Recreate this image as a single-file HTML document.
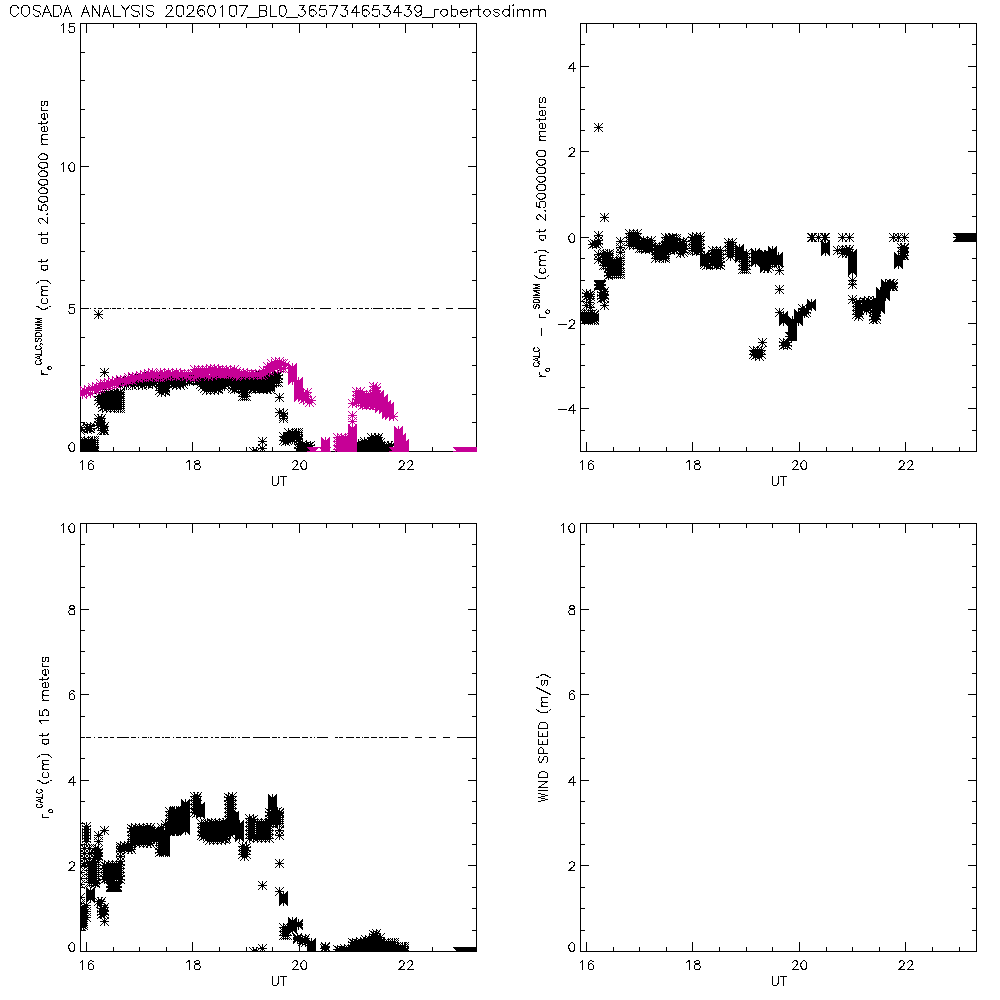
<!DOCTYPE html>
<html><head><meta charset="utf-8"><title>COSADA ANALYSIS</title>
<style>
html,body{margin:0;padding:0;background:#fff;}
svg{display:block}
text{font-family:"Liberation Sans",sans-serif;fill:none;stroke:none;}
path{fill:none;stroke-width:1;}
</style></head><body>
<svg width="1000" height="1000" viewBox="0 0 1000 1000" shape-rendering="crispEdges">
<defs><clipPath id="c1"><rect x="80" y="23" width="397" height="429"/></clipPath><clipPath id="c2"><rect x="580" y="23" width="397" height="429"/></clipPath><clipPath id="c3"><rect x="80" y="523" width="397" height="429"/></clipPath></defs>
<rect x="0" y="0" width="1000" height="1000" fill="#fff"/>
<rect x="80" y="23" width="397" height="1" fill="#000"/>
<rect x="80" y="451" width="397" height="1" fill="#000"/>
<rect x="80" y="23" width="1" height="429" fill="#000"/>
<rect x="476" y="23" width="1" height="429" fill="#000"/>
<rect x="86" y="24" width="1" height="9" fill="#000"/>
<rect x="86" y="442" width="1" height="9" fill="#000"/>
<rect x="192" y="24" width="1" height="9" fill="#000"/>
<rect x="192" y="442" width="1" height="9" fill="#000"/>
<rect x="299" y="24" width="1" height="9" fill="#000"/>
<rect x="299" y="442" width="1" height="9" fill="#000"/>
<rect x="405" y="24" width="1" height="9" fill="#000"/>
<rect x="405" y="442" width="1" height="9" fill="#000"/>
<rect x="113" y="24" width="1" height="4" fill="#000"/>
<rect x="113" y="447" width="1" height="4" fill="#000"/>
<rect x="139" y="24" width="1" height="4" fill="#000"/>
<rect x="139" y="447" width="1" height="4" fill="#000"/>
<rect x="166" y="24" width="1" height="4" fill="#000"/>
<rect x="166" y="447" width="1" height="4" fill="#000"/>
<rect x="219" y="24" width="1" height="4" fill="#000"/>
<rect x="219" y="447" width="1" height="4" fill="#000"/>
<rect x="246" y="24" width="1" height="4" fill="#000"/>
<rect x="246" y="447" width="1" height="4" fill="#000"/>
<rect x="272" y="24" width="1" height="4" fill="#000"/>
<rect x="272" y="447" width="1" height="4" fill="#000"/>
<rect x="326" y="24" width="1" height="4" fill="#000"/>
<rect x="326" y="447" width="1" height="4" fill="#000"/>
<rect x="352" y="24" width="1" height="4" fill="#000"/>
<rect x="352" y="447" width="1" height="4" fill="#000"/>
<rect x="379" y="24" width="1" height="4" fill="#000"/>
<rect x="379" y="447" width="1" height="4" fill="#000"/>
<rect x="432" y="24" width="1" height="4" fill="#000"/>
<rect x="432" y="447" width="1" height="4" fill="#000"/>
<rect x="459" y="24" width="1" height="4" fill="#000"/>
<rect x="459" y="447" width="1" height="4" fill="#000"/>
<rect x="81" y="308" width="8" height="1" fill="#000"/>
<rect x="468" y="308" width="8" height="1" fill="#000"/>
<rect x="81" y="166" width="8" height="1" fill="#000"/>
<rect x="468" y="166" width="8" height="1" fill="#000"/>
<rect x="81" y="422" width="4" height="1" fill="#000"/>
<rect x="472" y="422" width="4" height="1" fill="#000"/>
<rect x="81" y="394" width="4" height="1" fill="#000"/>
<rect x="472" y="394" width="4" height="1" fill="#000"/>
<rect x="81" y="365" width="4" height="1" fill="#000"/>
<rect x="472" y="365" width="4" height="1" fill="#000"/>
<rect x="81" y="337" width="4" height="1" fill="#000"/>
<rect x="472" y="337" width="4" height="1" fill="#000"/>
<rect x="81" y="280" width="4" height="1" fill="#000"/>
<rect x="472" y="280" width="4" height="1" fill="#000"/>
<rect x="81" y="251" width="4" height="1" fill="#000"/>
<rect x="472" y="251" width="4" height="1" fill="#000"/>
<rect x="81" y="223" width="4" height="1" fill="#000"/>
<rect x="472" y="223" width="4" height="1" fill="#000"/>
<rect x="81" y="194" width="4" height="1" fill="#000"/>
<rect x="472" y="194" width="4" height="1" fill="#000"/>
<rect x="81" y="137" width="4" height="1" fill="#000"/>
<rect x="472" y="137" width="4" height="1" fill="#000"/>
<rect x="81" y="109" width="4" height="1" fill="#000"/>
<rect x="472" y="109" width="4" height="1" fill="#000"/>
<rect x="81" y="80" width="4" height="1" fill="#000"/>
<rect x="472" y="80" width="4" height="1" fill="#000"/>
<rect x="81" y="52" width="4" height="1" fill="#000"/>
<rect x="472" y="52" width="4" height="1" fill="#000"/>
<rect x="580" y="23" width="397" height="1" fill="#000"/>
<rect x="580" y="451" width="397" height="1" fill="#000"/>
<rect x="580" y="23" width="1" height="429" fill="#000"/>
<rect x="976" y="23" width="1" height="429" fill="#000"/>
<rect x="586" y="24" width="1" height="9" fill="#000"/>
<rect x="586" y="442" width="1" height="9" fill="#000"/>
<rect x="692" y="24" width="1" height="9" fill="#000"/>
<rect x="692" y="442" width="1" height="9" fill="#000"/>
<rect x="799" y="24" width="1" height="9" fill="#000"/>
<rect x="799" y="442" width="1" height="9" fill="#000"/>
<rect x="905" y="24" width="1" height="9" fill="#000"/>
<rect x="905" y="442" width="1" height="9" fill="#000"/>
<rect x="613" y="24" width="1" height="4" fill="#000"/>
<rect x="613" y="447" width="1" height="4" fill="#000"/>
<rect x="639" y="24" width="1" height="4" fill="#000"/>
<rect x="639" y="447" width="1" height="4" fill="#000"/>
<rect x="666" y="24" width="1" height="4" fill="#000"/>
<rect x="666" y="447" width="1" height="4" fill="#000"/>
<rect x="719" y="24" width="1" height="4" fill="#000"/>
<rect x="719" y="447" width="1" height="4" fill="#000"/>
<rect x="746" y="24" width="1" height="4" fill="#000"/>
<rect x="746" y="447" width="1" height="4" fill="#000"/>
<rect x="772" y="24" width="1" height="4" fill="#000"/>
<rect x="772" y="447" width="1" height="4" fill="#000"/>
<rect x="826" y="24" width="1" height="4" fill="#000"/>
<rect x="826" y="447" width="1" height="4" fill="#000"/>
<rect x="852" y="24" width="1" height="4" fill="#000"/>
<rect x="852" y="447" width="1" height="4" fill="#000"/>
<rect x="879" y="24" width="1" height="4" fill="#000"/>
<rect x="879" y="447" width="1" height="4" fill="#000"/>
<rect x="932" y="24" width="1" height="4" fill="#000"/>
<rect x="932" y="447" width="1" height="4" fill="#000"/>
<rect x="959" y="24" width="1" height="4" fill="#000"/>
<rect x="959" y="447" width="1" height="4" fill="#000"/>
<rect x="581" y="408" width="8" height="1" fill="#000"/>
<rect x="968" y="408" width="8" height="1" fill="#000"/>
<rect x="581" y="323" width="8" height="1" fill="#000"/>
<rect x="968" y="323" width="8" height="1" fill="#000"/>
<rect x="581" y="237" width="8" height="1" fill="#000"/>
<rect x="968" y="237" width="8" height="1" fill="#000"/>
<rect x="581" y="151" width="8" height="1" fill="#000"/>
<rect x="968" y="151" width="8" height="1" fill="#000"/>
<rect x="581" y="66" width="8" height="1" fill="#000"/>
<rect x="968" y="66" width="8" height="1" fill="#000"/>
<rect x="581" y="430" width="4" height="1" fill="#000"/>
<rect x="972" y="430" width="4" height="1" fill="#000"/>
<rect x="581" y="387" width="4" height="1" fill="#000"/>
<rect x="972" y="387" width="4" height="1" fill="#000"/>
<rect x="581" y="365" width="4" height="1" fill="#000"/>
<rect x="972" y="365" width="4" height="1" fill="#000"/>
<rect x="581" y="344" width="4" height="1" fill="#000"/>
<rect x="972" y="344" width="4" height="1" fill="#000"/>
<rect x="581" y="301" width="4" height="1" fill="#000"/>
<rect x="972" y="301" width="4" height="1" fill="#000"/>
<rect x="581" y="280" width="4" height="1" fill="#000"/>
<rect x="972" y="280" width="4" height="1" fill="#000"/>
<rect x="581" y="258" width="4" height="1" fill="#000"/>
<rect x="972" y="258" width="4" height="1" fill="#000"/>
<rect x="581" y="216" width="4" height="1" fill="#000"/>
<rect x="972" y="216" width="4" height="1" fill="#000"/>
<rect x="581" y="194" width="4" height="1" fill="#000"/>
<rect x="972" y="194" width="4" height="1" fill="#000"/>
<rect x="581" y="173" width="4" height="1" fill="#000"/>
<rect x="972" y="173" width="4" height="1" fill="#000"/>
<rect x="581" y="130" width="4" height="1" fill="#000"/>
<rect x="972" y="130" width="4" height="1" fill="#000"/>
<rect x="581" y="109" width="4" height="1" fill="#000"/>
<rect x="972" y="109" width="4" height="1" fill="#000"/>
<rect x="581" y="87" width="4" height="1" fill="#000"/>
<rect x="972" y="87" width="4" height="1" fill="#000"/>
<rect x="581" y="44" width="4" height="1" fill="#000"/>
<rect x="972" y="44" width="4" height="1" fill="#000"/>
<rect x="80" y="523" width="397" height="1" fill="#000"/>
<rect x="80" y="951" width="397" height="1" fill="#000"/>
<rect x="80" y="523" width="1" height="429" fill="#000"/>
<rect x="476" y="523" width="1" height="429" fill="#000"/>
<rect x="86" y="524" width="1" height="9" fill="#000"/>
<rect x="86" y="942" width="1" height="9" fill="#000"/>
<rect x="192" y="524" width="1" height="9" fill="#000"/>
<rect x="192" y="942" width="1" height="9" fill="#000"/>
<rect x="299" y="524" width="1" height="9" fill="#000"/>
<rect x="299" y="942" width="1" height="9" fill="#000"/>
<rect x="405" y="524" width="1" height="9" fill="#000"/>
<rect x="405" y="942" width="1" height="9" fill="#000"/>
<rect x="113" y="524" width="1" height="4" fill="#000"/>
<rect x="113" y="947" width="1" height="4" fill="#000"/>
<rect x="139" y="524" width="1" height="4" fill="#000"/>
<rect x="139" y="947" width="1" height="4" fill="#000"/>
<rect x="166" y="524" width="1" height="4" fill="#000"/>
<rect x="166" y="947" width="1" height="4" fill="#000"/>
<rect x="219" y="524" width="1" height="4" fill="#000"/>
<rect x="219" y="947" width="1" height="4" fill="#000"/>
<rect x="246" y="524" width="1" height="4" fill="#000"/>
<rect x="246" y="947" width="1" height="4" fill="#000"/>
<rect x="272" y="524" width="1" height="4" fill="#000"/>
<rect x="272" y="947" width="1" height="4" fill="#000"/>
<rect x="326" y="524" width="1" height="4" fill="#000"/>
<rect x="326" y="947" width="1" height="4" fill="#000"/>
<rect x="352" y="524" width="1" height="4" fill="#000"/>
<rect x="352" y="947" width="1" height="4" fill="#000"/>
<rect x="379" y="524" width="1" height="4" fill="#000"/>
<rect x="379" y="947" width="1" height="4" fill="#000"/>
<rect x="432" y="524" width="1" height="4" fill="#000"/>
<rect x="432" y="947" width="1" height="4" fill="#000"/>
<rect x="459" y="524" width="1" height="4" fill="#000"/>
<rect x="459" y="947" width="1" height="4" fill="#000"/>
<rect x="81" y="865" width="8" height="1" fill="#000"/>
<rect x="468" y="865" width="8" height="1" fill="#000"/>
<rect x="81" y="780" width="8" height="1" fill="#000"/>
<rect x="468" y="780" width="8" height="1" fill="#000"/>
<rect x="81" y="694" width="8" height="1" fill="#000"/>
<rect x="468" y="694" width="8" height="1" fill="#000"/>
<rect x="81" y="609" width="8" height="1" fill="#000"/>
<rect x="468" y="609" width="8" height="1" fill="#000"/>
<rect x="81" y="930" width="4" height="1" fill="#000"/>
<rect x="472" y="930" width="4" height="1" fill="#000"/>
<rect x="81" y="908" width="4" height="1" fill="#000"/>
<rect x="472" y="908" width="4" height="1" fill="#000"/>
<rect x="81" y="887" width="4" height="1" fill="#000"/>
<rect x="472" y="887" width="4" height="1" fill="#000"/>
<rect x="81" y="844" width="4" height="1" fill="#000"/>
<rect x="472" y="844" width="4" height="1" fill="#000"/>
<rect x="81" y="823" width="4" height="1" fill="#000"/>
<rect x="472" y="823" width="4" height="1" fill="#000"/>
<rect x="81" y="801" width="4" height="1" fill="#000"/>
<rect x="472" y="801" width="4" height="1" fill="#000"/>
<rect x="81" y="758" width="4" height="1" fill="#000"/>
<rect x="472" y="758" width="4" height="1" fill="#000"/>
<rect x="81" y="737" width="4" height="1" fill="#000"/>
<rect x="472" y="737" width="4" height="1" fill="#000"/>
<rect x="81" y="716" width="4" height="1" fill="#000"/>
<rect x="472" y="716" width="4" height="1" fill="#000"/>
<rect x="81" y="673" width="4" height="1" fill="#000"/>
<rect x="472" y="673" width="4" height="1" fill="#000"/>
<rect x="81" y="651" width="4" height="1" fill="#000"/>
<rect x="472" y="651" width="4" height="1" fill="#000"/>
<rect x="81" y="630" width="4" height="1" fill="#000"/>
<rect x="472" y="630" width="4" height="1" fill="#000"/>
<rect x="81" y="587" width="4" height="1" fill="#000"/>
<rect x="472" y="587" width="4" height="1" fill="#000"/>
<rect x="81" y="566" width="4" height="1" fill="#000"/>
<rect x="472" y="566" width="4" height="1" fill="#000"/>
<rect x="81" y="544" width="4" height="1" fill="#000"/>
<rect x="472" y="544" width="4" height="1" fill="#000"/>
<rect x="580" y="523" width="397" height="1" fill="#000"/>
<rect x="580" y="951" width="397" height="1" fill="#000"/>
<rect x="580" y="523" width="1" height="429" fill="#000"/>
<rect x="976" y="523" width="1" height="429" fill="#000"/>
<rect x="586" y="524" width="1" height="9" fill="#000"/>
<rect x="586" y="942" width="1" height="9" fill="#000"/>
<rect x="692" y="524" width="1" height="9" fill="#000"/>
<rect x="692" y="942" width="1" height="9" fill="#000"/>
<rect x="799" y="524" width="1" height="9" fill="#000"/>
<rect x="799" y="942" width="1" height="9" fill="#000"/>
<rect x="905" y="524" width="1" height="9" fill="#000"/>
<rect x="905" y="942" width="1" height="9" fill="#000"/>
<rect x="613" y="524" width="1" height="4" fill="#000"/>
<rect x="613" y="947" width="1" height="4" fill="#000"/>
<rect x="639" y="524" width="1" height="4" fill="#000"/>
<rect x="639" y="947" width="1" height="4" fill="#000"/>
<rect x="666" y="524" width="1" height="4" fill="#000"/>
<rect x="666" y="947" width="1" height="4" fill="#000"/>
<rect x="719" y="524" width="1" height="4" fill="#000"/>
<rect x="719" y="947" width="1" height="4" fill="#000"/>
<rect x="746" y="524" width="1" height="4" fill="#000"/>
<rect x="746" y="947" width="1" height="4" fill="#000"/>
<rect x="772" y="524" width="1" height="4" fill="#000"/>
<rect x="772" y="947" width="1" height="4" fill="#000"/>
<rect x="826" y="524" width="1" height="4" fill="#000"/>
<rect x="826" y="947" width="1" height="4" fill="#000"/>
<rect x="852" y="524" width="1" height="4" fill="#000"/>
<rect x="852" y="947" width="1" height="4" fill="#000"/>
<rect x="879" y="524" width="1" height="4" fill="#000"/>
<rect x="879" y="947" width="1" height="4" fill="#000"/>
<rect x="932" y="524" width="1" height="4" fill="#000"/>
<rect x="932" y="947" width="1" height="4" fill="#000"/>
<rect x="959" y="524" width="1" height="4" fill="#000"/>
<rect x="959" y="947" width="1" height="4" fill="#000"/>
<rect x="581" y="865" width="8" height="1" fill="#000"/>
<rect x="968" y="865" width="8" height="1" fill="#000"/>
<rect x="581" y="780" width="8" height="1" fill="#000"/>
<rect x="968" y="780" width="8" height="1" fill="#000"/>
<rect x="581" y="694" width="8" height="1" fill="#000"/>
<rect x="968" y="694" width="8" height="1" fill="#000"/>
<rect x="581" y="609" width="8" height="1" fill="#000"/>
<rect x="968" y="609" width="8" height="1" fill="#000"/>
<rect x="581" y="930" width="4" height="1" fill="#000"/>
<rect x="972" y="930" width="4" height="1" fill="#000"/>
<rect x="581" y="908" width="4" height="1" fill="#000"/>
<rect x="972" y="908" width="4" height="1" fill="#000"/>
<rect x="581" y="887" width="4" height="1" fill="#000"/>
<rect x="972" y="887" width="4" height="1" fill="#000"/>
<rect x="581" y="844" width="4" height="1" fill="#000"/>
<rect x="972" y="844" width="4" height="1" fill="#000"/>
<rect x="581" y="823" width="4" height="1" fill="#000"/>
<rect x="972" y="823" width="4" height="1" fill="#000"/>
<rect x="581" y="801" width="4" height="1" fill="#000"/>
<rect x="972" y="801" width="4" height="1" fill="#000"/>
<rect x="581" y="758" width="4" height="1" fill="#000"/>
<rect x="972" y="758" width="4" height="1" fill="#000"/>
<rect x="581" y="737" width="4" height="1" fill="#000"/>
<rect x="972" y="737" width="4" height="1" fill="#000"/>
<rect x="581" y="716" width="4" height="1" fill="#000"/>
<rect x="972" y="716" width="4" height="1" fill="#000"/>
<rect x="581" y="673" width="4" height="1" fill="#000"/>
<rect x="972" y="673" width="4" height="1" fill="#000"/>
<rect x="581" y="651" width="4" height="1" fill="#000"/>
<rect x="972" y="651" width="4" height="1" fill="#000"/>
<rect x="581" y="630" width="4" height="1" fill="#000"/>
<rect x="972" y="630" width="4" height="1" fill="#000"/>
<rect x="581" y="587" width="4" height="1" fill="#000"/>
<rect x="972" y="587" width="4" height="1" fill="#000"/>
<rect x="581" y="566" width="4" height="1" fill="#000"/>
<rect x="972" y="566" width="4" height="1" fill="#000"/>
<rect x="581" y="544" width="4" height="1" fill="#000"/>
<rect x="972" y="544" width="4" height="1" fill="#000"/>
<path clip-path="url(#c1)" stroke="#000" d="M76 427.5h9M80.5 423v9M76 423l9 9M85 423l-9 9M76 430.5h9M80.5 426v9M76 426l9 9M85 426l-9 9M76 440.5h9M80.5 436v9M76 436l9 9M85 436l-9 9M76 444.5h9M80.5 440v9M76 440l9 9M85 440l-9 9M76 448.5h9M80.5 444v9M76 444l9 9M85 444l-9 9M76 451.5h9M80.5 447v9M76 447l9 9M85 447l-9 9M78 442.5h9M82.5 438v9M78 438l9 9M87 438l-9 9M78 446.5h9M82.5 442v9M78 442l9 9M87 442l-9 9M78 450.5h9M82.5 446v9M78 446l9 9M87 446l-9 9M80 440.5h9M84.5 436v9M80 436l9 9M89 436l-9 9M80 444.5h9M84.5 440v9M80 440l9 9M89 440l-9 9M80 448.5h9M84.5 444v9M80 444l9 9M89 444l-9 9M80 451.5h9M84.5 447v9M80 447l9 9M89 447l-9 9M82 442.5h9M86.5 438v9M82 438l9 9M91 438l-9 9M82 446.5h9M86.5 442v9M82 442l9 9M91 442l-9 9M82 450.5h9M86.5 446v9M82 446l9 9M91 446l-9 9M83 427.5h9M87.5 423v9M83 423l9 9M92 423l-9 9M83 429.5h9M87.5 425v9M83 425l9 9M92 425l-9 9M84 441.5h9M88.5 437v9M84 437l9 9M93 437l-9 9M84 444.5h9M88.5 440v9M84 440l9 9M93 440l-9 9M84 448.5h9M88.5 444v9M84 444l9 9M93 444l-9 9M84 451.5h9M88.5 447v9M84 447l9 9M93 447l-9 9M85 428.5h9M89.5 424v9M85 424l9 9M94 424l-9 9M86 426.5h9M90.5 422v9M86 422l9 9M95 422l-9 9M86 428.5h9M90.5 424v9M86 424l9 9M95 424l-9 9M86 442.5h9M90.5 438v9M86 438l9 9M95 438l-9 9M86 446.5h9M90.5 442v9M86 442l9 9M95 442l-9 9M86 450.5h9M90.5 446v9M86 446l9 9M95 446l-9 9M88 440.5h9M92.5 436v9M88 436l9 9M97 436l-9 9M88 444.5h9M92.5 440v9M88 440l9 9M97 440l-9 9M88 448.5h9M92.5 444v9M88 444l9 9M97 444l-9 9M88 451.5h9M92.5 447v9M88 447l9 9M97 447l-9 9M90 440.5h9M94.5 436v9M90 436l9 9M99 436l-9 9M90 442.5h9M94.5 438v9M90 438l9 9M99 438l-9 9M90 444.5h9M94.5 440v9M90 440l9 9M99 440l-9 9M90 446.5h9M94.5 442v9M90 442l9 9M99 442l-9 9M90 448.5h9M94.5 444v9M90 444l9 9M99 444l-9 9M90 450.5h9M94.5 446v9M90 446l9 9M99 446l-9 9M90 451.5h9M94.5 447v9M90 447l9 9M99 447l-9 9M94 314.5h9M98.5 310v9M94 310l9 9M103 310l-9 9M94 396.5h9M98.5 392v9M94 392l9 9M103 392l-9 9M94 400.5h9M98.5 396v9M94 396l9 9M103 396l-9 9M94 418.5h9M98.5 414v9M94 414l9 9M103 414l-9 9M94 422.5h9M98.5 418v9M94 418l9 9M103 418l-9 9M94 425.5h9M98.5 421v9M94 421l9 9M103 421l-9 9M96 398.5h9M100.5 394v9M96 394l9 9M105 394l-9 9M96 402.5h9M100.5 398v9M96 398l9 9M105 398l-9 9M96 420.5h9M100.5 416v9M96 416l9 9M105 416l-9 9M96 424.5h9M100.5 420v9M96 420l9 9M105 420l-9 9M97 396.5h9M101.5 392v9M97 392l9 9M106 392l-9 9M97 400.5h9M101.5 396v9M97 396l9 9M106 396l-9 9M97 418.5h9M101.5 414v9M97 414l9 9M106 414l-9 9M97 422.5h9M101.5 418v9M97 418l9 9M106 418l-9 9M97 426.5h9M101.5 422v9M97 422l9 9M106 422l-9 9M97 430.5h9M101.5 426v9M97 426l9 9M106 426l-9 9M98 392.5h9M102.5 388v9M98 388l9 9M107 388l-9 9M98 396.5h9M102.5 392v9M98 392l9 9M107 392l-9 9M98 400.5h9M102.5 396v9M98 396l9 9M107 396l-9 9M98 404.5h9M102.5 400v9M98 400l9 9M107 400l-9 9M98 407.5h9M102.5 403v9M98 403l9 9M107 403l-9 9M99 428.5h9M103.5 424v9M99 424l9 9M108 424l-9 9M99 430.5h9M103.5 426v9M99 426l9 9M108 426l-9 9M100 372.5h9M104.5 368v9M100 368l9 9M109 368l-9 9M100 394.5h9M104.5 390v9M100 390l9 9M109 390l-9 9M100 398.5h9M104.5 394v9M100 394l9 9M109 394l-9 9M100 402.5h9M104.5 398v9M100 398l9 9M109 398l-9 9M100 406.5h9M104.5 402v9M100 402l9 9M109 402l-9 9M100 426.5h9M104.5 422v9M100 422l9 9M109 422l-9 9M100 430.5h9M104.5 426v9M100 426l9 9M109 426l-9 9M102 392.5h9M106.5 388v9M102 388l9 9M111 388l-9 9M102 396.5h9M106.5 392v9M102 392l9 9M111 392l-9 9M102 400.5h9M106.5 396v9M102 396l9 9M111 396l-9 9M102 404.5h9M106.5 400v9M102 400l9 9M111 400l-9 9M102 408.5h9M106.5 404v9M102 404l9 9M111 404l-9 9M104 394.5h9M108.5 390v9M104 390l9 9M113 390l-9 9M104 398.5h9M108.5 394v9M104 394l9 9M113 394l-9 9M104 402.5h9M108.5 398v9M104 398l9 9M113 398l-9 9M104 406.5h9M108.5 402v9M104 402l9 9M113 402l-9 9M106 392.5h9M110.5 388v9M106 388l9 9M115 388l-9 9M106 396.5h9M110.5 392v9M106 392l9 9M115 392l-9 9M106 400.5h9M110.5 396v9M106 396l9 9M115 396l-9 9M106 404.5h9M110.5 400v9M106 400l9 9M115 400l-9 9M106 408.5h9M110.5 404v9M106 404l9 9M115 404l-9 9M108 394.5h9M112.5 390v9M108 390l9 9M117 390l-9 9M108 398.5h9M112.5 394v9M108 394l9 9M117 394l-9 9M108 402.5h9M112.5 398v9M108 398l9 9M117 398l-9 9M108 406.5h9M112.5 402v9M108 402l9 9M117 402l-9 9M110 393.5h9M114.5 389v9M110 389l9 9M119 389l-9 9M110 396.5h9M114.5 392v9M110 392l9 9M119 392l-9 9M110 400.5h9M114.5 396v9M110 396l9 9M119 396l-9 9M110 404.5h9M114.5 400v9M110 400l9 9M119 400l-9 9M110 408.5h9M114.5 404v9M110 404l9 9M119 404l-9 9M112 394.5h9M116.5 390v9M112 390l9 9M121 390l-9 9M112 398.5h9M116.5 394v9M112 394l9 9M121 394l-9 9M112 402.5h9M116.5 398v9M112 398l9 9M121 398l-9 9M112 406.5h9M116.5 402v9M112 402l9 9M121 402l-9 9M114 393.5h9M118.5 389v9M114 389l9 9M123 389l-9 9M114 396.5h9M118.5 392v9M114 392l9 9M123 392l-9 9M114 400.5h9M118.5 396v9M114 396l9 9M123 396l-9 9M114 404.5h9M118.5 400v9M114 400l9 9M123 400l-9 9M114 408.5h9M118.5 404v9M114 404l9 9M123 404l-9 9M116 380.5h9M120.5 376v9M116 376l9 9M125 376l-9 9M116 385.5h9M120.5 381v9M116 381l9 9M125 381l-9 9M116 392.5h9M120.5 388v9M116 388l9 9M125 388l-9 9M116 394.5h9M120.5 390v9M116 390l9 9M125 390l-9 9M116 396.5h9M120.5 392v9M116 392l9 9M125 392l-9 9M116 398.5h9M120.5 394v9M116 394l9 9M125 394l-9 9M116 400.5h9M120.5 396v9M116 396l9 9M125 396l-9 9M116 402.5h9M120.5 398v9M116 398l9 9M125 398l-9 9M116 404.5h9M120.5 400v9M116 400l9 9M125 400l-9 9M116 406.5h9M120.5 402v9M116 402l9 9M125 402l-9 9M116 408.5h9M120.5 404v9M116 404l9 9M125 404l-9 9M118 382.5h9M122.5 378v9M118 378l9 9M127 378l-9 9M120 379.5h9M124.5 375v9M120 375l9 9M129 375l-9 9M120 383.5h9M124.5 379v9M120 379l9 9M129 379l-9 9M122 381.5h9M126.5 377v9M122 377l9 9M131 377l-9 9M122 385.5h9M126.5 381v9M122 381l9 9M131 381l-9 9M124 379.5h9M128.5 375v9M124 375l9 9M133 375l-9 9M124 383.5h9M128.5 379v9M124 379l9 9M133 379l-9 9M126 381.5h9M130.5 377v9M126 377l9 9M135 377l-9 9M126 383.5h9M130.5 379v9M126 379l9 9M135 379l-9 9M128 377.5h9M132.5 373v9M128 373l9 9M137 373l-9 9M128 381.5h9M132.5 377v9M128 377l9 9M137 377l-9 9M128 385.5h9M132.5 381v9M128 381l9 9M137 381l-9 9M130 379.5h9M134.5 375v9M130 375l9 9M139 375l-9 9M130 383.5h9M134.5 379v9M130 379l9 9M139 379l-9 9M132 378.5h9M136.5 374v9M132 374l9 9M141 374l-9 9M132 382.5h9M136.5 378v9M132 378l9 9M141 378l-9 9M134 380.5h9M138.5 376v9M134 376l9 9M143 376l-9 9M134 384.5h9M138.5 380v9M134 380l9 9M143 380l-9 9M136 377.5h9M140.5 373v9M136 373l9 9M145 373l-9 9M136 381.5h9M140.5 377v9M136 377l9 9M145 377l-9 9M138 379.5h9M142.5 375v9M138 375l9 9M147 375l-9 9M138 385.5h9M142.5 381v9M138 381l9 9M147 381l-9 9M140 378.5h9M144.5 374v9M140 374l9 9M149 374l-9 9M140 382.5h9M144.5 378v9M140 378l9 9M149 378l-9 9M142 380.5h9M146.5 376v9M142 376l9 9M151 376l-9 9M142 383.5h9M146.5 379v9M142 379l9 9M151 379l-9 9M144 375.5h9M148.5 371v9M144 371l9 9M153 371l-9 9M144 379.5h9M148.5 375v9M144 375l9 9M153 375l-9 9M144 384.5h9M148.5 380v9M144 380l9 9M153 380l-9 9M146 377.5h9M150.5 373v9M146 373l9 9M155 373l-9 9M146 381.5h9M150.5 377v9M146 377l9 9M155 377l-9 9M148 376.5h9M152.5 372v9M148 372l9 9M157 372l-9 9M148 380.5h9M152.5 376v9M148 376l9 9M157 376l-9 9M148 384.5h9M152.5 380v9M148 380l9 9M157 380l-9 9M150 378.5h9M154.5 374v9M150 374l9 9M159 374l-9 9M150 382.5h9M154.5 378v9M150 378l9 9M159 378l-9 9M155 379.5h9M159.5 375v9M155 375l9 9M164 375l-9 9M155 382.5h9M159.5 378v9M155 378l9 9M164 378l-9 9M155 386.5h9M159.5 382v9M155 382l9 9M164 382l-9 9M155 390.5h9M159.5 386v9M155 386l9 9M164 386l-9 9M157 380.5h9M161.5 376v9M157 376l9 9M166 376l-9 9M157 384.5h9M161.5 380v9M157 380l9 9M166 380l-9 9M157 388.5h9M161.5 384v9M157 384l9 9M166 384l-9 9M157 392.5h9M161.5 388v9M157 388l9 9M166 388l-9 9M159 379.5h9M163.5 375v9M159 375l9 9M168 375l-9 9M159 382.5h9M163.5 378v9M159 378l9 9M168 378l-9 9M159 386.5h9M163.5 382v9M159 382l9 9M168 382l-9 9M159 390.5h9M163.5 386v9M159 386l9 9M168 386l-9 9M161 377.5h9M165.5 373v9M161 373l9 9M170 373l-9 9M161 378.5h9M165.5 374v9M161 374l9 9M170 374l-9 9M161 380.5h9M165.5 376v9M161 376l9 9M170 376l-9 9M161 381.5h9M165.5 377v9M161 377l9 9M170 377l-9 9M161 382.5h9M165.5 378v9M161 378l9 9M170 378l-9 9M161 384.5h9M165.5 380v9M161 380l9 9M170 380l-9 9M161 386.5h9M165.5 382v9M161 382l9 9M170 382l-9 9M161 388.5h9M165.5 384v9M161 384l9 9M170 384l-9 9M161 390.5h9M165.5 386v9M161 386l9 9M170 386l-9 9M161 391.5h9M165.5 387v9M161 387l9 9M170 387l-9 9M163 379.5h9M167.5 375v9M163 375l9 9M172 375l-9 9M163 383.5h9M167.5 379v9M163 379l9 9M172 379l-9 9M165 378.5h9M169.5 374v9M165 374l9 9M174 374l-9 9M165 381.5h9M169.5 377v9M165 377l9 9M174 377l-9 9M165 383.5h9M169.5 379v9M165 379l9 9M174 379l-9 9M167 379.5h9M171.5 375v9M167 375l9 9M176 375l-9 9M167 383.5h9M171.5 379v9M167 379l9 9M176 379l-9 9M169 377.5h9M173.5 373v9M169 373l9 9M178 373l-9 9M169 381.5h9M173.5 377v9M169 377l9 9M178 377l-9 9M169 384.5h9M173.5 380v9M169 380l9 9M178 380l-9 9M171 379.5h9M175.5 375v9M171 375l9 9M180 375l-9 9M171 383.5h9M175.5 379v9M171 379l9 9M180 379l-9 9M172 378.5h9M176.5 374v9M172 374l9 9M181 374l-9 9M172 381.5h9M176.5 377v9M172 377l9 9M181 377l-9 9M172 384.5h9M176.5 380v9M172 380l9 9M181 380l-9 9M172 385.5h9M176.5 381v9M172 381l9 9M181 381l-9 9M174 379.5h9M178.5 375v9M174 375l9 9M183 375l-9 9M174 383.5h9M178.5 379v9M174 379l9 9M183 379l-9 9M176 377.5h9M180.5 373v9M176 373l9 9M185 373l-9 9M176 381.5h9M180.5 377v9M176 377l9 9M185 377l-9 9M176 385.5h9M180.5 381v9M176 381l9 9M185 381l-9 9M178 379.5h9M182.5 375v9M178 375l9 9M187 375l-9 9M178 383.5h9M182.5 379v9M178 379l9 9M187 379l-9 9M179 377.5h9M183.5 373v9M179 373l9 9M188 373l-9 9M179 380.5h9M183.5 376v9M179 376l9 9M188 376l-9 9M179 381.5h9M183.5 377v9M179 377l9 9M188 377l-9 9M179 384.5h9M183.5 380v9M179 380l9 9M188 380l-9 9M181 378.5h9M185.5 374v9M181 374l9 9M190 374l-9 9M181 380.5h9M185.5 376v9M181 376l9 9M190 376l-9 9M183 376.5h9M187.5 372v9M183 372l9 9M192 372l-9 9M183 380.5h9M187.5 376v9M183 376l9 9M192 376l-9 9M185 378.5h9M189.5 374v9M185 374l9 9M194 374l-9 9M185 381.5h9M189.5 377v9M185 377l9 9M194 377l-9 9M187 376.5h9M191.5 372v9M187 372l9 9M196 372l-9 9M187 380.5h9M191.5 376v9M187 376l9 9M196 376l-9 9M189 378.5h9M193.5 374v9M189 374l9 9M198 374l-9 9M189 380.5h9M193.5 376v9M189 376l9 9M198 376l-9 9M191 377.5h9M195.5 373v9M191 373l9 9M200 373l-9 9M191 380.5h9M195.5 376v9M191 376l9 9M200 376l-9 9M193 378.5h9M197.5 374v9M193 374l9 9M202 374l-9 9M193 381.5h9M197.5 377v9M193 377l9 9M202 377l-9 9M195 377.5h9M199.5 373v9M195 373l9 9M204 373l-9 9M195 380.5h9M199.5 376v9M195 376l9 9M204 376l-9 9M196 376.5h9M200.5 372v9M196 372l9 9M205 372l-9 9M196 380.5h9M200.5 376v9M196 376l9 9M205 376l-9 9M196 384.5h9M200.5 380v9M196 380l9 9M205 380l-9 9M198 378.5h9M202.5 374v9M198 374l9 9M207 374l-9 9M198 382.5h9M202.5 378v9M198 378l9 9M207 378l-9 9M198 386.5h9M202.5 382v9M198 382l9 9M207 382l-9 9M200 376.5h9M204.5 372v9M200 372l9 9M209 372l-9 9M200 380.5h9M204.5 376v9M200 376l9 9M209 376l-9 9M200 384.5h9M204.5 380v9M200 380l9 9M209 380l-9 9M200 388.5h9M204.5 384v9M200 384l9 9M209 384l-9 9M202 378.5h9M206.5 374v9M202 374l9 9M211 374l-9 9M202 382.5h9M206.5 378v9M202 378l9 9M211 378l-9 9M202 386.5h9M206.5 382v9M202 382l9 9M211 382l-9 9M202 390.5h9M206.5 386v9M202 386l9 9M211 386l-9 9M204 376.5h9M208.5 372v9M204 372l9 9M213 372l-9 9M204 380.5h9M208.5 376v9M204 376l9 9M213 376l-9 9M204 384.5h9M208.5 380v9M204 380l9 9M213 380l-9 9M204 388.5h9M208.5 384v9M204 384l9 9M213 384l-9 9M206 378.5h9M210.5 374v9M206 374l9 9M215 374l-9 9M206 382.5h9M210.5 378v9M206 378l9 9M215 378l-9 9M206 386.5h9M210.5 382v9M206 382l9 9M215 382l-9 9M206 390.5h9M210.5 386v9M206 386l9 9M215 386l-9 9M208 376.5h9M212.5 372v9M208 372l9 9M217 372l-9 9M208 380.5h9M212.5 376v9M208 376l9 9M217 376l-9 9M208 384.5h9M212.5 380v9M208 380l9 9M217 380l-9 9M208 388.5h9M212.5 384v9M208 384l9 9M217 384l-9 9M210 378.5h9M214.5 374v9M210 374l9 9M219 374l-9 9M210 382.5h9M214.5 378v9M210 378l9 9M219 378l-9 9M210 386.5h9M214.5 382v9M210 382l9 9M219 382l-9 9M210 390.5h9M214.5 386v9M210 386l9 9M219 386l-9 9M212 376.5h9M216.5 372v9M212 372l9 9M221 372l-9 9M212 380.5h9M216.5 376v9M212 376l9 9M221 376l-9 9M212 384.5h9M216.5 380v9M212 380l9 9M221 380l-9 9M212 388.5h9M216.5 384v9M212 384l9 9M221 384l-9 9M214 377.5h9M218.5 373v9M214 373l9 9M223 373l-9 9M214 378.5h9M218.5 374v9M214 374l9 9M223 374l-9 9M214 380.5h9M218.5 376v9M214 376l9 9M223 376l-9 9M214 382.5h9M218.5 378v9M214 378l9 9M223 378l-9 9M214 384.5h9M218.5 380v9M214 380l9 9M223 380l-9 9M214 386.5h9M218.5 382v9M214 382l9 9M223 382l-9 9M214 388.5h9M218.5 384v9M214 384l9 9M223 384l-9 9M214 389.5h9M218.5 385v9M214 385l9 9M223 385l-9 9M216 378.5h9M220.5 374v9M216 374l9 9M225 374l-9 9M216 382.5h9M220.5 378v9M216 378l9 9M225 378l-9 9M216 385.5h9M220.5 381v9M216 381l9 9M225 381l-9 9M218 377.5h9M222.5 373v9M218 373l9 9M227 373l-9 9M218 380.5h9M222.5 376v9M218 376l9 9M227 376l-9 9M218 384.5h9M222.5 380v9M218 380l9 9M227 380l-9 9M220 378.5h9M224.5 374v9M220 374l9 9M229 374l-9 9M220 382.5h9M224.5 378v9M220 378l9 9M229 378l-9 9M220 386.5h9M224.5 382v9M220 382l9 9M229 382l-9 9M221 376.5h9M225.5 372v9M221 372l9 9M230 372l-9 9M221 380.5h9M225.5 376v9M221 376l9 9M230 376l-9 9M221 384.5h9M225.5 380v9M221 380l9 9M230 380l-9 9M223 378.5h9M227.5 374v9M223 374l9 9M232 374l-9 9M223 382.5h9M227.5 378v9M223 378l9 9M232 378l-9 9M225 377.5h9M229.5 373v9M225 373l9 9M234 373l-9 9M225 380.5h9M229.5 376v9M225 376l9 9M234 376l-9 9M227 378.5h9M231.5 374v9M227 374l9 9M236 374l-9 9M227 382.5h9M231.5 378v9M227 378l9 9M236 378l-9 9M228 376.5h9M232.5 372v9M228 372l9 9M237 372l-9 9M228 380.5h9M232.5 376v9M228 376l9 9M237 376l-9 9M228 384.5h9M232.5 380v9M228 380l9 9M237 380l-9 9M228 388.5h9M232.5 384v9M228 384l9 9M237 384l-9 9M230 378.5h9M234.5 374v9M230 374l9 9M239 374l-9 9M230 382.5h9M234.5 378v9M230 378l9 9M239 378l-9 9M230 386.5h9M234.5 382v9M230 382l9 9M239 382l-9 9M230 389.5h9M234.5 385v9M230 385l9 9M239 385l-9 9M232 376.5h9M236.5 372v9M232 372l9 9M241 372l-9 9M232 380.5h9M236.5 376v9M232 376l9 9M241 376l-9 9M232 384.5h9M236.5 380v9M232 380l9 9M241 380l-9 9M232 388.5h9M236.5 384v9M232 384l9 9M241 384l-9 9M234 378.5h9M238.5 374v9M234 374l9 9M243 374l-9 9M234 382.5h9M238.5 378v9M234 378l9 9M243 378l-9 9M234 386.5h9M238.5 382v9M234 382l9 9M243 382l-9 9M234 388.5h9M238.5 384v9M234 384l9 9M243 384l-9 9M236 376.5h9M240.5 372v9M236 372l9 9M245 372l-9 9M236 380.5h9M240.5 376v9M236 376l9 9M245 376l-9 9M236 384.5h9M240.5 380v9M236 380l9 9M245 380l-9 9M236 388.5h9M240.5 384v9M236 384l9 9M245 384l-9 9M238 376.5h9M242.5 372v9M238 372l9 9M247 372l-9 9M238 380.5h9M242.5 376v9M238 376l9 9M247 376l-9 9M238 384.5h9M242.5 380v9M238 380l9 9M247 380l-9 9M238 388.5h9M242.5 384v9M238 384l9 9M247 384l-9 9M238 392.5h9M242.5 388v9M238 388l9 9M247 388l-9 9M238 396.5h9M242.5 392v9M238 392l9 9M247 392l-9 9M240 378.5h9M244.5 374v9M240 374l9 9M249 374l-9 9M240 382.5h9M244.5 378v9M240 378l9 9M249 378l-9 9M240 386.5h9M244.5 382v9M240 382l9 9M249 382l-9 9M240 390.5h9M244.5 386v9M240 386l9 9M249 386l-9 9M240 394.5h9M244.5 390v9M240 390l9 9M249 390l-9 9M240 396.5h9M244.5 392v9M240 392l9 9M249 392l-9 9M242 376.5h9M246.5 372v9M242 372l9 9M251 372l-9 9M242 377.5h9M246.5 373v9M242 373l9 9M251 373l-9 9M242 380.5h9M246.5 376v9M242 376l9 9M251 376l-9 9M242 384.5h9M246.5 380v9M242 380l9 9M251 380l-9 9M242 388.5h9M246.5 384v9M242 384l9 9M251 384l-9 9M242 392.5h9M246.5 388v9M242 388l9 9M251 388l-9 9M242 396.5h9M246.5 392v9M242 392l9 9M251 392l-9 9M244 378.5h9M248.5 374v9M244 374l9 9M253 374l-9 9M244 382.5h9M248.5 378v9M244 378l9 9M253 378l-9 9M244 386.5h9M248.5 382v9M244 382l9 9M253 382l-9 9M246 376.5h9M250.5 372v9M246 372l9 9M255 372l-9 9M246 380.5h9M250.5 376v9M246 376l9 9M255 376l-9 9M246 384.5h9M250.5 380v9M246 380l9 9M255 380l-9 9M246 387.5h9M250.5 383v9M246 383l9 9M255 383l-9 9M248 378.5h9M252.5 374v9M248 374l9 9M257 374l-9 9M248 382.5h9M252.5 378v9M248 378l9 9M257 378l-9 9M248 386.5h9M252.5 382v9M248 382l9 9M257 382l-9 9M249 451.5h9M253.5 447v9M249 447l9 9M258 447l-9 9M250 376.5h9M254.5 372v9M250 372l9 9M259 372l-9 9M250 380.5h9M254.5 376v9M250 376l9 9M259 376l-9 9M250 384.5h9M254.5 380v9M250 380l9 9M259 380l-9 9M250 388.5h9M254.5 384v9M250 384l9 9M259 384l-9 9M251 374.5h9M255.5 370v9M251 370l9 9M260 370l-9 9M251 378.5h9M255.5 374v9M251 374l9 9M260 374l-9 9M251 382.5h9M255.5 378v9M251 378l9 9M260 378l-9 9M251 386.5h9M255.5 382v9M251 382l9 9M260 382l-9 9M251 389.5h9M255.5 385v9M251 385l9 9M260 385l-9 9M252 451.5h9M256.5 447v9M252 447l9 9M261 447l-9 9M253 376.5h9M257.5 372v9M253 372l9 9M262 372l-9 9M253 380.5h9M257.5 376v9M253 376l9 9M262 376l-9 9M253 384.5h9M257.5 380v9M253 380l9 9M262 380l-9 9M253 388.5h9M257.5 384v9M253 384l9 9M262 384l-9 9M255 374.5h9M259.5 370v9M255 370l9 9M264 370l-9 9M255 378.5h9M259.5 374v9M255 374l9 9M264 374l-9 9M255 382.5h9M259.5 378v9M255 378l9 9M264 378l-9 9M255 386.5h9M259.5 382v9M255 382l9 9M264 382l-9 9M255 389.5h9M259.5 385v9M255 385l9 9M264 385l-9 9M257 376.5h9M261.5 372v9M257 372l9 9M266 372l-9 9M257 380.5h9M261.5 376v9M257 376l9 9M266 376l-9 9M257 384.5h9M261.5 380v9M257 380l9 9M266 380l-9 9M257 388.5h9M261.5 384v9M257 384l9 9M266 384l-9 9M258 441.5h9M262.5 437v9M258 437l9 9M267 437l-9 9M258 448.5h9M262.5 444v9M258 444l9 9M267 444l-9 9M259 374.5h9M263.5 370v9M259 370l9 9M268 370l-9 9M259 378.5h9M263.5 374v9M259 374l9 9M268 374l-9 9M259 382.5h9M263.5 378v9M259 378l9 9M268 378l-9 9M259 386.5h9M263.5 382v9M259 382l9 9M268 382l-9 9M259 389.5h9M263.5 385v9M259 385l9 9M268 385l-9 9M260 374.5h9M264.5 370v9M260 370l9 9M269 370l-9 9M260 378.5h9M264.5 374v9M260 374l9 9M269 374l-9 9M260 382.5h9M264.5 378v9M260 378l9 9M269 378l-9 9M260 386.5h9M264.5 382v9M260 382l9 9M269 382l-9 9M261 376.5h9M265.5 372v9M261 372l9 9M270 372l-9 9M261 380.5h9M265.5 376v9M261 376l9 9M270 376l-9 9M261 384.5h9M265.5 380v9M261 380l9 9M270 380l-9 9M261 388.5h9M265.5 384v9M261 384l9 9M270 384l-9 9M262 376.5h9M266.5 372v9M262 372l9 9M271 372l-9 9M262 380.5h9M266.5 376v9M262 376l9 9M271 376l-9 9M262 384.5h9M266.5 380v9M262 380l9 9M271 380l-9 9M262 388.5h9M266.5 384v9M262 384l9 9M271 384l-9 9M263 374.5h9M267.5 370v9M263 370l9 9M272 370l-9 9M263 378.5h9M267.5 374v9M263 374l9 9M272 374l-9 9M263 382.5h9M267.5 378v9M263 378l9 9M272 378l-9 9M263 386.5h9M267.5 382v9M263 382l9 9M272 382l-9 9M263 389.5h9M267.5 385v9M263 385l9 9M272 385l-9 9M264 374.5h9M268.5 370v9M264 370l9 9M273 370l-9 9M264 378.5h9M268.5 374v9M264 374l9 9M273 374l-9 9M264 382.5h9M268.5 378v9M264 378l9 9M273 378l-9 9M264 386.5h9M268.5 382v9M264 382l9 9M273 382l-9 9M265 376.5h9M269.5 372v9M265 372l9 9M274 372l-9 9M265 380.5h9M269.5 376v9M265 376l9 9M274 376l-9 9M265 384.5h9M269.5 380v9M265 380l9 9M274 380l-9 9M265 388.5h9M269.5 384v9M265 384l9 9M274 384l-9 9M266 374.5h9M270.5 370v9M266 370l9 9M275 370l-9 9M266 375.5h9M270.5 371v9M266 371l9 9M275 371l-9 9M266 376.5h9M270.5 372v9M266 372l9 9M275 372l-9 9M266 378.5h9M270.5 374v9M266 374l9 9M275 374l-9 9M266 380.5h9M270.5 376v9M266 376l9 9M275 376l-9 9M266 382.5h9M270.5 378v9M266 378l9 9M275 378l-9 9M266 384.5h9M270.5 380v9M266 380l9 9M275 380l-9 9M266 386.5h9M270.5 382v9M266 382l9 9M275 382l-9 9M266 387.5h9M270.5 383v9M266 383l9 9M275 383l-9 9M266 389.5h9M270.5 385v9M266 385l9 9M275 385l-9 9M268 376.5h9M272.5 372v9M268 372l9 9M277 372l-9 9M268 380.5h9M272.5 376v9M268 376l9 9M277 376l-9 9M268 383.5h9M272.5 379v9M268 379l9 9M277 379l-9 9M270 374.5h9M274.5 370v9M270 370l9 9M279 370l-9 9M270 378.5h9M274.5 374v9M270 374l9 9M279 374l-9 9M270 382.5h9M274.5 378v9M270 378l9 9M279 378l-9 9M272 376.5h9M276.5 372v9M272 372l9 9M281 372l-9 9M272 380.5h9M276.5 376v9M272 376l9 9M281 376l-9 9M272 382.5h9M276.5 378v9M272 378l9 9M281 378l-9 9M274 375.5h9M278.5 371v9M274 371l9 9M283 371l-9 9M274 378.5h9M278.5 374v9M274 374l9 9M283 374l-9 9M274 382.5h9M278.5 378v9M274 378l9 9M283 378l-9 9M275 397.5h9M279.5 393v9M275 393l9 9M284 393l-9 9M275 412.5h9M279.5 408v9M275 408l9 9M284 408l-9 9M279 413.5h9M283.5 409v9M279 409l9 9M288 409l-9 9M279 416.5h9M283.5 412v9M279 412l9 9M288 412l-9 9M279 418.5h9M283.5 414v9M279 414l9 9M288 414l-9 9M279 436.5h9M283.5 432v9M279 432l9 9M288 432l-9 9M279 440.5h9M283.5 436v9M279 436l9 9M288 436l-9 9M281 438.5h9M285.5 434v9M281 434l9 9M290 434l-9 9M281 441.5h9M285.5 437v9M281 437l9 9M290 437l-9 9M283 436.5h9M287.5 432v9M283 432l9 9M292 432l-9 9M283 440.5h9M287.5 436v9M283 436l9 9M292 436l-9 9M284 432.5h9M288.5 428v9M284 428l9 9M293 428l-9 9M284 436.5h9M288.5 432v9M284 432l9 9M293 432l-9 9M284 438.5h9M288.5 434v9M284 434l9 9M293 434l-9 9M286 434.5h9M290.5 430v9M286 430l9 9M295 430l-9 9M286 438.5h9M290.5 434v9M286 434l9 9M295 434l-9 9M288 433.5h9M292.5 429v9M288 429l9 9M297 429l-9 9M288 436.5h9M292.5 432v9M288 432l9 9M297 432l-9 9M288 439.5h9M292.5 435v9M288 435l9 9M297 435l-9 9M290 434.5h9M294.5 430v9M290 430l9 9M299 430l-9 9M290 438.5h9M294.5 434v9M290 434l9 9M299 434l-9 9M292 432.5h9M296.5 428v9M292 428l9 9M301 428l-9 9M292 436.5h9M296.5 432v9M292 432l9 9M301 432l-9 9M292 438.5h9M296.5 434v9M292 434l9 9M301 434l-9 9M294 432.5h9M298.5 428v9M294 428l9 9M303 428l-9 9M294 434.5h9M298.5 430v9M294 430l9 9M303 430l-9 9M294 436.5h9M298.5 432v9M294 432l9 9M303 432l-9 9M294 438.5h9M298.5 434v9M294 434l9 9M303 434l-9 9M294 439.5h9M298.5 435v9M294 435l9 9M303 435l-9 9M294 444.5h9M298.5 440v9M294 440l9 9M303 440l-9 9M294 448.5h9M298.5 444v9M294 444l9 9M303 444l-9 9M294 451.5h9M298.5 447v9M294 447l9 9M303 447l-9 9M296 446.5h9M300.5 442v9M296 442l9 9M305 442l-9 9M296 450.5h9M300.5 446v9M296 446l9 9M305 446l-9 9M298 444.5h9M302.5 440v9M298 440l9 9M307 440l-9 9M298 448.5h9M302.5 444v9M298 444l9 9M307 444l-9 9M298 451.5h9M302.5 447v9M298 447l9 9M307 447l-9 9M300 446.5h9M304.5 442v9M300 442l9 9M309 442l-9 9M300 450.5h9M304.5 446v9M300 446l9 9M309 446l-9 9M302 445.5h9M306.5 441v9M302 441l9 9M311 441l-9 9M302 448.5h9M306.5 444v9M302 444l9 9M311 444l-9 9M302 451.5h9M306.5 447v9M302 447l9 9M311 447l-9 9M304 446.5h9M308.5 442v9M304 442l9 9M313 442l-9 9M304 450.5h9M308.5 446v9M304 446l9 9M313 446l-9 9M306 445.5h9M310.5 441v9M306 441l9 9M315 441l-9 9M306 448.5h9M310.5 444v9M306 444l9 9M315 444l-9 9M306 451.5h9M310.5 447v9M306 447l9 9M315 447l-9 9M333 449.5h9M337.5 445v9M333 445l9 9M342 445l-9 9M335 451.5h9M339.5 447v9M335 447l9 9M344 447l-9 9M337 449.5h9M341.5 445v9M337 445l9 9M346 445l-9 9M339 451.5h9M343.5 447v9M339 447l9 9M348 447l-9 9M341 450.5h9M345.5 446v9M341 446l9 9M350 446l-9 9M343 450.5h9M347.5 446v9M343 446l9 9M352 446l-9 9M345 449.5h9M349.5 445v9M345 445l9 9M354 445l-9 9M347 450.5h9M351.5 446v9M347 446l9 9M356 446l-9 9M349 449.5h9M353.5 445v9M349 445l9 9M358 445l-9 9M351 451.5h9M355.5 447v9M351 447l9 9M360 447l-9 9M352 450.5h9M356.5 446v9M352 446l9 9M361 446l-9 9M354 443.5h9M358.5 439v9M354 439l9 9M363 439l-9 9M354 447.5h9M358.5 443v9M354 443l9 9M363 443l-9 9M354 451.5h9M358.5 447v9M354 447l9 9M363 447l-9 9M356 445.5h9M360.5 441v9M356 441l9 9M365 441l-9 9M356 449.5h9M360.5 445v9M356 445l9 9M365 445l-9 9M358 444.5h9M362.5 440v9M358 440l9 9M367 440l-9 9M358 447.5h9M362.5 443v9M358 443l9 9M367 443l-9 9M358 451.5h9M362.5 447v9M358 447l9 9M367 447l-9 9M360 441.5h9M364.5 437v9M360 437l9 9M369 437l-9 9M360 443.5h9M364.5 439v9M360 439l9 9M369 439l-9 9M360 445.5h9M364.5 441v9M360 441l9 9M369 441l-9 9M360 447.5h9M364.5 443v9M360 443l9 9M369 443l-9 9M360 449.5h9M364.5 445v9M360 445l9 9M369 445l-9 9M360 451.5h9M364.5 447v9M360 447l9 9M369 447l-9 9M362 443.5h9M366.5 439v9M362 439l9 9M371 439l-9 9M362 447.5h9M366.5 443v9M362 443l9 9M371 443l-9 9M362 451.5h9M366.5 447v9M362 447l9 9M371 447l-9 9M364 442.5h9M368.5 438v9M364 438l9 9M373 438l-9 9M364 445.5h9M368.5 441v9M364 441l9 9M373 441l-9 9M364 449.5h9M368.5 445v9M364 445l9 9M373 445l-9 9M366 443.5h9M370.5 439v9M366 439l9 9M375 439l-9 9M366 447.5h9M370.5 443v9M366 443l9 9M375 443l-9 9M366 451.5h9M370.5 447v9M366 447l9 9M375 447l-9 9M367 437.5h9M371.5 433v9M367 433l9 9M376 433l-9 9M367 441.5h9M371.5 437v9M367 437l9 9M376 437l-9 9M367 445.5h9M371.5 441v9M367 441l9 9M376 441l-9 9M367 449.5h9M371.5 445v9M367 445l9 9M376 445l-9 9M368 441.5h9M372.5 437v9M368 437l9 9M377 437l-9 9M368 445.5h9M372.5 441v9M368 441l9 9M377 441l-9 9M368 449.5h9M372.5 445v9M368 445l9 9M377 445l-9 9M369 439.5h9M373.5 435v9M369 435l9 9M378 435l-9 9M369 443.5h9M373.5 439v9M369 439l9 9M378 439l-9 9M369 447.5h9M373.5 443v9M369 443l9 9M378 443l-9 9M369 451.5h9M373.5 447v9M369 447l9 9M378 447l-9 9M371 438.5h9M375.5 434v9M371 434l9 9M380 434l-9 9M371 441.5h9M375.5 437v9M371 437l9 9M380 437l-9 9M371 445.5h9M375.5 441v9M371 441l9 9M380 441l-9 9M371 449.5h9M375.5 445v9M371 445l9 9M380 445l-9 9M372 442.5h9M376.5 438v9M372 438l9 9M381 438l-9 9M372 446.5h9M376.5 442v9M372 442l9 9M381 442l-9 9M372 450.5h9M376.5 446v9M372 446l9 9M381 446l-9 9M373 439.5h9M377.5 435v9M373 435l9 9M382 435l-9 9M373 443.5h9M377.5 439v9M373 439l9 9M382 439l-9 9M373 447.5h9M377.5 443v9M373 443l9 9M382 443l-9 9M373 450.5h9M377.5 446v9M373 446l9 9M382 446l-9 9M374 437.5h9M378.5 433v9M374 433l9 9M383 433l-9 9M374 441.5h9M378.5 437v9M374 437l9 9M383 437l-9 9M374 444.5h9M378.5 440v9M374 440l9 9M383 440l-9 9M374 445.5h9M378.5 441v9M374 441l9 9M383 441l-9 9M374 448.5h9M378.5 444v9M374 444l9 9M383 444l-9 9M374 449.5h9M378.5 445v9M374 445l9 9M383 445l-9 9M374 451.5h9M378.5 447v9M374 447l9 9M383 447l-9 9M376 442.5h9M380.5 438v9M376 438l9 9M385 438l-9 9M376 446.5h9M380.5 442v9M376 442l9 9M385 442l-9 9M376 449.5h9M380.5 445v9M376 445l9 9M385 445l-9 9M376 450.5h9M380.5 446v9M376 446l9 9M385 446l-9 9M378 447.5h9M382.5 443v9M378 443l9 9M387 443l-9 9M378 451.5h9M382.5 447v9M378 447l9 9M387 447l-9 9M380 445.5h9M384.5 441v9M380 441l9 9M389 441l-9 9M380 449.5h9M384.5 445v9M380 445l9 9M389 445l-9 9M382 447.5h9M386.5 443v9M382 443l9 9M391 443l-9 9M382 451.5h9M386.5 447v9M382 447l9 9M391 447l-9 9M384 445.5h9M388.5 441v9M384 441l9 9M393 441l-9 9M384 449.5h9M388.5 445v9M384 445l9 9M393 445l-9 9M386 447.5h9M390.5 443v9M386 443l9 9M395 443l-9 9M386 451.5h9M390.5 447v9M386 447l9 9M395 447l-9 9M387 445.5h9M391.5 441v9M387 441l9 9M396 441l-9 9M387 449.5h9M391.5 445v9M387 445l9 9M396 445l-9 9"/>
<path clip-path="url(#c1)" stroke="#c60096" d="M76 391.5h9M80.5 387v9M76 387l9 9M85 387l-9 9M78 394.5h9M82.5 390v9M78 390l9 9M87 390l-9 9M80 390.5h9M84.5 386v9M80 386l9 9M89 386l-9 9M82 392.5h9M86.5 388v9M82 388l9 9M91 388l-9 9M84 389.5h9M88.5 385v9M84 385l9 9M93 385l-9 9M86 393.5h9M90.5 389v9M86 389l9 9M95 389l-9 9M88 387.5h9M92.5 383v9M88 383l9 9M97 383l-9 9M88 389.5h9M92.5 385v9M88 385l9 9M97 385l-9 9M90 389.5h9M94.5 385v9M90 385l9 9M99 385l-9 9M92 386.5h9M96.5 382v9M92 382l9 9M101 382l-9 9M92 390.5h9M96.5 386v9M92 386l9 9M101 386l-9 9M94 388.5h9M98.5 384v9M94 384l9 9M103 384l-9 9M96 383.5h9M100.5 379v9M96 379l9 9M105 379l-9 9M96 388.5h9M100.5 384v9M96 384l9 9M105 384l-9 9M98 385.5h9M102.5 381v9M98 381l9 9M107 381l-9 9M100 383.5h9M104.5 379v9M100 379l9 9M109 379l-9 9M100 386.5h9M104.5 382v9M100 382l9 9M109 382l-9 9M102 385.5h9M106.5 381v9M102 381l9 9M111 381l-9 9M104 382.5h9M108.5 378v9M104 378l9 9M113 378l-9 9M104 385.5h9M108.5 381v9M104 381l9 9M113 381l-9 9M106 384.5h9M110.5 380v9M106 380l9 9M115 380l-9 9M108 381.5h9M112.5 377v9M108 377l9 9M117 377l-9 9M108 384.5h9M112.5 380v9M108 380l9 9M117 380l-9 9M110 383.5h9M114.5 379v9M110 379l9 9M119 379l-9 9M112 380.5h9M116.5 376v9M112 376l9 9M121 376l-9 9M112 384.5h9M116.5 380v9M112 380l9 9M121 380l-9 9M114 382.5h9M118.5 378v9M114 378l9 9M123 378l-9 9M116 379.5h9M120.5 375v9M116 375l9 9M125 375l-9 9M116 381.5h9M120.5 377v9M116 377l9 9M125 377l-9 9M118 381.5h9M122.5 377v9M118 377l9 9M127 377l-9 9M120 379.5h9M124.5 375v9M120 375l9 9M129 375l-9 9M122 382.5h9M126.5 378v9M122 378l9 9M131 378l-9 9M124 377.5h9M128.5 373v9M124 373l9 9M133 373l-9 9M124 380.5h9M128.5 376v9M124 376l9 9M133 376l-9 9M126 379.5h9M130.5 375v9M126 375l9 9M135 375l-9 9M128 376.5h9M132.5 372v9M128 372l9 9M137 372l-9 9M128 380.5h9M132.5 376v9M128 376l9 9M137 376l-9 9M130 378.5h9M134.5 374v9M130 374l9 9M139 374l-9 9M132 376.5h9M136.5 372v9M132 372l9 9M141 372l-9 9M134 378.5h9M138.5 374v9M134 374l9 9M143 374l-9 9M136 375.5h9M140.5 371v9M136 371l9 9M145 371l-9 9M138 377.5h9M142.5 373v9M138 373l9 9M147 373l-9 9M140 374.5h9M144.5 370v9M140 370l9 9M149 370l-9 9M140 377.5h9M144.5 373v9M140 373l9 9M149 373l-9 9M142 376.5h9M146.5 372v9M142 372l9 9M151 372l-9 9M144 373.5h9M148.5 369v9M144 369l9 9M153 369l-9 9M144 377.5h9M148.5 373v9M144 373l9 9M153 373l-9 9M146 375.5h9M150.5 371v9M146 371l9 9M155 371l-9 9M148 372.5h9M152.5 368v9M148 368l9 9M157 368l-9 9M148 376.5h9M152.5 372v9M148 372l9 9M157 372l-9 9M150 374.5h9M154.5 370v9M150 370l9 9M159 370l-9 9M152 374.5h9M156.5 370v9M152 370l9 9M161 370l-9 9M154 377.5h9M158.5 373v9M154 373l9 9M163 373l-9 9M156 372.5h9M160.5 368v9M156 368l9 9M165 368l-9 9M156 377.5h9M160.5 373v9M156 373l9 9M165 373l-9 9M158 374.5h9M162.5 370v9M158 370l9 9M167 370l-9 9M160 373.5h9M164.5 369v9M160 369l9 9M169 369l-9 9M162 376.5h9M166.5 372v9M162 372l9 9M171 372l-9 9M164 372.5h9M168.5 368v9M164 368l9 9M173 368l-9 9M164 375.5h9M168.5 371v9M164 371l9 9M173 371l-9 9M166 374.5h9M170.5 370v9M166 370l9 9M175 370l-9 9M168 373.5h9M172.5 369v9M168 369l9 9M177 369l-9 9M170 375.5h9M174.5 371v9M170 371l9 9M179 371l-9 9M172 372.5h9M176.5 368v9M172 368l9 9M181 368l-9 9M172 376.5h9M176.5 372v9M172 372l9 9M181 372l-9 9M174 374.5h9M178.5 370v9M174 370l9 9M183 370l-9 9M176 373.5h9M180.5 369v9M176 369l9 9M185 369l-9 9M178 375.5h9M182.5 371v9M178 371l9 9M187 371l-9 9M180 373.5h9M184.5 369v9M180 369l9 9M189 369l-9 9M182 376.5h9M186.5 372v9M182 372l9 9M191 372l-9 9M184 373.5h9M188.5 369v9M184 369l9 9M193 369l-9 9M186 377.5h9M190.5 373v9M186 373l9 9M195 373l-9 9M188 373.5h9M192.5 369v9M188 369l9 9M197 369l-9 9M190 369.5h9M194.5 365v9M190 365l9 9M199 365l-9 9M190 373.5h9M194.5 369v9M190 369l9 9M199 369l-9 9M190 377.5h9M194.5 373v9M190 373l9 9M199 373l-9 9M192 371.5h9M196.5 367v9M192 367l9 9M201 367l-9 9M192 376.5h9M196.5 372v9M192 372l9 9M201 372l-9 9M194 369.5h9M198.5 365v9M194 365l9 9M203 365l-9 9M194 373.5h9M198.5 369v9M194 369l9 9M203 369l-9 9M196 371.5h9M200.5 367v9M196 367l9 9M205 367l-9 9M196 374.5h9M200.5 370v9M196 370l9 9M205 370l-9 9M198 369.5h9M202.5 365v9M198 365l9 9M207 365l-9 9M198 373.5h9M202.5 369v9M198 369l9 9M207 369l-9 9M200 371.5h9M204.5 367v9M200 367l9 9M209 367l-9 9M200 374.5h9M204.5 370v9M200 370l9 9M209 370l-9 9M202 369.5h9M206.5 365v9M202 365l9 9M211 365l-9 9M202 373.5h9M206.5 369v9M202 369l9 9M211 369l-9 9M204 371.5h9M208.5 367v9M204 367l9 9M213 367l-9 9M204 376.5h9M208.5 372v9M204 372l9 9M213 372l-9 9M206 368.5h9M210.5 364v9M206 364l9 9M215 364l-9 9M206 372.5h9M210.5 368v9M206 368l9 9M215 368l-9 9M208 370.5h9M212.5 366v9M208 366l9 9M217 366l-9 9M208 375.5h9M212.5 371v9M208 371l9 9M217 371l-9 9M210 368.5h9M214.5 364v9M210 364l9 9M219 364l-9 9M210 372.5h9M214.5 368v9M210 368l9 9M219 368l-9 9M212 370.5h9M216.5 366v9M212 366l9 9M221 366l-9 9M212 374.5h9M216.5 370v9M212 370l9 9M221 370l-9 9M214 369.5h9M218.5 365v9M214 365l9 9M223 365l-9 9M214 373.5h9M218.5 369v9M214 369l9 9M223 369l-9 9M216 371.5h9M220.5 367v9M216 367l9 9M225 367l-9 9M216 374.5h9M220.5 370v9M216 370l9 9M225 370l-9 9M218 369.5h9M222.5 365v9M218 365l9 9M227 365l-9 9M218 373.5h9M222.5 369v9M218 369l9 9M227 369l-9 9M220 371.5h9M224.5 367v9M220 367l9 9M229 367l-9 9M220 374.5h9M224.5 370v9M220 370l9 9M229 370l-9 9M222 369.5h9M226.5 365v9M222 365l9 9M231 365l-9 9M222 373.5h9M226.5 369v9M222 369l9 9M231 369l-9 9M224 371.5h9M228.5 367v9M224 367l9 9M233 367l-9 9M224 374.5h9M228.5 370v9M224 370l9 9M233 370l-9 9M226 370.5h9M230.5 366v9M226 366l9 9M235 366l-9 9M226 374.5h9M230.5 370v9M226 370l9 9M235 370l-9 9M228 372.5h9M232.5 368v9M228 368l9 9M237 368l-9 9M230 369.5h9M234.5 365v9M230 365l9 9M239 365l-9 9M230 373.5h9M234.5 369v9M230 369l9 9M239 369l-9 9M231 373.5h9M235.5 369v9M231 369l9 9M240 369l-9 9M232 371.5h9M236.5 367v9M232 367l9 9M241 367l-9 9M232 376.5h9M236.5 372v9M232 372l9 9M241 372l-9 9M233 375.5h9M237.5 371v9M233 371l9 9M242 371l-9 9M235 372.5h9M239.5 368v9M235 368l9 9M244 368l-9 9M237 375.5h9M241.5 371v9M237 371l9 9M246 371l-9 9M239 372.5h9M243.5 368v9M239 368l9 9M248 368l-9 9M241 375.5h9M245.5 371v9M241 371l9 9M250 371l-9 9M243 373.5h9M247.5 369v9M243 369l9 9M252 369l-9 9M245 374.5h9M249.5 370v9M245 370l9 9M254 370l-9 9M247 373.5h9M251.5 369v9M247 369l9 9M256 369l-9 9M249 375.5h9M253.5 371v9M249 371l9 9M258 371l-9 9M251 373.5h9M255.5 369v9M251 369l9 9M260 369l-9 9M253 375.5h9M257.5 371v9M253 371l9 9M262 371l-9 9M255 373.5h9M259.5 369v9M255 369l9 9M264 369l-9 9M257 375.5h9M261.5 371v9M257 371l9 9M266 371l-9 9M259 370.5h9M263.5 366v9M259 366l9 9M268 366l-9 9M259 374.5h9M263.5 370v9M259 370l9 9M268 370l-9 9M261 372.5h9M265.5 368v9M261 368l9 9M270 368l-9 9M263 366.5h9M267.5 362v9M263 362l9 9M272 362l-9 9M263 370.5h9M267.5 366v9M263 366l9 9M272 366l-9 9M265 368.5h9M269.5 364v9M265 364l9 9M274 364l-9 9M265 371.5h9M269.5 367v9M265 367l9 9M274 367l-9 9M267 363.5h9M271.5 359v9M267 359l9 9M276 359l-9 9M267 367.5h9M271.5 363v9M267 363l9 9M276 363l-9 9M269 365.5h9M273.5 361v9M269 361l9 9M278 361l-9 9M269 369.5h9M273.5 365v9M269 365l9 9M278 365l-9 9M271 361.5h9M275.5 357v9M271 357l9 9M280 357l-9 9M271 365.5h9M275.5 361v9M271 361l9 9M280 361l-9 9M273 363.5h9M277.5 359v9M273 359l9 9M282 359l-9 9M273 367.5h9M277.5 363v9M273 363l9 9M282 363l-9 9M275 361.5h9M279.5 357v9M275 357l9 9M284 357l-9 9M275 365.5h9M279.5 361v9M275 361l9 9M284 361l-9 9M277 363.5h9M281.5 359v9M277 359l9 9M286 359l-9 9M277 368.5h9M281.5 364v9M277 364l9 9M286 364l-9 9M279 363.5h9M283.5 359v9M279 359l9 9M288 359l-9 9M279 368.5h9M283.5 364v9M279 364l9 9M288 364l-9 9M281 365.5h9M285.5 361v9M281 361l9 9M290 361l-9 9M288 367.5h9M292.5 363v9M288 363l9 9M297 363l-9 9M288 368.5h9M292.5 364v9M288 364l9 9M297 364l-9 9M288 369.5h9M292.5 365v9M288 365l9 9M297 365l-9 9M288 370.5h9M292.5 366v9M288 366l9 9M297 366l-9 9M288 371.5h9M292.5 367v9M288 367l9 9M297 367l-9 9M288 372.5h9M292.5 368v9M288 368l9 9M297 368l-9 9M288 373.5h9M292.5 369v9M288 369l9 9M297 369l-9 9M288 374.5h9M292.5 370v9M288 370l9 9M297 370l-9 9M288 375.5h9M292.5 371v9M288 371l9 9M297 371l-9 9M288 376.5h9M292.5 372v9M288 372l9 9M297 372l-9 9M288 377.5h9M292.5 373v9M288 373l9 9M297 373l-9 9M288 378.5h9M292.5 374v9M288 374l9 9M297 374l-9 9M288 379.5h9M292.5 375v9M288 375l9 9M297 375l-9 9M288 380.5h9M292.5 376v9M288 376l9 9M297 376l-9 9M294 381.5h9M298.5 377v9M294 377l9 9M303 377l-9 9M294 382.5h9M298.5 378v9M294 378l9 9M303 378l-9 9M294 383.5h9M298.5 379v9M294 379l9 9M303 379l-9 9M294 384.5h9M298.5 380v9M294 380l9 9M303 380l-9 9M294 385.5h9M298.5 381v9M294 381l9 9M303 381l-9 9M294 386.5h9M298.5 382v9M294 382l9 9M303 382l-9 9M294 387.5h9M298.5 383v9M294 383l9 9M303 383l-9 9M294 388.5h9M298.5 384v9M294 384l9 9M303 384l-9 9M294 389.5h9M298.5 385v9M294 385l9 9M303 385l-9 9M294 390.5h9M298.5 386v9M294 386l9 9M303 386l-9 9M294 391.5h9M298.5 387v9M294 387l9 9M303 387l-9 9M294 392.5h9M298.5 388v9M294 388l9 9M303 388l-9 9M294 393.5h9M298.5 389v9M294 389l9 9M303 389l-9 9M294 394.5h9M298.5 390v9M294 390l9 9M303 390l-9 9M294 395.5h9M298.5 391v9M294 391l9 9M303 391l-9 9M294 396.5h9M298.5 392v9M294 392l9 9M303 392l-9 9M294 397.5h9M298.5 393v9M294 393l9 9M303 393l-9 9M299 393.5h9M303.5 389v9M299 389l9 9M308 389l-9 9M299 396.5h9M303.5 392v9M299 392l9 9M308 392l-9 9M299 399.5h9M303.5 395v9M299 395l9 9M308 395l-9 9M301 394.5h9M305.5 390v9M301 390l9 9M310 390l-9 9M301 398.5h9M305.5 394v9M301 394l9 9M310 394l-9 9M303 392.5h9M307.5 388v9M303 388l9 9M312 388l-9 9M303 396.5h9M307.5 392v9M303 392l9 9M312 392l-9 9M303 400.5h9M307.5 396v9M303 396l9 9M312 396l-9 9M305 402.5h9M309.5 398v9M305 398l9 9M314 398l-9 9M307 400.5h9M311.5 396v9M307 396l9 9M316 396l-9 9M307 451.5h9M311.5 447v9M307 447l9 9M316 447l-9 9M308 451.5h9M312.5 447v9M308 447l9 9M317 447l-9 9M309 451.5h9M313.5 447v9M309 447l9 9M318 447l-9 9M310 451.5h9M314.5 447v9M310 447l9 9M319 447l-9 9M319 451.5h9M323.5 447v9M319 447l9 9M328 447l-9 9M320 451.5h9M324.5 447v9M320 447l9 9M329 447l-9 9M321 441.5h9M325.5 437v9M321 437l9 9M330 437l-9 9M321 442.5h9M325.5 438v9M321 438l9 9M330 438l-9 9M321 443.5h9M325.5 439v9M321 439l9 9M330 439l-9 9M321 444.5h9M325.5 440v9M321 440l9 9M330 440l-9 9M321 445.5h9M325.5 441v9M321 441l9 9M330 441l-9 9M321 446.5h9M325.5 442v9M321 442l9 9M330 442l-9 9M321 447.5h9M325.5 443v9M321 443l9 9M330 443l-9 9M321 448.5h9M325.5 444v9M321 444l9 9M330 444l-9 9M321 449.5h9M325.5 445v9M321 445l9 9M330 445l-9 9M321 450.5h9M325.5 446v9M321 446l9 9M330 446l-9 9M321 451.5h9M325.5 447v9M321 447l9 9M330 447l-9 9M322 451.5h9M326.5 447v9M322 447l9 9M331 447l-9 9M333 437.5h9M337.5 433v9M333 433l9 9M342 433l-9 9M333 441.5h9M337.5 437v9M333 437l9 9M342 437l-9 9M333 445.5h9M337.5 441v9M333 441l9 9M342 441l-9 9M333 449.5h9M337.5 445v9M333 445l9 9M342 445l-9 9M335 439.5h9M339.5 435v9M335 435l9 9M344 435l-9 9M335 443.5h9M339.5 439v9M335 439l9 9M344 439l-9 9M335 447.5h9M339.5 443v9M335 443l9 9M344 443l-9 9M335 450.5h9M339.5 446v9M335 446l9 9M344 446l-9 9M337 437.5h9M341.5 433v9M337 433l9 9M346 433l-9 9M337 441.5h9M341.5 437v9M337 437l9 9M346 437l-9 9M337 445.5h9M341.5 441v9M337 441l9 9M346 441l-9 9M337 449.5h9M341.5 445v9M337 445l9 9M346 445l-9 9M339 439.5h9M343.5 435v9M339 435l9 9M348 435l-9 9M339 443.5h9M343.5 439v9M339 439l9 9M348 439l-9 9M339 447.5h9M343.5 443v9M339 443l9 9M348 443l-9 9M339 451.5h9M343.5 447v9M339 447l9 9M348 447l-9 9M341 438.5h9M345.5 434v9M341 434l9 9M350 434l-9 9M341 441.5h9M345.5 437v9M341 437l9 9M350 437l-9 9M341 445.5h9M345.5 441v9M341 441l9 9M350 441l-9 9M341 449.5h9M345.5 445v9M341 445l9 9M350 445l-9 9M343 439.5h9M347.5 435v9M343 435l9 9M352 435l-9 9M343 443.5h9M347.5 439v9M343 439l9 9M352 439l-9 9M343 447.5h9M347.5 443v9M343 443l9 9M352 443l-9 9M343 451.5h9M347.5 447v9M343 447l9 9M352 447l-9 9M345 437.5h9M349.5 433v9M345 433l9 9M354 433l-9 9M345 441.5h9M349.5 437v9M345 437l9 9M354 437l-9 9M345 445.5h9M349.5 441v9M345 441l9 9M354 441l-9 9M345 449.5h9M349.5 445v9M345 445l9 9M354 445l-9 9M347 437.5h9M351.5 433v9M347 433l9 9M356 433l-9 9M347 439.5h9M351.5 435v9M347 435l9 9M356 435l-9 9M347 441.5h9M351.5 437v9M347 437l9 9M356 437l-9 9M347 443.5h9M351.5 439v9M347 439l9 9M356 439l-9 9M347 445.5h9M351.5 441v9M347 441l9 9M356 441l-9 9M347 447.5h9M351.5 443v9M347 443l9 9M356 443l-9 9M347 449.5h9M351.5 445v9M347 445l9 9M356 445l-9 9M347 451.5h9M351.5 447v9M347 447l9 9M356 447l-9 9M348 403.5h9M352.5 399v9M348 399l9 9M357 399l-9 9M348 415.5h9M352.5 411v9M348 411l9 9M357 411l-9 9M348 421.5h9M352.5 417v9M348 417l9 9M357 417l-9 9M348 428.5h9M352.5 424v9M348 424l9 9M357 424l-9 9M348 429.5h9M352.5 425v9M348 425l9 9M357 425l-9 9M348 430.5h9M352.5 426v9M348 426l9 9M357 426l-9 9M348 431.5h9M352.5 427v9M348 427l9 9M357 427l-9 9M348 432.5h9M352.5 428v9M348 428l9 9M357 428l-9 9M348 433.5h9M352.5 429v9M348 429l9 9M357 429l-9 9M348 434.5h9M352.5 430v9M348 430l9 9M357 430l-9 9M348 435.5h9M352.5 431v9M348 431l9 9M357 431l-9 9M348 436.5h9M352.5 432v9M348 432l9 9M357 432l-9 9M348 437.5h9M352.5 433v9M348 433l9 9M357 433l-9 9M348 438.5h9M352.5 434v9M348 434l9 9M357 434l-9 9M348 439.5h9M352.5 435v9M348 435l9 9M357 435l-9 9M348 440.5h9M352.5 436v9M348 436l9 9M357 436l-9 9M348 441.5h9M352.5 437v9M348 437l9 9M357 437l-9 9M348 442.5h9M352.5 438v9M348 438l9 9M357 438l-9 9M348 443.5h9M352.5 439v9M348 439l9 9M357 439l-9 9M348 444.5h9M352.5 440v9M348 440l9 9M357 440l-9 9M348 445.5h9M352.5 441v9M348 441l9 9M357 441l-9 9M348 446.5h9M352.5 442v9M348 442l9 9M357 442l-9 9M348 447.5h9M352.5 443v9M348 443l9 9M357 443l-9 9M348 448.5h9M352.5 444v9M348 444l9 9M357 444l-9 9M348 449.5h9M352.5 445v9M348 445l9 9M357 445l-9 9M348 450.5h9M352.5 446v9M348 446l9 9M357 446l-9 9M348 451.5h9M352.5 447v9M348 447l9 9M357 447l-9 9M352 391.5h9M356.5 387v9M352 387l9 9M361 387l-9 9M352 395.5h9M356.5 391v9M352 391l9 9M361 391l-9 9M352 399.5h9M356.5 395v9M352 395l9 9M361 395l-9 9M352 402.5h9M356.5 398v9M352 398l9 9M361 398l-9 9M354 393.5h9M358.5 389v9M354 389l9 9M363 389l-9 9M354 397.5h9M358.5 393v9M354 393l9 9M363 393l-9 9M354 401.5h9M358.5 397v9M354 397l9 9M363 397l-9 9M356 391.5h9M360.5 387v9M356 387l9 9M365 387l-9 9M356 395.5h9M360.5 391v9M356 391l9 9M365 391l-9 9M356 399.5h9M360.5 395v9M356 395l9 9M365 395l-9 9M356 402.5h9M360.5 398v9M356 398l9 9M365 398l-9 9M358 394.5h9M362.5 390v9M358 390l9 9M367 390l-9 9M358 398.5h9M362.5 394v9M358 394l9 9M367 394l-9 9M358 402.5h9M362.5 398v9M358 398l9 9M367 398l-9 9M358 405.5h9M362.5 401v9M358 401l9 9M367 401l-9 9M360 396.5h9M364.5 392v9M360 392l9 9M369 392l-9 9M360 400.5h9M364.5 396v9M360 396l9 9M369 396l-9 9M360 404.5h9M364.5 400v9M360 400l9 9M369 400l-9 9M362 394.5h9M366.5 390v9M362 390l9 9M371 390l-9 9M362 398.5h9M366.5 394v9M362 394l9 9M371 394l-9 9M362 402.5h9M366.5 398v9M362 398l9 9M371 398l-9 9M362 405.5h9M366.5 401v9M362 401l9 9M371 401l-9 9M364 396.5h9M368.5 392v9M364 392l9 9M373 392l-9 9M364 400.5h9M368.5 396v9M364 396l9 9M373 396l-9 9M364 404.5h9M368.5 400v9M364 400l9 9M373 400l-9 9M366 394.5h9M370.5 390v9M366 390l9 9M375 390l-9 9M366 398.5h9M370.5 394v9M366 394l9 9M375 394l-9 9M366 402.5h9M370.5 398v9M366 398l9 9M375 398l-9 9M366 405.5h9M370.5 401v9M366 401l9 9M375 401l-9 9M369 386.5h9M373.5 382v9M369 382l9 9M378 382l-9 9M369 390.5h9M373.5 386v9M369 386l9 9M378 386l-9 9M369 394.5h9M373.5 390v9M369 390l9 9M378 390l-9 9M369 398.5h9M373.5 394v9M369 394l9 9M378 394l-9 9M369 402.5h9M373.5 398v9M369 398l9 9M378 398l-9 9M369 405.5h9M373.5 401v9M369 401l9 9M378 401l-9 9M371 388.5h9M375.5 384v9M371 384l9 9M380 384l-9 9M371 392.5h9M375.5 388v9M371 388l9 9M380 388l-9 9M371 396.5h9M375.5 392v9M371 392l9 9M380 392l-9 9M371 400.5h9M375.5 396v9M371 396l9 9M380 396l-9 9M371 404.5h9M375.5 400v9M371 400l9 9M380 400l-9 9M372 387.5h9M376.5 383v9M372 383l9 9M381 383l-9 9M372 390.5h9M376.5 386v9M372 386l9 9M381 386l-9 9M372 394.5h9M376.5 390v9M372 390l9 9M381 390l-9 9M372 398.5h9M376.5 394v9M372 394l9 9M381 394l-9 9M372 402.5h9M376.5 398v9M372 398l9 9M381 398l-9 9M372 405.5h9M376.5 401v9M372 401l9 9M381 401l-9 9M375 394.5h9M379.5 390v9M375 390l9 9M384 390l-9 9M375 395.5h9M379.5 391v9M375 391l9 9M384 391l-9 9M375 396.5h9M379.5 392v9M375 392l9 9M384 392l-9 9M375 397.5h9M379.5 393v9M375 393l9 9M384 393l-9 9M375 398.5h9M379.5 394v9M375 394l9 9M384 394l-9 9M375 399.5h9M379.5 395v9M375 395l9 9M384 395l-9 9M375 400.5h9M379.5 396v9M375 396l9 9M384 396l-9 9M375 401.5h9M379.5 397v9M375 397l9 9M384 397l-9 9M375 402.5h9M379.5 398v9M375 398l9 9M384 398l-9 9M375 403.5h9M379.5 399v9M375 399l9 9M384 399l-9 9M375 404.5h9M379.5 400v9M375 400l9 9M384 400l-9 9M375 405.5h9M379.5 401v9M375 401l9 9M384 401l-9 9M375 406.5h9M379.5 402v9M375 402l9 9M384 402l-9 9M375 407.5h9M379.5 403v9M375 403l9 9M384 403l-9 9M375 408.5h9M379.5 404v9M375 404l9 9M384 404l-9 9M379 398.5h9M383.5 394v9M379 394l9 9M388 394l-9 9M379 399.5h9M383.5 395v9M379 395l9 9M388 395l-9 9M379 400.5h9M383.5 396v9M379 396l9 9M388 396l-9 9M379 401.5h9M383.5 397v9M379 397l9 9M388 397l-9 9M379 402.5h9M383.5 398v9M379 398l9 9M388 398l-9 9M379 403.5h9M383.5 399v9M379 399l9 9M388 399l-9 9M379 404.5h9M383.5 400v9M379 400l9 9M388 400l-9 9M379 405.5h9M383.5 401v9M379 401l9 9M388 401l-9 9M379 406.5h9M383.5 402v9M379 402l9 9M388 402l-9 9M379 407.5h9M383.5 403v9M379 403l9 9M388 403l-9 9M379 408.5h9M383.5 404v9M379 404l9 9M388 404l-9 9M379 409.5h9M383.5 405v9M379 405l9 9M388 405l-9 9M382 404.5h9M386.5 400v9M382 400l9 9M391 400l-9 9M382 405.5h9M386.5 401v9M382 401l9 9M391 401l-9 9M382 406.5h9M386.5 402v9M382 402l9 9M391 402l-9 9M382 407.5h9M386.5 403v9M382 403l9 9M391 403l-9 9M382 408.5h9M386.5 404v9M382 404l9 9M391 404l-9 9M382 409.5h9M386.5 405v9M382 405l9 9M391 405l-9 9M382 410.5h9M386.5 406v9M382 406l9 9M391 406l-9 9M382 411.5h9M386.5 407v9M382 407l9 9M391 407l-9 9M382 412.5h9M386.5 408v9M382 408l9 9M391 408l-9 9M382 413.5h9M386.5 409v9M382 409l9 9M391 409l-9 9M382 414.5h9M386.5 410v9M382 410l9 9M391 410l-9 9M385 406.5h9M389.5 402v9M385 402l9 9M394 402l-9 9M385 407.5h9M389.5 403v9M385 403l9 9M394 403l-9 9M385 408.5h9M389.5 404v9M385 404l9 9M394 404l-9 9M385 409.5h9M389.5 405v9M385 405l9 9M394 405l-9 9M385 410.5h9M389.5 406v9M385 406l9 9M394 406l-9 9M385 411.5h9M389.5 407v9M385 407l9 9M394 407l-9 9M385 412.5h9M389.5 408v9M385 408l9 9M394 408l-9 9M385 413.5h9M389.5 409v9M385 409l9 9M394 409l-9 9M385 414.5h9M389.5 410v9M385 410l9 9M394 410l-9 9M385 415.5h9M389.5 411v9M385 411l9 9M394 411l-9 9M389 416.5h9M393.5 412v9M389 412l9 9M398 412l-9 9M389 451.5h9M393.5 447v9M389 447l9 9M398 447l-9 9M390 451.5h9M394.5 447v9M390 447l9 9M399 447l-9 9M391 451.5h9M395.5 447v9M391 447l9 9M400 447l-9 9M392 451.5h9M396.5 447v9M392 447l9 9M401 447l-9 9M393 451.5h9M397.5 447v9M393 447l9 9M402 447l-9 9M394 430.5h9M398.5 426v9M394 426l9 9M403 426l-9 9M394 431.5h9M398.5 427v9M394 427l9 9M403 427l-9 9M394 432.5h9M398.5 428v9M394 428l9 9M403 428l-9 9M394 433.5h9M398.5 429v9M394 429l9 9M403 429l-9 9M394 434.5h9M398.5 430v9M394 430l9 9M403 430l-9 9M394 435.5h9M398.5 431v9M394 431l9 9M403 431l-9 9M394 436.5h9M398.5 432v9M394 432l9 9M403 432l-9 9M394 437.5h9M398.5 433v9M394 433l9 9M403 433l-9 9M394 438.5h9M398.5 434v9M394 434l9 9M403 434l-9 9M394 439.5h9M398.5 435v9M394 435l9 9M403 435l-9 9M394 440.5h9M398.5 436v9M394 436l9 9M403 436l-9 9M394 441.5h9M398.5 437v9M394 437l9 9M403 437l-9 9M394 442.5h9M398.5 438v9M394 438l9 9M403 438l-9 9M394 443.5h9M398.5 439v9M394 439l9 9M403 439l-9 9M394 444.5h9M398.5 440v9M394 440l9 9M403 440l-9 9M394 445.5h9M398.5 441v9M394 441l9 9M403 441l-9 9M394 446.5h9M398.5 442v9M394 442l9 9M403 442l-9 9M394 447.5h9M398.5 443v9M394 443l9 9M403 443l-9 9M394 448.5h9M398.5 444v9M394 444l9 9M403 444l-9 9M394 449.5h9M398.5 445v9M394 445l9 9M403 445l-9 9M394 450.5h9M398.5 446v9M394 446l9 9M403 446l-9 9M394 451.5h9M398.5 447v9M394 447l9 9M403 447l-9 9M395 451.5h9M399.5 447v9M395 447l9 9M404 447l-9 9M396 451.5h9M400.5 447v9M396 447l9 9M405 447l-9 9M397 437.5h9M401.5 433v9M397 433l9 9M406 433l-9 9M397 438.5h9M401.5 434v9M397 434l9 9M406 434l-9 9M397 439.5h9M401.5 435v9M397 435l9 9M406 435l-9 9M397 440.5h9M401.5 436v9M397 436l9 9M406 436l-9 9M397 441.5h9M401.5 437v9M397 437l9 9M406 437l-9 9M397 442.5h9M401.5 438v9M397 438l9 9M406 438l-9 9M397 443.5h9M401.5 439v9M397 439l9 9M406 439l-9 9M397 444.5h9M401.5 440v9M397 440l9 9M406 440l-9 9M397 445.5h9M401.5 441v9M397 441l9 9M406 441l-9 9M397 446.5h9M401.5 442v9M397 442l9 9M406 442l-9 9M397 447.5h9M401.5 443v9M397 443l9 9M406 443l-9 9M397 448.5h9M401.5 444v9M397 444l9 9M406 444l-9 9M397 449.5h9M401.5 445v9M397 445l9 9M406 445l-9 9M397 450.5h9M401.5 446v9M397 446l9 9M406 446l-9 9M397 451.5h9M401.5 447v9M397 447l9 9M406 447l-9 9M398 451.5h9M402.5 447v9M398 447l9 9M407 447l-9 9M399 451.5h9M403.5 447v9M399 447l9 9M408 447l-9 9M400 443.5h9M404.5 439v9M400 439l9 9M409 439l-9 9M400 444.5h9M404.5 440v9M400 440l9 9M409 440l-9 9M400 445.5h9M404.5 441v9M400 441l9 9M409 441l-9 9M400 446.5h9M404.5 442v9M400 442l9 9M409 442l-9 9M400 447.5h9M404.5 443v9M400 443l9 9M409 443l-9 9M400 448.5h9M404.5 444v9M400 444l9 9M409 444l-9 9M400 449.5h9M404.5 445v9M400 445l9 9M409 445l-9 9M400 450.5h9M404.5 446v9M400 446l9 9M409 446l-9 9M400 451.5h9M404.5 447v9M400 447l9 9M409 447l-9 9M453 451.5h9M457.5 447v9M453 447l9 9M462 447l-9 9M454 451.5h9M458.5 447v9M454 447l9 9M463 447l-9 9M455 451.5h9M459.5 447v9M455 447l9 9M464 447l-9 9M456 451.5h9M460.5 447v9M456 447l9 9M465 447l-9 9M457 451.5h9M461.5 447v9M457 447l9 9M466 447l-9 9M458 451.5h9M462.5 447v9M458 447l9 9M467 447l-9 9M459 451.5h9M463.5 447v9M459 447l9 9M468 447l-9 9M460 451.5h9M464.5 447v9M460 447l9 9M469 447l-9 9M461 451.5h9M465.5 447v9M461 447l9 9M470 447l-9 9M462 451.5h9M466.5 447v9M462 447l9 9M471 447l-9 9M463 451.5h9M467.5 447v9M463 447l9 9M472 447l-9 9M464 451.5h9M468.5 447v9M464 447l9 9M473 447l-9 9M465 451.5h9M469.5 447v9M465 447l9 9M474 447l-9 9M466 451.5h9M470.5 447v9M466 447l9 9M475 447l-9 9M467 451.5h9M471.5 447v9M467 447l9 9M476 447l-9 9M468 451.5h9M472.5 447v9M468 447l9 9M477 447l-9 9M469 451.5h9M473.5 447v9M469 447l9 9M478 447l-9 9M470 451.5h9M474.5 447v9M470 447l9 9M479 447l-9 9M471 451.5h9M475.5 447v9M471 447l9 9M480 447l-9 9M472 451.5h9M476.5 447v9M472 447l9 9M481 447l-9 9"/>
<path clip-path="url(#c2)" stroke="#000" d="M576 313.5h9M580.5 309v9M576 309l9 9M585 309l-9 9M576 317.5h9M580.5 313v9M576 313l9 9M585 313l-9 9M576 319.5h9M580.5 315v9M576 315l9 9M585 315l-9 9M578 315.5h9M582.5 311v9M578 311l9 9M587 311l-9 9M578 319.5h9M582.5 315v9M578 315l9 9M587 315l-9 9M580 313.5h9M584.5 309v9M580 309l9 9M589 309l-9 9M580 317.5h9M584.5 313v9M580 313l9 9M589 313l-9 9M580 320.5h9M584.5 316v9M580 316l9 9M589 316l-9 9M582 293.5h9M586.5 289v9M582 289l9 9M591 289l-9 9M582 296.5h9M586.5 292v9M582 292l9 9M591 292l-9 9M582 305.5h9M586.5 301v9M582 301l9 9M591 301l-9 9M582 315.5h9M586.5 311v9M582 311l9 9M591 311l-9 9M582 319.5h9M586.5 315v9M582 315l9 9M591 315l-9 9M584 295.5h9M588.5 291v9M584 291l9 9M593 291l-9 9M584 313.5h9M588.5 309v9M584 309l9 9M593 309l-9 9M584 317.5h9M588.5 313v9M584 313l9 9M593 313l-9 9M584 320.5h9M588.5 316v9M584 316l9 9M593 316l-9 9M585 302.5h9M589.5 298v9M585 298l9 9M594 298l-9 9M586 294.5h9M590.5 290v9M586 290l9 9M595 290l-9 9M586 296.5h9M590.5 292v9M586 292l9 9M595 292l-9 9M586 307.5h9M590.5 303v9M586 303l9 9M595 303l-9 9M586 315.5h9M590.5 311v9M586 311l9 9M595 311l-9 9M586 319.5h9M590.5 315v9M586 315l9 9M595 315l-9 9M588 244.5h9M592.5 240v9M588 240l9 9M597 240l-9 9M588 313.5h9M592.5 309v9M588 309l9 9M597 309l-9 9M588 317.5h9M592.5 313v9M588 313l9 9M597 313l-9 9M588 320.5h9M592.5 316v9M588 316l9 9M597 316l-9 9M590 243.5h9M594.5 239v9M590 239l9 9M599 239l-9 9M590 314.5h9M594.5 310v9M590 310l9 9M599 310l-9 9M590 315.5h9M594.5 311v9M590 311l9 9M599 311l-9 9M590 317.5h9M594.5 313v9M590 313l9 9M599 313l-9 9M590 319.5h9M594.5 315v9M590 315l9 9M599 315l-9 9M590 320.5h9M594.5 316v9M590 316l9 9M599 316l-9 9M592 244.5h9M596.5 240v9M592 240l9 9M601 240l-9 9M594 127.5h9M598.5 123v9M594 123l9 9M603 123l-9 9M594 235.5h9M598.5 231v9M594 231l9 9M603 231l-9 9M594 240.5h9M598.5 236v9M594 236l9 9M603 236l-9 9M594 243.5h9M598.5 239v9M594 239l9 9M603 239l-9 9M594 254.5h9M598.5 250v9M594 250l9 9M603 250l-9 9M594 259.5h9M598.5 255v9M594 255l9 9M603 255l-9 9M594 284.5h9M598.5 280v9M594 280l9 9M603 280l-9 9M594 285.5h9M598.5 281v9M594 281l9 9M603 281l-9 9M595 284.5h9M599.5 280v9M595 280l9 9M604 280l-9 9M595 285.5h9M599.5 281v9M595 281l9 9M604 281l-9 9M596 284.5h9M600.5 280v9M596 280l9 9M605 280l-9 9M596 285.5h9M600.5 281v9M596 281l9 9M605 281l-9 9M597 284.5h9M601.5 280v9M597 280l9 9M606 280l-9 9M597 285.5h9M601.5 281v9M597 281l9 9M606 281l-9 9M597 292.5h9M601.5 288v9M597 288l9 9M606 288l-9 9M597 295.5h9M601.5 291v9M597 291l9 9M606 291l-9 9M597 298.5h9M601.5 294v9M597 294l9 9M606 294l-9 9M599 253.5h9M603.5 249v9M599 249l9 9M608 249l-9 9M599 257.5h9M603.5 253v9M599 253l9 9M608 253l-9 9M599 261.5h9M603.5 257v9M599 257l9 9M608 257l-9 9M599 265.5h9M603.5 261v9M599 261l9 9M608 261l-9 9M599 293.5h9M603.5 289v9M599 289l9 9M608 289l-9 9M599 297.5h9M603.5 293v9M599 293l9 9M608 293l-9 9M600 217.5h9M604.5 213v9M600 213l9 9M609 213l-9 9M600 291.5h9M604.5 287v9M600 287l9 9M609 287l-9 9M600 295.5h9M604.5 291v9M600 291l9 9M609 291l-9 9M600 298.5h9M604.5 294v9M600 294l9 9M609 294l-9 9M600 305.5h9M604.5 301v9M600 301l9 9M609 301l-9 9M601 255.5h9M605.5 251v9M601 251l9 9M610 251l-9 9M601 259.5h9M605.5 255v9M601 255l9 9M610 255l-9 9M601 263.5h9M605.5 259v9M601 259l9 9M610 259l-9 9M601 265.5h9M605.5 261v9M601 261l9 9M610 261l-9 9M603 254.5h9M607.5 250v9M603 250l9 9M612 250l-9 9M603 257.5h9M607.5 253v9M603 253l9 9M612 253l-9 9M603 261.5h9M607.5 257v9M603 257l9 9M612 257l-9 9M603 265.5h9M607.5 261v9M603 261l9 9M612 261l-9 9M604 261.5h9M608.5 257v9M604 257l9 9M613 257l-9 9M604 264.5h9M608.5 260v9M604 260l9 9M613 260l-9 9M604 268.5h9M608.5 264v9M604 264l9 9M613 264l-9 9M604 272.5h9M608.5 268v9M604 268l9 9M613 268l-9 9M604 275.5h9M608.5 271v9M604 271l9 9M613 271l-9 9M605 253.5h9M609.5 249v9M605 249l9 9M614 249l-9 9M605 255.5h9M609.5 251v9M605 251l9 9M614 251l-9 9M605 257.5h9M609.5 253v9M605 253l9 9M614 253l-9 9M605 259.5h9M609.5 255v9M605 255l9 9M614 255l-9 9M605 261.5h9M609.5 257v9M605 257l9 9M614 257l-9 9M605 263.5h9M609.5 259v9M605 259l9 9M614 259l-9 9M605 265.5h9M609.5 261v9M605 261l9 9M614 261l-9 9M605 266.5h9M609.5 262v9M605 262l9 9M614 262l-9 9M606 262.5h9M610.5 258v9M606 258l9 9M615 258l-9 9M606 266.5h9M610.5 262v9M606 262l9 9M615 262l-9 9M606 270.5h9M610.5 266v9M606 266l9 9M615 266l-9 9M606 274.5h9M610.5 270v9M606 270l9 9M615 270l-9 9M608 260.5h9M612.5 256v9M608 256l9 9M617 256l-9 9M608 264.5h9M612.5 260v9M608 260l9 9M617 260l-9 9M608 268.5h9M612.5 264v9M608 264l9 9M617 264l-9 9M608 272.5h9M612.5 268v9M608 268l9 9M617 268l-9 9M608 274.5h9M612.5 270v9M608 270l9 9M617 270l-9 9M610 262.5h9M614.5 258v9M610 258l9 9M619 258l-9 9M610 266.5h9M614.5 262v9M610 262l9 9M619 262l-9 9M610 270.5h9M614.5 266v9M610 266l9 9M619 266l-9 9M610 274.5h9M614.5 270v9M610 270l9 9M619 270l-9 9M612 260.5h9M616.5 256v9M612 256l9 9M621 256l-9 9M612 264.5h9M616.5 260v9M612 260l9 9M621 260l-9 9M612 268.5h9M616.5 264v9M612 264l9 9M621 264l-9 9M612 272.5h9M616.5 268v9M612 268l9 9M621 268l-9 9M612 274.5h9M616.5 270v9M612 270l9 9M621 270l-9 9M614 262.5h9M618.5 258v9M614 258l9 9M623 258l-9 9M614 266.5h9M618.5 262v9M614 262l9 9M623 262l-9 9M614 270.5h9M618.5 266v9M614 266l9 9M623 266l-9 9M614 274.5h9M618.5 270v9M614 270l9 9M623 270l-9 9M616 241.5h9M620.5 237v9M616 237l9 9M625 237l-9 9M616 247.5h9M620.5 243v9M616 243l9 9M625 243l-9 9M616 252.5h9M620.5 248v9M616 248l9 9M625 248l-9 9M616 258.5h9M620.5 254v9M616 254l9 9M625 254l-9 9M616 260.5h9M620.5 256v9M616 256l9 9M625 256l-9 9M616 264.5h9M620.5 260v9M616 260l9 9M625 260l-9 9M616 268.5h9M620.5 264v9M616 264l9 9M625 264l-9 9M616 272.5h9M620.5 268v9M616 268l9 9M625 268l-9 9M616 274.5h9M620.5 270v9M616 270l9 9M625 270l-9 9M625 233.5h9M629.5 229v9M625 229l9 9M634 229l-9 9M625 237.5h9M629.5 233v9M625 233l9 9M634 233l-9 9M625 241.5h9M629.5 237v9M625 237l9 9M634 237l-9 9M625 245.5h9M629.5 241v9M625 241l9 9M634 241l-9 9M627 235.5h9M631.5 231v9M627 231l9 9M636 231l-9 9M627 239.5h9M631.5 235v9M627 235l9 9M636 235l-9 9M627 243.5h9M631.5 239v9M627 239l9 9M636 239l-9 9M629 233.5h9M633.5 229v9M629 229l9 9M638 229l-9 9M629 237.5h9M633.5 233v9M629 233l9 9M638 233l-9 9M629 241.5h9M633.5 237v9M629 237l9 9M638 237l-9 9M629 245.5h9M633.5 241v9M629 241l9 9M638 241l-9 9M631 235.5h9M635.5 231v9M631 231l9 9M640 231l-9 9M631 239.5h9M635.5 235v9M631 235l9 9M640 235l-9 9M631 243.5h9M635.5 239v9M631 239l9 9M640 239l-9 9M633 233.5h9M637.5 229v9M633 229l9 9M642 229l-9 9M633 237.5h9M637.5 233v9M633 233l9 9M642 233l-9 9M633 241.5h9M637.5 237v9M633 237l9 9M642 237l-9 9M633 245.5h9M637.5 241v9M633 241l9 9M642 241l-9 9M635 241.5h9M639.5 237v9M635 237l9 9M644 237l-9 9M635 244.5h9M639.5 240v9M635 240l9 9M644 240l-9 9M635 248.5h9M639.5 244v9M635 244l9 9M644 244l-9 9M637 242.5h9M641.5 238v9M637 238l9 9M646 238l-9 9M637 246.5h9M641.5 242v9M637 242l9 9M646 242l-9 9M637 248.5h9M641.5 244v9M637 244l9 9M646 244l-9 9M639 240.5h9M643.5 236v9M639 236l9 9M648 236l-9 9M639 244.5h9M643.5 240v9M639 240l9 9M648 240l-9 9M639 248.5h9M643.5 244v9M639 244l9 9M648 244l-9 9M641 242.5h9M645.5 238v9M641 238l9 9M650 238l-9 9M641 246.5h9M645.5 242v9M641 242l9 9M650 242l-9 9M641 249.5h9M645.5 245v9M641 245l9 9M650 245l-9 9M643 241.5h9M647.5 237v9M643 237l9 9M652 237l-9 9M643 244.5h9M647.5 240v9M643 240l9 9M652 240l-9 9M643 248.5h9M647.5 244v9M643 244l9 9M652 244l-9 9M645 242.5h9M649.5 238v9M645 238l9 9M654 238l-9 9M645 246.5h9M649.5 242v9M645 242l9 9M654 242l-9 9M645 249.5h9M649.5 245v9M645 245l9 9M654 245l-9 9M647 240.5h9M651.5 236v9M647 236l9 9M656 236l-9 9M647 244.5h9M651.5 240v9M647 240l9 9M656 240l-9 9M647 248.5h9M651.5 244v9M647 244l9 9M656 244l-9 9M651 246.5h9M655.5 242v9M651 242l9 9M660 242l-9 9M651 250.5h9M655.5 246v9M651 246l9 9M660 246l-9 9M651 254.5h9M655.5 250v9M651 250l9 9M660 250l-9 9M651 258.5h9M655.5 254v9M651 254l9 9M660 254l-9 9M653 248.5h9M657.5 244v9M653 244l9 9M662 244l-9 9M653 252.5h9M657.5 248v9M653 248l9 9M662 248l-9 9M653 256.5h9M657.5 252v9M653 252l9 9M662 252l-9 9M655 246.5h9M659.5 242v9M655 242l9 9M664 242l-9 9M655 250.5h9M659.5 246v9M655 246l9 9M664 246l-9 9M655 254.5h9M659.5 250v9M655 250l9 9M664 250l-9 9M655 258.5h9M659.5 254v9M655 254l9 9M664 254l-9 9M657 248.5h9M661.5 244v9M657 244l9 9M666 244l-9 9M657 252.5h9M661.5 248v9M657 248l9 9M666 248l-9 9M657 256.5h9M661.5 252v9M657 252l9 9M666 252l-9 9M659 246.5h9M663.5 242v9M659 242l9 9M668 242l-9 9M659 250.5h9M663.5 246v9M659 246l9 9M668 246l-9 9M659 254.5h9M663.5 250v9M659 250l9 9M668 250l-9 9M659 257.5h9M663.5 253v9M659 253l9 9M668 253l-9 9M661 237.5h9M665.5 233v9M661 233l9 9M670 233l-9 9M661 241.5h9M665.5 237v9M661 237l9 9M670 237l-9 9M661 245.5h9M665.5 241v9M661 241l9 9M670 241l-9 9M661 246.5h9M665.5 242v9M661 242l9 9M670 242l-9 9M661 248.5h9M665.5 244v9M661 244l9 9M670 244l-9 9M661 250.5h9M665.5 246v9M661 246l9 9M670 246l-9 9M661 252.5h9M665.5 248v9M661 248l9 9M670 248l-9 9M661 254.5h9M665.5 250v9M661 250l9 9M670 250l-9 9M661 256.5h9M665.5 252v9M661 252l9 9M670 252l-9 9M661 258.5h9M665.5 254v9M661 254l9 9M670 254l-9 9M663 239.5h9M667.5 235v9M663 235l9 9M672 235l-9 9M663 243.5h9M667.5 239v9M663 239l9 9M672 239l-9 9M663 247.5h9M667.5 243v9M663 243l9 9M672 243l-9 9M665 238.5h9M669.5 234v9M665 234l9 9M674 234l-9 9M665 241.5h9M669.5 237v9M665 237l9 9M674 237l-9 9M665 245.5h9M669.5 241v9M665 241l9 9M674 241l-9 9M665 248.5h9M669.5 244v9M665 244l9 9M674 244l-9 9M666 238.5h9M670.5 234v9M666 234l9 9M675 234l-9 9M666 242.5h9M670.5 238v9M666 238l9 9M675 238l-9 9M666 246.5h9M670.5 242v9M666 242l9 9M675 242l-9 9M666 250.5h9M670.5 246v9M666 246l9 9M675 246l-9 9M667 239.5h9M671.5 235v9M667 235l9 9M676 235l-9 9M667 243.5h9M671.5 239v9M667 239l9 9M676 239l-9 9M667 247.5h9M671.5 243v9M667 243l9 9M676 243l-9 9M668 237.5h9M672.5 233v9M668 233l9 9M677 233l-9 9M668 240.5h9M672.5 236v9M668 236l9 9M677 236l-9 9M668 241.5h9M672.5 237v9M668 237l9 9M677 237l-9 9M668 244.5h9M672.5 240v9M668 240l9 9M677 240l-9 9M668 245.5h9M672.5 241v9M668 241l9 9M677 241l-9 9M668 248.5h9M672.5 244v9M668 244l9 9M677 244l-9 9M670 238.5h9M674.5 234v9M670 234l9 9M679 234l-9 9M670 242.5h9M674.5 238v9M670 238l9 9M679 238l-9 9M670 246.5h9M674.5 242v9M670 242l9 9M679 242l-9 9M670 250.5h9M674.5 246v9M670 246l9 9M679 246l-9 9M672 238.5h9M676.5 234v9M672 234l9 9M681 234l-9 9M672 240.5h9M676.5 236v9M672 236l9 9M681 236l-9 9M672 242.5h9M676.5 238v9M672 238l9 9M681 238l-9 9M672 244.5h9M676.5 240v9M672 240l9 9M681 240l-9 9M672 246.5h9M676.5 242v9M672 242l9 9M681 242l-9 9M672 248.5h9M676.5 244v9M672 244l9 9M681 244l-9 9M672 249.5h9M676.5 245v9M672 245l9 9M681 245l-9 9M676 242.5h9M680.5 238v9M676 238l9 9M685 238l-9 9M676 245.5h9M680.5 241v9M676 241l9 9M685 241l-9 9M676 249.5h9M680.5 245v9M676 245l9 9M685 245l-9 9M676 253.5h9M680.5 249v9M676 249l9 9M685 249l-9 9M678 243.5h9M682.5 239v9M678 239l9 9M687 239l-9 9M678 247.5h9M682.5 243v9M678 243l9 9M687 243l-9 9M678 251.5h9M682.5 247v9M678 247l9 9M687 247l-9 9M679 241.5h9M683.5 237v9M679 237l9 9M688 237l-9 9M679 245.5h9M683.5 241v9M679 241l9 9M688 241l-9 9M679 249.5h9M683.5 245v9M679 245l9 9M688 245l-9 9M679 252.5h9M683.5 248v9M679 248l9 9M688 248l-9 9M688 237.5h9M692.5 233v9M688 233l9 9M697 233l-9 9M688 240.5h9M692.5 236v9M688 236l9 9M697 236l-9 9M688 244.5h9M692.5 240v9M688 240l9 9M697 240l-9 9M688 248.5h9M692.5 244v9M688 244l9 9M697 244l-9 9M688 250.5h9M692.5 246v9M688 246l9 9M697 246l-9 9M690 238.5h9M694.5 234v9M690 234l9 9M699 234l-9 9M690 242.5h9M694.5 238v9M690 238l9 9M699 238l-9 9M690 246.5h9M694.5 242v9M690 242l9 9M699 242l-9 9M690 250.5h9M694.5 246v9M690 246l9 9M699 246l-9 9M692 236.5h9M696.5 232v9M692 232l9 9M701 232l-9 9M692 240.5h9M696.5 236v9M692 236l9 9M701 236l-9 9M692 244.5h9M696.5 240v9M692 240l9 9M701 240l-9 9M692 248.5h9M696.5 244v9M692 244l9 9M701 244l-9 9M692 251.5h9M696.5 247v9M692 247l9 9M701 247l-9 9M694 238.5h9M698.5 234v9M694 234l9 9M703 234l-9 9M694 242.5h9M698.5 238v9M694 238l9 9M703 238l-9 9M694 246.5h9M698.5 242v9M694 242l9 9M703 242l-9 9M694 250.5h9M698.5 246v9M694 246l9 9M703 246l-9 9M696 236.5h9M700.5 232v9M696 232l9 9M705 232l-9 9M696 240.5h9M700.5 236v9M696 236l9 9M705 236l-9 9M696 244.5h9M700.5 240v9M696 240l9 9M705 240l-9 9M696 248.5h9M700.5 244v9M696 244l9 9M705 244l-9 9M696 251.5h9M700.5 247v9M696 247l9 9M705 247l-9 9M700 255.5h9M704.5 251v9M700 251l9 9M709 251l-9 9M700 256.5h9M704.5 252v9M700 252l9 9M709 252l-9 9M700 257.5h9M704.5 253v9M700 253l9 9M709 253l-9 9M700 258.5h9M704.5 254v9M700 254l9 9M709 254l-9 9M700 259.5h9M704.5 255v9M700 255l9 9M709 255l-9 9M700 260.5h9M704.5 256v9M700 256l9 9M709 256l-9 9M700 261.5h9M704.5 257v9M700 257l9 9M709 257l-9 9M700 262.5h9M704.5 258v9M700 258l9 9M709 258l-9 9M700 264.5h9M704.5 260v9M700 260l9 9M709 260l-9 9M702 258.5h9M706.5 254v9M702 254l9 9M711 254l-9 9M702 262.5h9M706.5 258v9M702 258l9 9M711 258l-9 9M702 265.5h9M706.5 261v9M702 261l9 9M711 261l-9 9M703 256.5h9M707.5 252v9M703 252l9 9M712 252l-9 9M703 260.5h9M707.5 256v9M703 256l9 9M712 256l-9 9M703 264.5h9M707.5 260v9M703 260l9 9M712 260l-9 9M708 250.5h9M712.5 246v9M708 246l9 9M717 246l-9 9M708 254.5h9M712.5 250v9M708 250l9 9M717 250l-9 9M708 258.5h9M712.5 254v9M708 254l9 9M717 254l-9 9M708 262.5h9M712.5 258v9M708 258l9 9M717 258l-9 9M708 264.5h9M712.5 260v9M708 260l9 9M717 260l-9 9M710 252.5h9M714.5 248v9M710 248l9 9M719 248l-9 9M710 256.5h9M714.5 252v9M710 252l9 9M719 252l-9 9M710 260.5h9M714.5 256v9M710 256l9 9M719 256l-9 9M710 264.5h9M714.5 260v9M710 260l9 9M719 260l-9 9M712 250.5h9M716.5 246v9M712 246l9 9M721 246l-9 9M712 254.5h9M716.5 250v9M712 250l9 9M721 250l-9 9M712 258.5h9M716.5 254v9M712 254l9 9M721 254l-9 9M712 262.5h9M716.5 258v9M712 258l9 9M721 258l-9 9M712 265.5h9M716.5 261v9M712 261l9 9M721 261l-9 9M714 252.5h9M718.5 248v9M714 248l9 9M723 248l-9 9M714 256.5h9M718.5 252v9M714 252l9 9M723 252l-9 9M714 260.5h9M718.5 256v9M714 256l9 9M723 256l-9 9M714 264.5h9M718.5 260v9M714 260l9 9M723 260l-9 9M716 250.5h9M720.5 246v9M716 246l9 9M725 246l-9 9M716 254.5h9M720.5 250v9M716 250l9 9M725 250l-9 9M716 258.5h9M720.5 254v9M716 254l9 9M725 254l-9 9M716 262.5h9M720.5 258v9M716 258l9 9M725 258l-9 9M716 265.5h9M720.5 261v9M716 261l9 9M725 261l-9 9M724 242.5h9M728.5 238v9M724 238l9 9M733 238l-9 9M724 246.5h9M728.5 242v9M724 242l9 9M733 242l-9 9M724 250.5h9M728.5 246v9M724 246l9 9M733 246l-9 9M724 254.5h9M728.5 250v9M724 250l9 9M733 250l-9 9M726 244.5h9M730.5 240v9M726 240l9 9M735 240l-9 9M726 248.5h9M730.5 244v9M726 244l9 9M735 244l-9 9M726 252.5h9M730.5 248v9M726 248l9 9M735 248l-9 9M726 256.5h9M730.5 252v9M726 252l9 9M735 252l-9 9M728 242.5h9M732.5 238v9M728 238l9 9M737 238l-9 9M728 246.5h9M732.5 242v9M728 242l9 9M737 242l-9 9M728 250.5h9M732.5 246v9M728 246l9 9M737 246l-9 9M728 254.5h9M732.5 250v9M728 250l9 9M737 250l-9 9M735 248.5h9M739.5 244v9M735 244l9 9M744 244l-9 9M735 249.5h9M739.5 245v9M735 245l9 9M744 245l-9 9M735 250.5h9M739.5 246v9M735 246l9 9M744 246l-9 9M735 251.5h9M739.5 247v9M735 247l9 9M744 247l-9 9M735 252.5h9M739.5 248v9M735 248l9 9M744 248l-9 9M735 253.5h9M739.5 249v9M735 249l9 9M744 249l-9 9M735 254.5h9M739.5 250v9M735 250l9 9M744 250l-9 9M735 255.5h9M739.5 251v9M735 251l9 9M744 251l-9 9M735 256.5h9M739.5 252v9M735 252l9 9M744 252l-9 9M735 257.5h9M739.5 253v9M735 253l9 9M744 253l-9 9M735 258.5h9M739.5 254v9M735 254l9 9M744 254l-9 9M738 254.5h9M742.5 250v9M738 250l9 9M747 250l-9 9M738 257.5h9M742.5 253v9M738 253l9 9M747 253l-9 9M738 261.5h9M742.5 257v9M738 257l9 9M747 257l-9 9M738 265.5h9M742.5 261v9M738 261l9 9M747 261l-9 9M738 269.5h9M742.5 265v9M738 265l9 9M747 265l-9 9M740 255.5h9M744.5 251v9M740 251l9 9M749 251l-9 9M740 259.5h9M744.5 255v9M740 255l9 9M749 255l-9 9M740 263.5h9M744.5 259v9M740 259l9 9M749 259l-9 9M740 267.5h9M744.5 263v9M740 263l9 9M749 263l-9 9M740 269.5h9M744.5 265v9M740 265l9 9M749 265l-9 9M742 253.5h9M746.5 249v9M742 249l9 9M751 249l-9 9M742 257.5h9M746.5 253v9M742 253l9 9M751 253l-9 9M742 261.5h9M746.5 257v9M742 257l9 9M751 257l-9 9M742 265.5h9M746.5 261v9M742 261l9 9M751 261l-9 9M742 269.5h9M746.5 265v9M742 265l9 9M751 265l-9 9M749 350.5h9M753.5 346v9M749 346l9 9M758 346l-9 9M749 354.5h9M753.5 350v9M749 350l9 9M758 350l-9 9M751 252.5h9M755.5 248v9M751 248l9 9M760 248l-9 9M751 253.5h9M755.5 249v9M751 249l9 9M760 249l-9 9M751 254.5h9M755.5 250v9M751 250l9 9M760 250l-9 9M751 255.5h9M755.5 251v9M751 251l9 9M760 251l-9 9M751 256.5h9M755.5 252v9M751 252l9 9M760 252l-9 9M751 257.5h9M755.5 253v9M751 253l9 9M760 253l-9 9M751 258.5h9M755.5 254v9M751 254l9 9M760 254l-9 9M751 259.5h9M755.5 255v9M751 255l9 9M760 255l-9 9M751 260.5h9M755.5 256v9M751 256l9 9M760 256l-9 9M751 261.5h9M755.5 257v9M751 257l9 9M760 257l-9 9M751 262.5h9M755.5 258v9M751 258l9 9M760 258l-9 9M751 352.5h9M755.5 348v9M751 348l9 9M760 348l-9 9M751 355.5h9M755.5 351v9M751 351l9 9M760 351l-9 9M753 350.5h9M757.5 346v9M753 346l9 9M762 346l-9 9M753 354.5h9M757.5 350v9M753 350l9 9M762 350l-9 9M755 352.5h9M759.5 348v9M755 348l9 9M764 348l-9 9M755 356.5h9M759.5 352v9M755 352l9 9M764 352l-9 9M757 350.5h9M761.5 346v9M757 346l9 9M766 346l-9 9M757 354.5h9M761.5 350v9M757 350l9 9M766 350l-9 9M758 342.5h9M762.5 338v9M758 338l9 9M767 338l-9 9M760 254.5h9M764.5 250v9M760 250l9 9M769 250l-9 9M760 255.5h9M764.5 251v9M760 251l9 9M769 251l-9 9M760 256.5h9M764.5 252v9M760 252l9 9M769 252l-9 9M760 257.5h9M764.5 253v9M760 253l9 9M769 253l-9 9M760 258.5h9M764.5 254v9M760 254l9 9M769 254l-9 9M760 259.5h9M764.5 255v9M760 255l9 9M769 255l-9 9M760 260.5h9M764.5 256v9M760 256l9 9M769 256l-9 9M760 261.5h9M764.5 257v9M760 257l9 9M769 257l-9 9M760 262.5h9M764.5 258v9M760 258l9 9M769 258l-9 9M760 263.5h9M764.5 259v9M760 259l9 9M769 259l-9 9M760 264.5h9M764.5 260v9M760 260l9 9M769 260l-9 9M760 265.5h9M764.5 261v9M760 261l9 9M769 261l-9 9M760 266.5h9M764.5 262v9M760 262l9 9M769 262l-9 9M760 267.5h9M764.5 263v9M760 263l9 9M769 263l-9 9M760 268.5h9M764.5 264v9M760 264l9 9M769 264l-9 9M761 254.5h9M765.5 250v9M761 250l9 9M770 250l-9 9M761 258.5h9M765.5 254v9M761 254l9 9M770 254l-9 9M761 262.5h9M765.5 258v9M761 258l9 9M770 258l-9 9M761 266.5h9M765.5 262v9M761 262l9 9M770 262l-9 9M763 256.5h9M767.5 252v9M763 252l9 9M772 252l-9 9M763 260.5h9M767.5 256v9M763 256l9 9M772 256l-9 9M763 264.5h9M767.5 260v9M763 260l9 9M772 260l-9 9M763 268.5h9M767.5 264v9M763 264l9 9M772 264l-9 9M765 254.5h9M769.5 250v9M765 250l9 9M774 250l-9 9M765 258.5h9M769.5 254v9M765 254l9 9M774 254l-9 9M765 262.5h9M769.5 258v9M765 258l9 9M774 258l-9 9M765 266.5h9M769.5 262v9M765 262l9 9M774 262l-9 9M768 250.5h9M772.5 246v9M768 246l9 9M777 246l-9 9M768 251.5h9M772.5 247v9M768 247l9 9M777 247l-9 9M768 252.5h9M772.5 248v9M768 248l9 9M777 248l-9 9M768 253.5h9M772.5 249v9M768 249l9 9M777 249l-9 9M768 254.5h9M772.5 250v9M768 250l9 9M777 250l-9 9M768 255.5h9M772.5 251v9M768 251l9 9M777 251l-9 9M768 256.5h9M772.5 252v9M768 252l9 9M777 252l-9 9M768 257.5h9M772.5 253v9M768 253l9 9M777 253l-9 9M768 258.5h9M772.5 254v9M768 254l9 9M777 254l-9 9M768 259.5h9M772.5 255v9M768 255l9 9M777 255l-9 9M768 260.5h9M772.5 256v9M768 256l9 9M777 256l-9 9M768 261.5h9M772.5 257v9M768 257l9 9M777 257l-9 9M768 262.5h9M772.5 258v9M768 258l9 9M777 258l-9 9M768 263.5h9M772.5 259v9M768 259l9 9M777 259l-9 9M774 256.5h9M778.5 252v9M774 252l9 9M783 252l-9 9M774 257.5h9M778.5 253v9M774 253l9 9M783 253l-9 9M774 258.5h9M778.5 254v9M774 254l9 9M783 254l-9 9M774 259.5h9M778.5 255v9M774 255l9 9M783 255l-9 9M774 260.5h9M778.5 256v9M774 256l9 9M783 256l-9 9M774 261.5h9M778.5 257v9M774 257l9 9M783 257l-9 9M774 262.5h9M778.5 258v9M774 258l9 9M783 258l-9 9M774 263.5h9M778.5 259v9M774 259l9 9M783 259l-9 9M775 270.5h9M779.5 266v9M775 266l9 9M784 266l-9 9M775 289.5h9M779.5 285v9M775 285l9 9M784 285l-9 9M775 312.5h9M779.5 308v9M775 308l9 9M784 308l-9 9M779 315.5h9M783.5 311v9M779 311l9 9M788 311l-9 9M779 316.5h9M783.5 312v9M779 312l9 9M788 312l-9 9M779 317.5h9M783.5 313v9M779 313l9 9M788 313l-9 9M779 318.5h9M783.5 314v9M779 314l9 9M788 314l-9 9M779 319.5h9M783.5 315v9M779 315l9 9M788 315l-9 9M779 320.5h9M783.5 316v9M779 316l9 9M788 316l-9 9M779 321.5h9M783.5 317v9M779 317l9 9M788 317l-9 9M779 342.5h9M783.5 338v9M779 338l9 9M788 338l-9 9M779 345.5h9M783.5 341v9M779 341l9 9M788 341l-9 9M781 344.5h9M785.5 340v9M781 340l9 9M790 340l-9 9M783 342.5h9M787.5 338v9M783 338l9 9M792 338l-9 9M783 345.5h9M787.5 341v9M783 341l9 9M792 341l-9 9M785 336.5h9M789.5 332v9M785 332l9 9M794 332l-9 9M786 336.5h9M790.5 332v9M786 332l9 9M795 332l-9 9M787 336.5h9M791.5 332v9M787 332l9 9M796 332l-9 9M788 320.5h9M792.5 316v9M788 316l9 9M797 316l-9 9M788 321.5h9M792.5 317v9M788 317l9 9M797 317l-9 9M788 322.5h9M792.5 318v9M788 318l9 9M797 318l-9 9M788 323.5h9M792.5 319v9M788 319l9 9M797 319l-9 9M788 324.5h9M792.5 320v9M788 320l9 9M797 320l-9 9M788 325.5h9M792.5 321v9M788 321l9 9M797 321l-9 9M788 326.5h9M792.5 322v9M788 322l9 9M797 322l-9 9M788 327.5h9M792.5 323v9M788 323l9 9M797 323l-9 9M788 328.5h9M792.5 324v9M788 324l9 9M797 324l-9 9M788 329.5h9M792.5 325v9M788 325l9 9M797 325l-9 9M788 330.5h9M792.5 326v9M788 326l9 9M797 326l-9 9M788 331.5h9M792.5 327v9M788 327l9 9M797 327l-9 9M788 332.5h9M792.5 328v9M788 328l9 9M797 328l-9 9M788 333.5h9M792.5 329v9M788 329l9 9M797 329l-9 9M788 334.5h9M792.5 330v9M788 330l9 9M797 330l-9 9M788 335.5h9M792.5 331v9M788 331l9 9M797 331l-9 9M788 336.5h9M792.5 332v9M788 332l9 9M797 332l-9 9M794 313.5h9M798.5 309v9M794 309l9 9M803 309l-9 9M794 314.5h9M798.5 310v9M794 310l9 9M803 310l-9 9M794 315.5h9M798.5 311v9M794 311l9 9M803 311l-9 9M794 316.5h9M798.5 312v9M794 312l9 9M803 312l-9 9M794 317.5h9M798.5 313v9M794 313l9 9M803 313l-9 9M794 318.5h9M798.5 314v9M794 314l9 9M803 314l-9 9M794 319.5h9M798.5 315v9M794 315l9 9M803 315l-9 9M794 320.5h9M798.5 316v9M794 316l9 9M803 316l-9 9M794 321.5h9M798.5 317v9M794 317l9 9M803 317l-9 9M798 308.5h9M802.5 304v9M798 304l9 9M807 304l-9 9M798 312.5h9M802.5 308v9M798 308l9 9M807 308l-9 9M800 310.5h9M804.5 306v9M800 306l9 9M809 306l-9 9M800 313.5h9M804.5 309v9M800 309l9 9M809 309l-9 9M802 309.5h9M806.5 305v9M802 305l9 9M811 305l-9 9M802 312.5h9M806.5 308v9M802 308l9 9M811 308l-9 9M807 237.5h9M811.5 233v9M807 233l9 9M816 233l-9 9M807 303.5h9M811.5 299v9M807 299l9 9M816 299l-9 9M807 304.5h9M811.5 300v9M807 300l9 9M816 300l-9 9M807 305.5h9M811.5 301v9M807 301l9 9M816 301l-9 9M807 306.5h9M811.5 302v9M807 302l9 9M816 302l-9 9M808 237.5h9M812.5 233v9M808 233l9 9M817 233l-9 9M814 237.5h9M818.5 233v9M814 233l9 9M823 233l-9 9M820 237.5h9M824.5 233v9M820 233l9 9M829 233l-9 9M821 237.5h9M825.5 233v9M821 233l9 9M830 233l-9 9M821 244.5h9M825.5 240v9M821 240l9 9M830 240l-9 9M821 245.5h9M825.5 241v9M821 241l9 9M830 241l-9 9M821 246.5h9M825.5 242v9M821 242l9 9M830 242l-9 9M821 247.5h9M825.5 243v9M821 243l9 9M830 243l-9 9M821 248.5h9M825.5 244v9M821 244l9 9M830 244l-9 9M821 249.5h9M825.5 245v9M821 245l9 9M830 245l-9 9M821 250.5h9M825.5 246v9M821 246l9 9M830 246l-9 9M821 251.5h9M825.5 247v9M821 247l9 9M830 247l-9 9M833 250.5h9M837.5 246v9M833 246l9 9M842 246l-9 9M838 237.5h9M842.5 233v9M838 233l9 9M847 233l-9 9M838 249.5h9M842.5 245v9M838 245l9 9M847 245l-9 9M838 253.5h9M842.5 249v9M838 249l9 9M847 249l-9 9M840 251.5h9M844.5 247v9M840 247l9 9M849 247l-9 9M842 249.5h9M846.5 245v9M842 245l9 9M851 245l-9 9M842 253.5h9M846.5 249v9M842 249l9 9M851 249l-9 9M844 251.5h9M848.5 247v9M844 247l9 9M853 247l-9 9M845 237.5h9M849.5 233v9M845 233l9 9M854 233l-9 9M845 249.5h9M849.5 245v9M845 245l9 9M854 245l-9 9M845 253.5h9M849.5 249v9M845 249l9 9M854 249l-9 9M848 253.5h9M852.5 249v9M848 249l9 9M857 249l-9 9M848 254.5h9M852.5 250v9M848 250l9 9M857 250l-9 9M848 255.5h9M852.5 251v9M848 251l9 9M857 251l-9 9M848 256.5h9M852.5 252v9M848 252l9 9M857 252l-9 9M848 257.5h9M852.5 253v9M848 253l9 9M857 253l-9 9M848 258.5h9M852.5 254v9M848 254l9 9M857 254l-9 9M848 259.5h9M852.5 255v9M848 255l9 9M857 255l-9 9M848 260.5h9M852.5 256v9M848 256l9 9M857 256l-9 9M848 261.5h9M852.5 257v9M848 257l9 9M857 257l-9 9M848 262.5h9M852.5 258v9M848 258l9 9M857 258l-9 9M848 263.5h9M852.5 259v9M848 259l9 9M857 259l-9 9M848 264.5h9M852.5 260v9M848 260l9 9M857 260l-9 9M848 265.5h9M852.5 261v9M848 261l9 9M857 261l-9 9M848 266.5h9M852.5 262v9M848 262l9 9M857 262l-9 9M848 267.5h9M852.5 263v9M848 263l9 9M857 263l-9 9M848 268.5h9M852.5 264v9M848 264l9 9M857 264l-9 9M848 269.5h9M852.5 265v9M848 265l9 9M857 265l-9 9M848 270.5h9M852.5 266v9M848 266l9 9M857 266l-9 9M848 271.5h9M852.5 267v9M848 267l9 9M857 267l-9 9M848 280.5h9M852.5 276v9M848 276l9 9M857 276l-9 9M848 284.5h9M852.5 280v9M848 280l9 9M857 280l-9 9M848 299.5h9M852.5 295v9M848 295l9 9M857 295l-9 9M852 302.5h9M856.5 298v9M852 298l9 9M861 298l-9 9M852 306.5h9M856.5 302v9M852 302l9 9M861 302l-9 9M852 310.5h9M856.5 306v9M852 306l9 9M861 306l-9 9M852 314.5h9M856.5 310v9M852 310l9 9M861 310l-9 9M854 304.5h9M858.5 300v9M854 300l9 9M863 300l-9 9M854 308.5h9M858.5 304v9M854 304l9 9M863 304l-9 9M854 312.5h9M858.5 308v9M854 308l9 9M863 308l-9 9M854 316.5h9M858.5 312v9M854 312l9 9M863 312l-9 9M855 302.5h9M859.5 298v9M855 298l9 9M864 298l-9 9M855 306.5h9M859.5 302v9M855 302l9 9M864 302l-9 9M855 310.5h9M859.5 306v9M855 306l9 9M864 306l-9 9M855 314.5h9M859.5 310v9M855 310l9 9M864 310l-9 9M860 301.5h9M864.5 297v9M860 297l9 9M869 297l-9 9M860 304.5h9M864.5 300v9M860 300l9 9M869 300l-9 9M860 308.5h9M864.5 304v9M860 304l9 9M869 304l-9 9M862 302.5h9M866.5 298v9M862 298l9 9M871 298l-9 9M862 306.5h9M866.5 302v9M862 302l9 9M871 302l-9 9M862 310.5h9M866.5 306v9M862 306l9 9M871 306l-9 9M864 300.5h9M868.5 296v9M864 296l9 9M873 296l-9 9M864 304.5h9M868.5 300v9M864 300l9 9M873 300l-9 9M864 308.5h9M868.5 304v9M864 304l9 9M873 304l-9 9M869 300.5h9M873.5 296v9M869 296l9 9M878 296l-9 9M869 304.5h9M873.5 300v9M869 300l9 9M878 300l-9 9M869 308.5h9M873.5 304v9M869 304l9 9M878 304l-9 9M869 312.5h9M873.5 308v9M869 308l9 9M878 308l-9 9M869 316.5h9M873.5 312v9M869 312l9 9M878 312l-9 9M869 319.5h9M873.5 315v9M869 315l9 9M878 315l-9 9M871 302.5h9M875.5 298v9M871 298l9 9M880 298l-9 9M871 306.5h9M875.5 302v9M871 302l9 9M880 302l-9 9M871 310.5h9M875.5 306v9M871 306l9 9M880 306l-9 9M871 314.5h9M875.5 310v9M871 310l9 9M880 310l-9 9M871 318.5h9M875.5 314v9M871 314l9 9M880 314l-9 9M872 300.5h9M876.5 296v9M872 296l9 9M881 296l-9 9M872 304.5h9M876.5 300v9M872 300l9 9M881 300l-9 9M872 308.5h9M876.5 304v9M872 304l9 9M881 304l-9 9M872 312.5h9M876.5 308v9M872 308l9 9M881 308l-9 9M872 316.5h9M876.5 312v9M872 312l9 9M881 312l-9 9M872 319.5h9M876.5 315v9M872 315l9 9M881 315l-9 9M876 291.5h9M880.5 287v9M876 287l9 9M885 287l-9 9M876 292.5h9M880.5 288v9M876 288l9 9M885 288l-9 9M876 293.5h9M880.5 289v9M876 289l9 9M885 289l-9 9M876 294.5h9M880.5 290v9M876 290l9 9M885 290l-9 9M876 295.5h9M880.5 291v9M876 291l9 9M885 291l-9 9M876 296.5h9M880.5 292v9M876 292l9 9M885 292l-9 9M876 297.5h9M880.5 293v9M876 293l9 9M885 293l-9 9M876 298.5h9M880.5 294v9M876 294l9 9M885 294l-9 9M876 299.5h9M880.5 295v9M876 295l9 9M885 295l-9 9M876 300.5h9M880.5 296v9M876 296l9 9M885 296l-9 9M876 301.5h9M880.5 297v9M876 297l9 9M885 297l-9 9M876 302.5h9M880.5 298v9M876 298l9 9M885 298l-9 9M876 303.5h9M880.5 299v9M876 299l9 9M885 299l-9 9M876 304.5h9M880.5 300v9M876 300l9 9M885 300l-9 9M876 305.5h9M880.5 301v9M876 301l9 9M885 301l-9 9M876 306.5h9M880.5 302v9M876 302l9 9M885 302l-9 9M876 307.5h9M880.5 303v9M876 303l9 9M885 303l-9 9M876 308.5h9M880.5 304v9M876 304l9 9M885 304l-9 9M876 309.5h9M880.5 305v9M876 305l9 9M885 305l-9 9M881 283.5h9M885.5 279v9M881 279l9 9M890 279l-9 9M881 284.5h9M885.5 280v9M881 280l9 9M890 280l-9 9M881 285.5h9M885.5 281v9M881 281l9 9M890 281l-9 9M881 286.5h9M885.5 282v9M881 282l9 9M890 282l-9 9M881 287.5h9M885.5 283v9M881 283l9 9M890 283l-9 9M881 288.5h9M885.5 284v9M881 284l9 9M890 284l-9 9M881 289.5h9M885.5 285v9M881 285l9 9M890 285l-9 9M881 290.5h9M885.5 286v9M881 286l9 9M890 286l-9 9M881 291.5h9M885.5 287v9M881 287l9 9M890 287l-9 9M881 292.5h9M885.5 288v9M881 288l9 9M890 288l-9 9M881 293.5h9M885.5 289v9M881 289l9 9M890 289l-9 9M881 294.5h9M885.5 290v9M881 290l9 9M890 290l-9 9M881 295.5h9M885.5 291v9M881 291l9 9M890 291l-9 9M881 296.5h9M885.5 292v9M881 292l9 9M890 292l-9 9M886 283.5h9M890.5 279v9M886 279l9 9M895 279l-9 9M886 286.5h9M890.5 282v9M886 282l9 9M895 282l-9 9M888 284.5h9M892.5 280v9M888 280l9 9M897 280l-9 9M888 286.5h9M892.5 282v9M888 282l9 9M897 282l-9 9M889 237.5h9M893.5 233v9M889 233l9 9M898 233l-9 9M889 283.5h9M893.5 279v9M889 279l9 9M898 279l-9 9M889 286.5h9M893.5 282v9M889 282l9 9M898 282l-9 9M894 237.5h9M898.5 233v9M894 233l9 9M903 233l-9 9M894 256.5h9M898.5 252v9M894 252l9 9M903 252l-9 9M894 257.5h9M898.5 253v9M894 253l9 9M903 253l-9 9M894 258.5h9M898.5 254v9M894 254l9 9M903 254l-9 9M894 259.5h9M898.5 255v9M894 255l9 9M903 255l-9 9M894 260.5h9M898.5 256v9M894 256l9 9M903 256l-9 9M894 261.5h9M898.5 257v9M894 257l9 9M903 257l-9 9M894 262.5h9M898.5 258v9M894 258l9 9M903 258l-9 9M894 263.5h9M898.5 259v9M894 259l9 9M903 259l-9 9M894 264.5h9M898.5 260v9M894 260l9 9M903 260l-9 9M897 247.5h9M901.5 243v9M897 243l9 9M906 243l-9 9M897 251.5h9M901.5 247v9M897 247l9 9M906 247l-9 9M897 255.5h9M901.5 251v9M897 251l9 9M906 251l-9 9M899 249.5h9M903.5 245v9M899 245l9 9M908 245l-9 9M899 253.5h9M903.5 249v9M899 249l9 9M908 249l-9 9M899 255.5h9M903.5 251v9M899 251l9 9M908 251l-9 9M900 237.5h9M904.5 233v9M900 233l9 9M909 233l-9 9M900 247.5h9M904.5 243v9M900 243l9 9M909 243l-9 9M900 248.5h9M904.5 244v9M900 244l9 9M909 244l-9 9M900 251.5h9M904.5 247v9M900 247l9 9M909 247l-9 9M900 255.5h9M904.5 251v9M900 251l9 9M909 251l-9 9M953 237.5h9M957.5 233v9M953 233l9 9M962 233l-9 9M954 237.5h9M958.5 233v9M954 233l9 9M963 233l-9 9M955 237.5h9M959.5 233v9M955 233l9 9M964 233l-9 9M956 237.5h9M960.5 233v9M956 233l9 9M965 233l-9 9M957 237.5h9M961.5 233v9M957 233l9 9M966 233l-9 9M958 237.5h9M962.5 233v9M958 233l9 9M967 233l-9 9M959 237.5h9M963.5 233v9M959 233l9 9M968 233l-9 9M960 237.5h9M964.5 233v9M960 233l9 9M969 233l-9 9M961 237.5h9M965.5 233v9M961 233l9 9M970 233l-9 9M962 237.5h9M966.5 233v9M962 233l9 9M971 233l-9 9M963 237.5h9M967.5 233v9M963 233l9 9M972 233l-9 9M964 237.5h9M968.5 233v9M964 233l9 9M973 233l-9 9M965 237.5h9M969.5 233v9M965 233l9 9M974 233l-9 9M966 237.5h9M970.5 233v9M966 233l9 9M975 233l-9 9M967 237.5h9M971.5 233v9M967 233l9 9M976 233l-9 9M968 237.5h9M972.5 233v9M968 233l9 9M977 233l-9 9M969 237.5h9M973.5 233v9M969 233l9 9M978 233l-9 9M970 237.5h9M974.5 233v9M970 233l9 9M979 233l-9 9M971 237.5h9M975.5 233v9M971 233l9 9M980 233l-9 9M972 237.5h9M976.5 233v9M972 233l9 9M981 233l-9 9"/>
<path clip-path="url(#c3)" stroke="#000" d="M76 866.5h9M80.5 862v9M76 862l9 9M85 862l-9 9M76 872.5h9M80.5 868v9M76 868l9 9M85 868l-9 9M76 878.5h9M80.5 874v9M76 874l9 9M85 874l-9 9M76 884.5h9M80.5 880v9M76 880l9 9M85 880l-9 9M76 897.5h9M80.5 893v9M76 893l9 9M85 893l-9 9M76 903.5h9M80.5 899v9M76 899l9 9M85 899l-9 9M76 908.5h9M80.5 904v9M76 904l9 9M85 904l-9 9M76 910.5h9M80.5 906v9M76 906l9 9M85 906l-9 9M76 911.5h9M80.5 907v9M76 907l9 9M85 907l-9 9M76 913.5h9M80.5 909v9M76 909l9 9M85 909l-9 9M76 915.5h9M80.5 911v9M76 911l9 9M85 911l-9 9M76 917.5h9M80.5 913v9M76 913l9 9M85 913l-9 9M76 919.5h9M80.5 915v9M76 915l9 9M85 915l-9 9M76 921.5h9M80.5 917v9M76 917l9 9M85 917l-9 9M76 923.5h9M80.5 919v9M76 919l9 9M85 919l-9 9M76 925.5h9M80.5 921v9M76 921l9 9M85 921l-9 9M77 910.5h9M81.5 906v9M77 906l9 9M86 906l-9 9M77 912.5h9M81.5 908v9M77 908l9 9M86 908l-9 9M77 914.5h9M81.5 910v9M77 910l9 9M86 910l-9 9M77 916.5h9M81.5 912v9M77 912l9 9M86 912l-9 9M77 918.5h9M81.5 914v9M77 914l9 9M86 914l-9 9M77 920.5h9M81.5 916v9M77 916l9 9M86 916l-9 9M77 922.5h9M81.5 918v9M77 918l9 9M86 918l-9 9M77 924.5h9M81.5 920v9M77 920l9 9M86 920l-9 9M77 926.5h9M81.5 922v9M77 922l9 9M86 922l-9 9M79 909.5h9M83.5 905v9M79 905l9 9M88 905l-9 9M79 911.5h9M83.5 907v9M79 907l9 9M88 907l-9 9M79 913.5h9M83.5 909v9M79 909l9 9M88 909l-9 9M79 915.5h9M83.5 911v9M79 911l9 9M88 911l-9 9M79 917.5h9M83.5 913v9M79 913l9 9M88 913l-9 9M79 919.5h9M83.5 915v9M79 915l9 9M88 915l-9 9M79 921.5h9M83.5 917v9M79 917l9 9M88 917l-9 9M79 923.5h9M83.5 919v9M79 919l9 9M88 919l-9 9M79 925.5h9M83.5 921v9M79 921l9 9M88 921l-9 9M80 848.5h9M84.5 844v9M80 844l9 9M89 844l-9 9M80 853.5h9M84.5 849v9M80 849l9 9M89 849l-9 9M80 858.5h9M84.5 854v9M80 854l9 9M89 854l-9 9M80 863.5h9M84.5 859v9M80 859l9 9M89 859l-9 9M82 826.5h9M86.5 822v9M82 822l9 9M91 822l-9 9M82 829.5h9M86.5 825v9M82 825l9 9M91 825l-9 9M82 832.5h9M86.5 828v9M82 828l9 9M91 828l-9 9M82 835.5h9M86.5 831v9M82 831l9 9M91 831l-9 9M82 838.5h9M86.5 834v9M82 834l9 9M91 834l-9 9M82 841.5h9M86.5 837v9M82 837l9 9M91 837l-9 9M82 905.5h9M86.5 901v9M82 901l9 9M91 901l-9 9M82 911.5h9M86.5 907v9M82 907l9 9M91 907l-9 9M82 917.5h9M86.5 913v9M82 913l9 9M91 913l-9 9M85 848.5h9M89.5 844v9M85 844l9 9M94 844l-9 9M85 853.5h9M89.5 849v9M85 849l9 9M94 849l-9 9M85 858.5h9M89.5 854v9M85 854l9 9M94 854l-9 9M85 862.5h9M89.5 858v9M85 858l9 9M94 858l-9 9M85 863.5h9M89.5 859v9M85 859l9 9M94 859l-9 9M85 866.5h9M89.5 862v9M85 862l9 9M94 862l-9 9M85 870.5h9M89.5 866v9M85 866l9 9M94 866l-9 9M85 874.5h9M89.5 870v9M85 870l9 9M94 870l-9 9M85 878.5h9M89.5 874v9M85 874l9 9M94 874l-9 9M85 882.5h9M89.5 878v9M85 878l9 9M94 878l-9 9M86 891.5h9M90.5 887v9M86 887l9 9M95 887l-9 9M86 892.5h9M90.5 888v9M86 888l9 9M95 888l-9 9M86 893.5h9M90.5 889v9M86 889l9 9M95 889l-9 9M86 894.5h9M90.5 890v9M86 890l9 9M95 890l-9 9M86 895.5h9M90.5 891v9M86 891l9 9M95 891l-9 9M86 896.5h9M90.5 892v9M86 892l9 9M95 892l-9 9M86 897.5h9M90.5 893v9M86 893l9 9M95 893l-9 9M86 898.5h9M90.5 894v9M86 894l9 9M95 894l-9 9M87 864.5h9M91.5 860v9M87 860l9 9M96 860l-9 9M87 868.5h9M91.5 864v9M87 864l9 9M96 864l-9 9M87 872.5h9M91.5 868v9M87 868l9 9M96 868l-9 9M87 876.5h9M91.5 872v9M87 872l9 9M96 872l-9 9M87 880.5h9M91.5 876v9M87 876l9 9M96 876l-9 9M87 882.5h9M91.5 878v9M87 878l9 9M96 878l-9 9M89 862.5h9M93.5 858v9M89 858l9 9M98 858l-9 9M89 866.5h9M93.5 862v9M89 862l9 9M98 862l-9 9M89 870.5h9M93.5 866v9M89 866l9 9M98 866l-9 9M89 874.5h9M93.5 870v9M89 870l9 9M98 870l-9 9M89 878.5h9M93.5 874v9M89 874l9 9M98 874l-9 9M89 882.5h9M93.5 878v9M89 878l9 9M98 878l-9 9M91 848.5h9M95.5 844v9M91 844l9 9M100 844l-9 9M91 852.5h9M95.5 848v9M91 848l9 9M100 848l-9 9M91 856.5h9M95.5 852v9M91 852l9 9M100 852l-9 9M91 858.5h9M95.5 854v9M91 854l9 9M100 854l-9 9M91 862.5h9M95.5 858v9M91 858l9 9M100 858l-9 9M91 864.5h9M95.5 860v9M91 860l9 9M100 860l-9 9M91 866.5h9M95.5 862v9M91 862l9 9M100 862l-9 9M91 868.5h9M95.5 864v9M91 864l9 9M100 864l-9 9M91 870.5h9M95.5 866v9M91 866l9 9M100 866l-9 9M91 872.5h9M95.5 868v9M91 868l9 9M100 868l-9 9M91 874.5h9M95.5 870v9M91 870l9 9M100 870l-9 9M91 876.5h9M95.5 872v9M91 872l9 9M100 872l-9 9M91 878.5h9M95.5 874v9M91 874l9 9M100 874l-9 9M91 880.5h9M95.5 876v9M91 876l9 9M100 876l-9 9M91 882.5h9M95.5 878v9M91 878l9 9M100 878l-9 9M91 883.5h9M95.5 879v9M91 879l9 9M100 879l-9 9M93 850.5h9M97.5 846v9M93 846l9 9M102 846l-9 9M93 854.5h9M97.5 850v9M93 850l9 9M102 850l-9 9M93 858.5h9M97.5 854v9M93 854l9 9M102 854l-9 9M94 835.5h9M98.5 831v9M94 831l9 9M103 831l-9 9M94 841.5h9M98.5 837v9M94 837l9 9M103 837l-9 9M94 849.5h9M98.5 845v9M94 845l9 9M103 845l-9 9M94 852.5h9M98.5 848v9M94 848l9 9M103 848l-9 9M94 856.5h9M98.5 852v9M94 852l9 9M103 852l-9 9M94 859.5h9M98.5 855v9M94 855l9 9M103 855l-9 9M94 901.5h9M98.5 897v9M94 897l9 9M103 897l-9 9M96 903.5h9M100.5 899v9M96 899l9 9M105 899l-9 9M97 901.5h9M101.5 897v9M97 897l9 9M106 897l-9 9M97 908.5h9M101.5 904v9M97 904l9 9M106 904l-9 9M97 911.5h9M101.5 907v9M97 907l9 9M106 907l-9 9M97 914.5h9M101.5 910v9M97 910l9 9M106 910l-9 9M99 909.5h9M103.5 905v9M99 905l9 9M108 905l-9 9M99 913.5h9M103.5 909v9M99 909l9 9M108 909l-9 9M100 830.5h9M104.5 826v9M100 826l9 9M109 826l-9 9M100 865.5h9M104.5 861v9M100 861l9 9M109 861l-9 9M100 868.5h9M104.5 864v9M100 864l9 9M109 864l-9 9M100 872.5h9M104.5 868v9M100 868l9 9M109 868l-9 9M100 876.5h9M104.5 872v9M100 872l9 9M109 872l-9 9M100 879.5h9M104.5 875v9M100 875l9 9M109 875l-9 9M100 907.5h9M104.5 903v9M100 903l9 9M109 903l-9 9M100 911.5h9M104.5 907v9M100 907l9 9M109 907l-9 9M100 914.5h9M104.5 910v9M100 910l9 9M109 910l-9 9M100 921.5h9M104.5 917v9M100 917l9 9M109 917l-9 9M102 866.5h9M106.5 862v9M102 862l9 9M111 862l-9 9M102 870.5h9M106.5 866v9M102 866l9 9M111 866l-9 9M102 874.5h9M106.5 870v9M102 870l9 9M111 870l-9 9M102 878.5h9M106.5 874v9M102 874l9 9M111 874l-9 9M104 864.5h9M108.5 860v9M104 860l9 9M113 860l-9 9M104 868.5h9M108.5 864v9M104 864l9 9M113 864l-9 9M104 872.5h9M108.5 868v9M104 868l9 9M113 868l-9 9M104 876.5h9M108.5 872v9M104 872l9 9M113 872l-9 9M104 879.5h9M108.5 875v9M104 875l9 9M113 875l-9 9M106 866.5h9M110.5 862v9M106 862l9 9M115 862l-9 9M106 870.5h9M110.5 866v9M106 866l9 9M115 866l-9 9M106 874.5h9M110.5 870v9M106 870l9 9M115 870l-9 9M106 878.5h9M110.5 874v9M106 874l9 9M115 874l-9 9M106 886.5h9M110.5 882v9M106 882l9 9M115 882l-9 9M106 887.5h9M110.5 883v9M106 883l9 9M115 883l-9 9M107 886.5h9M111.5 882v9M107 882l9 9M116 882l-9 9M107 887.5h9M111.5 883v9M107 883l9 9M116 883l-9 9M108 864.5h9M112.5 860v9M108 860l9 9M117 860l-9 9M108 868.5h9M112.5 864v9M108 864l9 9M117 864l-9 9M108 872.5h9M112.5 868v9M108 868l9 9M117 868l-9 9M108 876.5h9M112.5 872v9M108 872l9 9M117 872l-9 9M108 879.5h9M112.5 875v9M108 875l9 9M117 875l-9 9M108 886.5h9M112.5 882v9M108 882l9 9M117 882l-9 9M108 887.5h9M112.5 883v9M108 883l9 9M117 883l-9 9M109 886.5h9M113.5 882v9M109 882l9 9M118 882l-9 9M109 887.5h9M113.5 883v9M109 883l9 9M118 883l-9 9M110 866.5h9M114.5 862v9M110 862l9 9M119 862l-9 9M110 870.5h9M114.5 866v9M110 866l9 9M119 866l-9 9M110 874.5h9M114.5 870v9M110 870l9 9M119 870l-9 9M110 878.5h9M114.5 874v9M110 874l9 9M119 874l-9 9M110 886.5h9M114.5 882v9M110 882l9 9M119 882l-9 9M110 887.5h9M114.5 883v9M110 883l9 9M119 883l-9 9M111 886.5h9M115.5 882v9M111 882l9 9M120 882l-9 9M111 887.5h9M115.5 883v9M111 883l9 9M120 883l-9 9M112 864.5h9M116.5 860v9M112 860l9 9M121 860l-9 9M112 868.5h9M116.5 864v9M112 864l9 9M121 864l-9 9M112 872.5h9M116.5 868v9M112 868l9 9M121 868l-9 9M112 876.5h9M116.5 872v9M112 872l9 9M121 872l-9 9M112 878.5h9M116.5 874v9M112 874l9 9M121 874l-9 9M112 886.5h9M116.5 882v9M112 882l9 9M121 882l-9 9M112 887.5h9M116.5 883v9M112 883l9 9M121 883l-9 9M113 886.5h9M117.5 882v9M113 882l9 9M122 882l-9 9M113 887.5h9M117.5 883v9M113 883l9 9M122 883l-9 9M114 866.5h9M118.5 862v9M114 862l9 9M123 862l-9 9M114 870.5h9M118.5 866v9M114 866l9 9M123 866l-9 9M114 874.5h9M118.5 870v9M114 870l9 9M123 870l-9 9M114 878.5h9M118.5 874v9M114 874l9 9M123 874l-9 9M116 846.5h9M120.5 842v9M116 842l9 9M125 842l-9 9M116 848.5h9M120.5 844v9M116 844l9 9M125 844l-9 9M116 851.5h9M120.5 847v9M116 847l9 9M125 847l-9 9M116 856.5h9M120.5 852v9M116 852l9 9M125 852l-9 9M116 861.5h9M120.5 857v9M116 857l9 9M125 857l-9 9M116 864.5h9M120.5 860v9M116 860l9 9M125 860l-9 9M116 868.5h9M120.5 864v9M116 864l9 9M125 864l-9 9M116 872.5h9M120.5 868v9M116 868l9 9M125 868l-9 9M116 876.5h9M120.5 872v9M116 872l9 9M125 872l-9 9M116 879.5h9M120.5 875v9M116 875l9 9M125 875l-9 9M118 847.5h9M122.5 843v9M118 843l9 9M127 843l-9 9M120 845.5h9M124.5 841v9M120 841l9 9M129 841l-9 9M120 848.5h9M124.5 844v9M120 844l9 9M129 844l-9 9M122 847.5h9M126.5 843v9M122 843l9 9M131 843l-9 9M124 845.5h9M128.5 841v9M124 841l9 9M133 841l-9 9M124 849.5h9M128.5 845v9M124 845l9 9M133 845l-9 9M126 847.5h9M130.5 843v9M126 843l9 9M135 843l-9 9M127 828.5h9M131.5 824v9M127 824l9 9M136 824l-9 9M127 831.5h9M131.5 827v9M127 827l9 9M136 827l-9 9M127 835.5h9M131.5 831v9M127 831l9 9M136 831l-9 9M127 839.5h9M131.5 835v9M127 835l9 9M136 835l-9 9M127 843.5h9M131.5 839v9M127 839l9 9M136 839l-9 9M127 845.5h9M131.5 841v9M127 841l9 9M136 841l-9 9M127 849.5h9M131.5 845v9M127 845l9 9M136 845l-9 9M129 829.5h9M133.5 825v9M129 825l9 9M138 825l-9 9M129 833.5h9M133.5 829v9M129 829l9 9M138 829l-9 9M129 837.5h9M133.5 833v9M129 833l9 9M138 833l-9 9M129 841.5h9M133.5 837v9M129 837l9 9M138 837l-9 9M131 827.5h9M135.5 823v9M131 823l9 9M140 823l-9 9M131 831.5h9M135.5 827v9M131 827l9 9M140 827l-9 9M131 835.5h9M135.5 831v9M131 831l9 9M140 831l-9 9M131 839.5h9M135.5 835v9M131 835l9 9M140 835l-9 9M131 842.5h9M135.5 838v9M131 838l9 9M140 838l-9 9M133 829.5h9M137.5 825v9M133 825l9 9M142 825l-9 9M133 833.5h9M137.5 829v9M133 829l9 9M142 829l-9 9M133 837.5h9M137.5 833v9M133 833l9 9M142 833l-9 9M133 841.5h9M137.5 837v9M133 837l9 9M142 837l-9 9M135 827.5h9M139.5 823v9M135 823l9 9M144 823l-9 9M135 831.5h9M139.5 827v9M135 827l9 9M144 827l-9 9M135 835.5h9M139.5 831v9M135 831l9 9M144 831l-9 9M135 839.5h9M139.5 835v9M135 835l9 9M144 835l-9 9M135 843.5h9M139.5 839v9M135 839l9 9M144 839l-9 9M137 829.5h9M141.5 825v9M137 825l9 9M146 825l-9 9M137 833.5h9M141.5 829v9M137 829l9 9M146 829l-9 9M137 837.5h9M141.5 833v9M137 833l9 9M146 833l-9 9M137 841.5h9M141.5 837v9M137 837l9 9M146 837l-9 9M139 828.5h9M143.5 824v9M139 824l9 9M148 824l-9 9M139 831.5h9M143.5 827v9M139 827l9 9M148 827l-9 9M139 835.5h9M143.5 831v9M139 831l9 9M148 831l-9 9M139 839.5h9M143.5 835v9M139 835l9 9M148 835l-9 9M139 843.5h9M143.5 839v9M139 839l9 9M148 839l-9 9M141 829.5h9M145.5 825v9M141 825l9 9M150 825l-9 9M141 833.5h9M145.5 829v9M141 829l9 9M150 829l-9 9M141 837.5h9M145.5 833v9M141 833l9 9M150 833l-9 9M141 841.5h9M145.5 837v9M141 837l9 9M150 837l-9 9M143 827.5h9M147.5 823v9M143 823l9 9M152 823l-9 9M143 831.5h9M147.5 827v9M143 827l9 9M152 827l-9 9M143 835.5h9M147.5 831v9M143 831l9 9M152 831l-9 9M143 839.5h9M147.5 835v9M143 835l9 9M152 835l-9 9M143 843.5h9M147.5 839v9M143 839l9 9M152 839l-9 9M145 829.5h9M149.5 825v9M145 825l9 9M154 825l-9 9M145 833.5h9M149.5 829v9M145 829l9 9M154 829l-9 9M145 837.5h9M149.5 833v9M145 833l9 9M154 833l-9 9M145 841.5h9M149.5 837v9M145 837l9 9M154 837l-9 9M146 827.5h9M150.5 823v9M146 823l9 9M155 823l-9 9M146 831.5h9M150.5 827v9M146 827l9 9M155 827l-9 9M146 835.5h9M150.5 831v9M146 831l9 9M155 831l-9 9M146 839.5h9M150.5 835v9M146 835l9 9M155 835l-9 9M146 843.5h9M150.5 839v9M146 839l9 9M155 839l-9 9M150 831.5h9M154.5 827v9M150 827l9 9M159 827l-9 9M150 834.5h9M154.5 830v9M150 830l9 9M159 830l-9 9M150 838.5h9M154.5 834v9M150 834l9 9M159 834l-9 9M152 832.5h9M156.5 828v9M152 828l9 9M161 828l-9 9M152 836.5h9M156.5 832v9M152 832l9 9M161 832l-9 9M152 840.5h9M156.5 836v9M152 836l9 9M161 836l-9 9M154 830.5h9M158.5 826v9M154 826l9 9M163 826l-9 9M154 834.5h9M158.5 830v9M154 830l9 9M163 830l-9 9M154 838.5h9M158.5 834v9M154 834l9 9M163 834l-9 9M155 833.5h9M159.5 829v9M155 829l9 9M164 829l-9 9M155 837.5h9M159.5 833v9M155 833l9 9M164 833l-9 9M155 841.5h9M159.5 837v9M155 837l9 9M164 837l-9 9M155 845.5h9M159.5 841v9M155 841l9 9M164 841l-9 9M155 849.5h9M159.5 845v9M155 845l9 9M164 845l-9 9M155 852.5h9M159.5 848v9M155 848l9 9M164 848l-9 9M157 827.5h9M161.5 823v9M157 823l9 9M166 823l-9 9M157 835.5h9M161.5 831v9M157 831l9 9M166 831l-9 9M157 839.5h9M161.5 835v9M157 835l9 9M166 835l-9 9M157 843.5h9M161.5 839v9M157 839l9 9M166 839l-9 9M157 847.5h9M161.5 843v9M157 843l9 9M166 843l-9 9M157 851.5h9M161.5 847v9M157 847l9 9M166 847l-9 9M159 832.5h9M163.5 828v9M159 828l9 9M168 828l-9 9M159 833.5h9M163.5 829v9M159 829l9 9M168 829l-9 9M159 834.5h9M163.5 830v9M159 830l9 9M168 830l-9 9M159 835.5h9M163.5 831v9M159 831l9 9M168 831l-9 9M159 836.5h9M163.5 832v9M159 832l9 9M168 832l-9 9M159 837.5h9M163.5 833v9M159 833l9 9M168 833l-9 9M159 838.5h9M163.5 834v9M159 834l9 9M168 834l-9 9M159 839.5h9M163.5 835v9M159 835l9 9M168 835l-9 9M159 840.5h9M163.5 836v9M159 836l9 9M168 836l-9 9M159 841.5h9M163.5 837v9M159 837l9 9M168 837l-9 9M159 842.5h9M163.5 838v9M159 838l9 9M168 838l-9 9M159 843.5h9M163.5 839v9M159 839l9 9M168 839l-9 9M159 844.5h9M163.5 840v9M159 840l9 9M168 840l-9 9M159 845.5h9M163.5 841v9M159 841l9 9M168 841l-9 9M159 846.5h9M163.5 842v9M159 842l9 9M168 842l-9 9M159 847.5h9M163.5 843v9M159 843l9 9M168 843l-9 9M159 848.5h9M163.5 844v9M159 844l9 9M168 844l-9 9M159 849.5h9M163.5 845v9M159 845l9 9M168 845l-9 9M159 850.5h9M163.5 846v9M159 846l9 9M168 846l-9 9M159 851.5h9M163.5 847v9M159 847l9 9M168 847l-9 9M159 852.5h9M163.5 848v9M159 848l9 9M168 848l-9 9M161 824.5h9M165.5 820v9M161 820l9 9M170 820l-9 9M161 832.5h9M165.5 828v9M161 828l9 9M170 828l-9 9M161 833.5h9M165.5 829v9M161 829l9 9M170 829l-9 9M161 834.5h9M165.5 830v9M161 830l9 9M170 830l-9 9M161 835.5h9M165.5 831v9M161 831l9 9M170 831l-9 9M161 836.5h9M165.5 832v9M161 832l9 9M170 832l-9 9M161 837.5h9M165.5 833v9M161 833l9 9M170 833l-9 9M161 838.5h9M165.5 834v9M161 834l9 9M170 834l-9 9M161 839.5h9M165.5 835v9M161 835l9 9M170 835l-9 9M161 840.5h9M165.5 836v9M161 836l9 9M170 836l-9 9M161 841.5h9M165.5 837v9M161 837l9 9M170 837l-9 9M161 842.5h9M165.5 838v9M161 838l9 9M170 838l-9 9M161 843.5h9M165.5 839v9M161 839l9 9M170 839l-9 9M161 844.5h9M165.5 840v9M161 840l9 9M170 840l-9 9M161 845.5h9M165.5 841v9M161 841l9 9M170 841l-9 9M161 846.5h9M165.5 842v9M161 842l9 9M170 842l-9 9M161 847.5h9M165.5 843v9M161 843l9 9M170 843l-9 9M161 848.5h9M165.5 844v9M161 844l9 9M170 844l-9 9M161 849.5h9M165.5 845v9M161 845l9 9M170 845l-9 9M161 850.5h9M165.5 846v9M161 846l9 9M170 846l-9 9M161 851.5h9M165.5 847v9M161 847l9 9M170 847l-9 9M161 852.5h9M165.5 848v9M161 848l9 9M170 848l-9 9M165 811.5h9M169.5 807v9M165 807l9 9M174 807l-9 9M165 815.5h9M169.5 811v9M165 811l9 9M174 811l-9 9M165 819.5h9M169.5 815v9M165 815l9 9M174 815l-9 9M165 823.5h9M169.5 819v9M165 819l9 9M174 819l-9 9M165 827.5h9M169.5 823v9M165 823l9 9M174 823l-9 9M165 831.5h9M169.5 827v9M165 827l9 9M174 827l-9 9M167 813.5h9M171.5 809v9M167 809l9 9M176 809l-9 9M167 817.5h9M171.5 813v9M167 813l9 9M176 813l-9 9M167 821.5h9M171.5 817v9M167 817l9 9M176 817l-9 9M167 825.5h9M171.5 821v9M167 821l9 9M176 821l-9 9M167 829.5h9M171.5 825v9M167 825l9 9M176 825l-9 9M169 812.5h9M173.5 808v9M169 808l9 9M178 808l-9 9M169 815.5h9M173.5 811v9M169 811l9 9M178 811l-9 9M169 819.5h9M173.5 815v9M169 815l9 9M178 815l-9 9M169 823.5h9M173.5 819v9M169 819l9 9M178 819l-9 9M169 827.5h9M173.5 823v9M169 823l9 9M178 823l-9 9M169 831.5h9M173.5 827v9M169 827l9 9M178 827l-9 9M170 810.5h9M174.5 806v9M170 806l9 9M179 806l-9 9M170 811.5h9M174.5 807v9M170 807l9 9M179 807l-9 9M170 812.5h9M174.5 808v9M170 808l9 9M179 808l-9 9M170 813.5h9M174.5 809v9M170 809l9 9M179 809l-9 9M170 814.5h9M174.5 810v9M170 810l9 9M179 810l-9 9M170 815.5h9M174.5 811v9M170 811l9 9M179 811l-9 9M170 816.5h9M174.5 812v9M170 812l9 9M179 812l-9 9M170 817.5h9M174.5 813v9M170 813l9 9M179 813l-9 9M170 818.5h9M174.5 814v9M170 814l9 9M179 814l-9 9M170 819.5h9M174.5 815v9M170 815l9 9M179 815l-9 9M170 820.5h9M174.5 816v9M170 816l9 9M179 816l-9 9M170 821.5h9M174.5 817v9M170 817l9 9M179 817l-9 9M170 822.5h9M174.5 818v9M170 818l9 9M179 818l-9 9M170 823.5h9M174.5 819v9M170 819l9 9M179 819l-9 9M170 824.5h9M174.5 820v9M170 820l9 9M179 820l-9 9M170 825.5h9M174.5 821v9M170 821l9 9M179 821l-9 9M170 826.5h9M174.5 822v9M170 822l9 9M179 822l-9 9M170 827.5h9M174.5 823v9M170 823l9 9M179 823l-9 9M170 828.5h9M174.5 824v9M170 824l9 9M179 824l-9 9M170 829.5h9M174.5 825v9M170 825l9 9M179 825l-9 9M170 830.5h9M174.5 826v9M170 826l9 9M179 826l-9 9M170 831.5h9M174.5 827v9M170 827l9 9M179 827l-9 9M172 810.5h9M176.5 806v9M172 806l9 9M181 806l-9 9M172 811.5h9M176.5 807v9M172 807l9 9M181 807l-9 9M172 812.5h9M176.5 808v9M172 808l9 9M181 808l-9 9M172 813.5h9M176.5 809v9M172 809l9 9M181 809l-9 9M172 814.5h9M176.5 810v9M172 810l9 9M181 810l-9 9M172 815.5h9M176.5 811v9M172 811l9 9M181 811l-9 9M172 816.5h9M176.5 812v9M172 812l9 9M181 812l-9 9M172 817.5h9M176.5 813v9M172 813l9 9M181 813l-9 9M172 818.5h9M176.5 814v9M172 814l9 9M181 814l-9 9M172 819.5h9M176.5 815v9M172 815l9 9M181 815l-9 9M172 820.5h9M176.5 816v9M172 816l9 9M181 816l-9 9M172 821.5h9M176.5 817v9M172 817l9 9M181 817l-9 9M172 822.5h9M176.5 818v9M172 818l9 9M181 818l-9 9M172 823.5h9M176.5 819v9M172 819l9 9M181 819l-9 9M172 824.5h9M176.5 820v9M172 820l9 9M181 820l-9 9M172 825.5h9M176.5 821v9M172 821l9 9M181 821l-9 9M172 826.5h9M176.5 822v9M172 822l9 9M181 822l-9 9M172 827.5h9M176.5 823v9M172 823l9 9M181 823l-9 9M172 828.5h9M176.5 824v9M172 824l9 9M181 824l-9 9M172 829.5h9M176.5 825v9M172 825l9 9M181 825l-9 9M172 830.5h9M176.5 826v9M172 826l9 9M181 826l-9 9M172 831.5h9M176.5 827v9M172 827l9 9M181 827l-9 9M181 803.5h9M185.5 799v9M181 799l9 9M190 799l-9 9M181 804.5h9M185.5 800v9M181 800l9 9M190 800l-9 9M181 805.5h9M185.5 801v9M181 801l9 9M190 801l-9 9M181 806.5h9M185.5 802v9M181 802l9 9M190 802l-9 9M181 807.5h9M185.5 803v9M181 803l9 9M190 803l-9 9M181 808.5h9M185.5 804v9M181 804l9 9M190 804l-9 9M181 809.5h9M185.5 805v9M181 805l9 9M190 805l-9 9M181 810.5h9M185.5 806v9M181 806l9 9M190 806l-9 9M181 811.5h9M185.5 807v9M181 807l9 9M190 807l-9 9M181 812.5h9M185.5 808v9M181 808l9 9M190 808l-9 9M181 813.5h9M185.5 809v9M181 809l9 9M190 809l-9 9M181 814.5h9M185.5 810v9M181 810l9 9M190 810l-9 9M181 815.5h9M185.5 811v9M181 811l9 9M190 811l-9 9M181 816.5h9M185.5 812v9M181 812l9 9M190 812l-9 9M181 817.5h9M185.5 813v9M181 813l9 9M190 813l-9 9M181 818.5h9M185.5 814v9M181 814l9 9M190 814l-9 9M181 819.5h9M185.5 815v9M181 815l9 9M190 815l-9 9M181 820.5h9M185.5 816v9M181 816l9 9M190 816l-9 9M181 821.5h9M185.5 817v9M181 817l9 9M190 817l-9 9M181 822.5h9M185.5 818v9M181 818l9 9M190 818l-9 9M181 823.5h9M185.5 819v9M181 819l9 9M190 819l-9 9M181 824.5h9M185.5 820v9M181 820l9 9M190 820l-9 9M181 825.5h9M185.5 821v9M181 821l9 9M190 821l-9 9M181 826.5h9M185.5 822v9M181 822l9 9M190 822l-9 9M181 827.5h9M185.5 823v9M181 823l9 9M190 823l-9 9M181 828.5h9M185.5 824v9M181 824l9 9M190 824l-9 9M181 829.5h9M185.5 825v9M181 825l9 9M190 825l-9 9M181 830.5h9M185.5 826v9M181 826l9 9M190 826l-9 9M190 796.5h9M194.5 792v9M190 792l9 9M199 792l-9 9M190 800.5h9M194.5 796v9M190 796l9 9M199 796l-9 9M190 804.5h9M194.5 800v9M190 800l9 9M199 800l-9 9M190 808.5h9M194.5 804v9M190 804l9 9M199 804l-9 9M190 812.5h9M194.5 808v9M190 808l9 9M199 808l-9 9M192 798.5h9M196.5 794v9M192 794l9 9M201 794l-9 9M192 802.5h9M196.5 798v9M192 798l9 9M201 798l-9 9M192 806.5h9M196.5 802v9M192 802l9 9M201 802l-9 9M192 810.5h9M196.5 806v9M192 806l9 9M201 806l-9 9M192 813.5h9M196.5 809v9M192 809l9 9M201 809l-9 9M193 796.5h9M197.5 792v9M193 792l9 9M202 792l-9 9M193 800.5h9M197.5 796v9M193 796l9 9M202 796l-9 9M193 804.5h9M197.5 800v9M193 800l9 9M202 800l-9 9M193 808.5h9M197.5 804v9M193 804l9 9M202 804l-9 9M193 812.5h9M197.5 808v9M193 808l9 9M202 808l-9 9M196 806.5h9M200.5 802v9M196 802l9 9M205 802l-9 9M196 807.5h9M200.5 803v9M196 803l9 9M205 803l-9 9M196 808.5h9M200.5 804v9M196 804l9 9M205 804l-9 9M196 809.5h9M200.5 805v9M196 805l9 9M205 805l-9 9M196 810.5h9M200.5 806v9M196 806l9 9M205 806l-9 9M196 811.5h9M200.5 807v9M196 807l9 9M205 807l-9 9M196 812.5h9M200.5 808v9M196 808l9 9M205 808l-9 9M196 813.5h9M200.5 809v9M196 809l9 9M205 809l-9 9M196 814.5h9M200.5 810v9M196 810l9 9M205 810l-9 9M197 823.5h9M201.5 819v9M197 819l9 9M206 819l-9 9M197 827.5h9M201.5 823v9M197 823l9 9M206 823l-9 9M197 831.5h9M201.5 827v9M197 827l9 9M206 827l-9 9M197 835.5h9M201.5 831v9M197 831l9 9M206 831l-9 9M199 825.5h9M203.5 821v9M199 821l9 9M208 821l-9 9M199 829.5h9M203.5 825v9M199 825l9 9M208 825l-9 9M199 833.5h9M203.5 829v9M199 829l9 9M208 829l-9 9M199 836.5h9M203.5 832v9M199 832l9 9M208 832l-9 9M201 823.5h9M205.5 819v9M201 819l9 9M210 819l-9 9M201 827.5h9M205.5 823v9M201 823l9 9M210 823l-9 9M201 831.5h9M205.5 827v9M201 827l9 9M210 827l-9 9M201 835.5h9M205.5 831v9M201 831l9 9M210 831l-9 9M203 823.5h9M207.5 819v9M203 819l9 9M212 819l-9 9M203 826.5h9M207.5 822v9M203 822l9 9M212 822l-9 9M203 830.5h9M207.5 826v9M203 826l9 9M212 826l-9 9M203 834.5h9M207.5 830v9M203 830l9 9M212 830l-9 9M203 838.5h9M207.5 834v9M203 834l9 9M212 834l-9 9M205 824.5h9M209.5 820v9M205 820l9 9M214 820l-9 9M205 828.5h9M209.5 824v9M205 824l9 9M214 824l-9 9M205 832.5h9M209.5 828v9M205 828l9 9M214 828l-9 9M205 836.5h9M209.5 832v9M205 832l9 9M214 832l-9 9M205 840.5h9M209.5 836v9M205 836l9 9M214 836l-9 9M207 822.5h9M211.5 818v9M207 818l9 9M216 818l-9 9M207 826.5h9M211.5 822v9M207 822l9 9M216 822l-9 9M207 830.5h9M211.5 826v9M207 826l9 9M216 826l-9 9M207 834.5h9M211.5 830v9M207 830l9 9M216 830l-9 9M207 838.5h9M211.5 834v9M207 834l9 9M216 834l-9 9M209 824.5h9M213.5 820v9M209 820l9 9M218 820l-9 9M209 828.5h9M213.5 824v9M209 824l9 9M218 824l-9 9M209 832.5h9M213.5 828v9M209 828l9 9M218 828l-9 9M209 836.5h9M213.5 832v9M209 832l9 9M218 832l-9 9M209 840.5h9M213.5 836v9M209 836l9 9M218 836l-9 9M211 822.5h9M215.5 818v9M211 818l9 9M220 818l-9 9M211 826.5h9M215.5 822v9M211 822l9 9M220 822l-9 9M211 830.5h9M215.5 826v9M211 826l9 9M220 826l-9 9M211 834.5h9M215.5 830v9M211 830l9 9M220 830l-9 9M211 838.5h9M215.5 834v9M211 834l9 9M220 834l-9 9M213 824.5h9M217.5 820v9M213 820l9 9M222 820l-9 9M213 828.5h9M217.5 824v9M213 824l9 9M222 824l-9 9M213 832.5h9M217.5 828v9M213 828l9 9M222 828l-9 9M213 836.5h9M217.5 832v9M213 832l9 9M222 832l-9 9M213 840.5h9M217.5 836v9M213 836l9 9M222 836l-9 9M215 823.5h9M219.5 819v9M215 819l9 9M224 819l-9 9M215 826.5h9M219.5 822v9M215 822l9 9M224 822l-9 9M215 830.5h9M219.5 826v9M215 826l9 9M224 826l-9 9M215 834.5h9M219.5 830v9M215 830l9 9M224 830l-9 9M215 838.5h9M219.5 834v9M215 834l9 9M224 834l-9 9M217 824.5h9M221.5 820v9M217 820l9 9M226 820l-9 9M217 828.5h9M221.5 824v9M217 824l9 9M226 824l-9 9M217 832.5h9M221.5 828v9M217 828l9 9M226 828l-9 9M217 836.5h9M221.5 832v9M217 832l9 9M226 832l-9 9M217 840.5h9M221.5 836v9M217 836l9 9M226 836l-9 9M219 822.5h9M223.5 818v9M219 818l9 9M228 818l-9 9M219 826.5h9M223.5 822v9M219 822l9 9M228 822l-9 9M219 830.5h9M223.5 826v9M219 826l9 9M228 826l-9 9M219 834.5h9M223.5 830v9M219 830l9 9M228 830l-9 9M219 838.5h9M223.5 834v9M219 834l9 9M228 834l-9 9M221 824.5h9M225.5 820v9M221 820l9 9M230 820l-9 9M221 828.5h9M225.5 824v9M221 824l9 9M230 824l-9 9M221 832.5h9M225.5 828v9M221 828l9 9M230 828l-9 9M221 836.5h9M225.5 832v9M221 832l9 9M230 832l-9 9M221 839.5h9M225.5 835v9M221 835l9 9M230 835l-9 9M222 822.5h9M226.5 818v9M222 818l9 9M231 818l-9 9M222 826.5h9M226.5 822v9M222 822l9 9M231 822l-9 9M222 830.5h9M226.5 826v9M222 826l9 9M231 826l-9 9M222 834.5h9M226.5 830v9M222 830l9 9M231 830l-9 9M222 838.5h9M226.5 834v9M222 834l9 9M231 834l-9 9M224 797.5h9M228.5 793v9M224 793l9 9M233 793l-9 9M224 800.5h9M228.5 796v9M224 796l9 9M233 796l-9 9M224 804.5h9M228.5 800v9M224 800l9 9M233 800l-9 9M224 808.5h9M228.5 804v9M224 804l9 9M233 804l-9 9M224 812.5h9M228.5 808v9M224 808l9 9M233 808l-9 9M224 816.5h9M228.5 812v9M224 812l9 9M233 812l-9 9M224 820.5h9M228.5 816v9M224 816l9 9M233 816l-9 9M224 824.5h9M228.5 820v9M224 820l9 9M233 820l-9 9M224 828.5h9M228.5 824v9M224 824l9 9M233 824l-9 9M224 832.5h9M228.5 828v9M224 828l9 9M233 828l-9 9M226 798.5h9M230.5 794v9M226 794l9 9M235 794l-9 9M226 802.5h9M230.5 798v9M226 798l9 9M235 798l-9 9M226 806.5h9M230.5 802v9M226 802l9 9M235 802l-9 9M226 810.5h9M230.5 806v9M226 806l9 9M235 806l-9 9M226 814.5h9M230.5 810v9M226 810l9 9M235 810l-9 9M226 818.5h9M230.5 814v9M226 814l9 9M235 814l-9 9M226 822.5h9M230.5 818v9M226 818l9 9M235 818l-9 9M226 826.5h9M230.5 822v9M226 822l9 9M235 822l-9 9M226 830.5h9M230.5 826v9M226 826l9 9M235 826l-9 9M226 834.5h9M230.5 830v9M226 830l9 9M235 830l-9 9M228 796.5h9M232.5 792v9M228 792l9 9M237 792l-9 9M228 800.5h9M232.5 796v9M228 796l9 9M237 796l-9 9M228 804.5h9M232.5 800v9M228 800l9 9M237 800l-9 9M228 808.5h9M232.5 804v9M228 804l9 9M237 804l-9 9M228 812.5h9M232.5 808v9M228 808l9 9M237 808l-9 9M228 816.5h9M232.5 812v9M228 812l9 9M237 812l-9 9M228 820.5h9M232.5 816v9M228 816l9 9M237 816l-9 9M228 824.5h9M232.5 820v9M228 820l9 9M237 820l-9 9M228 828.5h9M232.5 824v9M228 824l9 9M237 824l-9 9M228 832.5h9M232.5 828v9M228 828l9 9M237 828l-9 9M230 815.5h9M234.5 811v9M230 811l9 9M239 811l-9 9M230 816.5h9M234.5 812v9M230 812l9 9M239 812l-9 9M230 817.5h9M234.5 813v9M230 813l9 9M239 813l-9 9M230 818.5h9M234.5 814v9M230 814l9 9M239 814l-9 9M230 819.5h9M234.5 815v9M230 815l9 9M239 815l-9 9M230 820.5h9M234.5 816v9M230 816l9 9M239 816l-9 9M230 821.5h9M234.5 817v9M230 817l9 9M239 817l-9 9M230 822.5h9M234.5 818v9M230 818l9 9M239 818l-9 9M230 823.5h9M234.5 819v9M230 819l9 9M239 819l-9 9M230 824.5h9M234.5 820v9M230 820l9 9M239 820l-9 9M230 825.5h9M234.5 821v9M230 821l9 9M239 821l-9 9M230 826.5h9M234.5 822v9M230 822l9 9M239 822l-9 9M230 827.5h9M234.5 823v9M230 823l9 9M239 823l-9 9M230 828.5h9M234.5 824v9M230 824l9 9M239 824l-9 9M230 829.5h9M234.5 825v9M230 825l9 9M239 825l-9 9M230 830.5h9M234.5 826v9M230 826l9 9M239 826l-9 9M235 824.5h9M239.5 820v9M235 820l9 9M244 820l-9 9M235 825.5h9M239.5 821v9M235 821l9 9M244 821l-9 9M235 826.5h9M239.5 822v9M235 822l9 9M244 822l-9 9M235 827.5h9M239.5 823v9M235 823l9 9M244 823l-9 9M235 828.5h9M239.5 824v9M235 824l9 9M244 824l-9 9M235 829.5h9M239.5 825v9M235 825l9 9M244 825l-9 9M235 830.5h9M239.5 826v9M235 826l9 9M244 826l-9 9M235 831.5h9M239.5 827v9M235 827l9 9M244 827l-9 9M235 832.5h9M239.5 828v9M235 828l9 9M244 828l-9 9M235 833.5h9M239.5 829v9M235 829l9 9M244 829l-9 9M235 834.5h9M239.5 830v9M235 830l9 9M244 830l-9 9M235 835.5h9M239.5 831v9M235 831l9 9M244 831l-9 9M235 836.5h9M239.5 832v9M235 832l9 9M244 832l-9 9M235 837.5h9M239.5 833v9M235 833l9 9M244 833l-9 9M238 846.5h9M242.5 842v9M238 842l9 9M247 842l-9 9M238 850.5h9M242.5 846v9M238 846l9 9M247 846l-9 9M238 854.5h9M242.5 850v9M238 850l9 9M247 850l-9 9M240 848.5h9M244.5 844v9M240 844l9 9M249 844l-9 9M240 852.5h9M244.5 848v9M240 848l9 9M249 848l-9 9M240 856.5h9M244.5 852v9M240 852l9 9M249 852l-9 9M242 847.5h9M246.5 843v9M242 843l9 9M251 843l-9 9M242 850.5h9M246.5 846v9M242 846l9 9M251 846l-9 9M242 854.5h9M246.5 850v9M242 850l9 9M251 850l-9 9M245 818.5h9M249.5 814v9M245 814l9 9M254 814l-9 9M245 822.5h9M249.5 818v9M245 818l9 9M254 818l-9 9M245 826.5h9M249.5 822v9M245 822l9 9M254 822l-9 9M245 830.5h9M249.5 826v9M245 826l9 9M254 826l-9 9M245 834.5h9M249.5 830v9M245 830l9 9M254 830l-9 9M245 838.5h9M249.5 834v9M245 834l9 9M254 834l-9 9M247 820.5h9M251.5 816v9M247 816l9 9M256 816l-9 9M247 824.5h9M251.5 820v9M247 820l9 9M256 820l-9 9M247 828.5h9M251.5 824v9M247 824l9 9M256 824l-9 9M247 832.5h9M251.5 828v9M247 828l9 9M256 828l-9 9M247 836.5h9M251.5 832v9M247 832l9 9M256 832l-9 9M249 819.5h9M253.5 815v9M249 815l9 9M258 815l-9 9M249 822.5h9M253.5 818v9M249 818l9 9M258 818l-9 9M249 826.5h9M253.5 822v9M249 822l9 9M258 822l-9 9M249 830.5h9M253.5 826v9M249 826l9 9M258 826l-9 9M249 834.5h9M253.5 830v9M249 830l9 9M258 830l-9 9M249 837.5h9M253.5 833v9M249 833l9 9M258 833l-9 9M249 951.5h9M253.5 947v9M249 947l9 9M258 947l-9 9M252 951.5h9M256.5 947v9M252 947l9 9M261 947l-9 9M253 822.5h9M257.5 818v9M253 818l9 9M262 818l-9 9M253 826.5h9M257.5 822v9M253 822l9 9M262 822l-9 9M253 830.5h9M257.5 826v9M253 826l9 9M262 826l-9 9M253 834.5h9M257.5 830v9M253 830l9 9M262 830l-9 9M253 838.5h9M257.5 834v9M253 834l9 9M262 834l-9 9M255 824.5h9M259.5 820v9M255 820l9 9M264 820l-9 9M255 828.5h9M259.5 824v9M255 824l9 9M264 824l-9 9M255 832.5h9M259.5 828v9M255 828l9 9M264 828l-9 9M255 836.5h9M259.5 832v9M255 832l9 9M264 832l-9 9M257 822.5h9M261.5 818v9M257 818l9 9M266 818l-9 9M257 826.5h9M261.5 822v9M257 822l9 9M266 822l-9 9M257 830.5h9M261.5 826v9M257 826l9 9M266 826l-9 9M257 834.5h9M261.5 830v9M257 830l9 9M266 830l-9 9M257 838.5h9M261.5 834v9M257 834l9 9M266 834l-9 9M258 885.5h9M262.5 881v9M258 881l9 9M267 881l-9 9M258 948.5h9M262.5 944v9M258 944l9 9M267 944l-9 9M259 824.5h9M263.5 820v9M259 820l9 9M268 820l-9 9M259 828.5h9M263.5 824v9M259 824l9 9M268 824l-9 9M259 832.5h9M263.5 828v9M259 828l9 9M268 828l-9 9M259 836.5h9M263.5 832v9M259 832l9 9M268 832l-9 9M261 822.5h9M265.5 818v9M261 818l9 9M270 818l-9 9M261 826.5h9M265.5 822v9M261 822l9 9M270 822l-9 9M261 830.5h9M265.5 826v9M261 826l9 9M270 826l-9 9M261 834.5h9M265.5 830v9M261 830l9 9M270 830l-9 9M261 838.5h9M265.5 834v9M261 834l9 9M270 834l-9 9M263 828.5h9M267.5 824v9M263 824l9 9M272 824l-9 9M263 832.5h9M267.5 828v9M263 828l9 9M272 828l-9 9M263 836.5h9M267.5 832v9M263 832l9 9M272 832l-9 9M265 812.5h9M269.5 808v9M265 808l9 9M274 808l-9 9M265 815.5h9M269.5 811v9M265 811l9 9M274 811l-9 9M265 819.5h9M269.5 815v9M265 815l9 9M274 815l-9 9M265 823.5h9M269.5 819v9M265 819l9 9M274 819l-9 9M265 826.5h9M269.5 822v9M265 822l9 9M274 822l-9 9M265 830.5h9M269.5 826v9M265 826l9 9M274 826l-9 9M265 834.5h9M269.5 830v9M265 830l9 9M274 830l-9 9M265 838.5h9M269.5 834v9M265 834l9 9M274 834l-9 9M267 813.5h9M271.5 809v9M267 809l9 9M276 809l-9 9M267 817.5h9M271.5 813v9M267 813l9 9M276 813l-9 9M267 821.5h9M271.5 817v9M267 817l9 9M276 817l-9 9M268 798.5h9M272.5 794v9M268 794l9 9M277 794l-9 9M268 799.5h9M272.5 795v9M268 795l9 9M277 795l-9 9M268 800.5h9M272.5 796v9M268 796l9 9M277 796l-9 9M268 801.5h9M272.5 797v9M268 797l9 9M277 797l-9 9M268 802.5h9M272.5 798v9M268 798l9 9M277 798l-9 9M268 803.5h9M272.5 799v9M268 799l9 9M277 799l-9 9M268 804.5h9M272.5 800v9M268 800l9 9M277 800l-9 9M268 805.5h9M272.5 801v9M268 801l9 9M277 801l-9 9M268 806.5h9M272.5 802v9M268 802l9 9M277 802l-9 9M268 807.5h9M272.5 803v9M268 803l9 9M277 803l-9 9M269 812.5h9M273.5 808v9M269 808l9 9M278 808l-9 9M269 815.5h9M273.5 811v9M269 811l9 9M278 811l-9 9M269 819.5h9M273.5 815v9M269 815l9 9M278 815l-9 9M269 822.5h9M273.5 818v9M269 818l9 9M278 818l-9 9M271 813.5h9M275.5 809v9M271 809l9 9M280 809l-9 9M271 817.5h9M275.5 813v9M271 813l9 9M280 813l-9 9M271 821.5h9M275.5 817v9M271 817l9 9M280 817l-9 9M273 811.5h9M277.5 807v9M273 807l9 9M282 807l-9 9M273 815.5h9M277.5 811v9M273 811l9 9M282 811l-9 9M273 819.5h9M277.5 815v9M273 815l9 9M282 815l-9 9M273 823.5h9M277.5 819v9M273 819l9 9M282 819l-9 9M275 812.5h9M279.5 808v9M275 808l9 9M284 808l-9 9M275 813.5h9M279.5 809v9M275 809l9 9M284 809l-9 9M275 815.5h9M279.5 811v9M275 811l9 9M284 811l-9 9M275 817.5h9M279.5 813v9M275 813l9 9M284 813l-9 9M275 819.5h9M279.5 815v9M275 815l9 9M284 815l-9 9M275 821.5h9M279.5 817v9M275 817l9 9M284 817l-9 9M275 823.5h9M279.5 819v9M275 819l9 9M284 819l-9 9M275 830.5h9M279.5 826v9M275 826l9 9M284 826l-9 9M275 835.5h9M279.5 831v9M275 831l9 9M284 831l-9 9M275 863.5h9M279.5 859v9M275 859l9 9M284 859l-9 9M275 891.5h9M279.5 887v9M275 887l9 9M284 887l-9 9M279 895.5h9M283.5 891v9M279 891l9 9M288 891l-9 9M279 896.5h9M283.5 892v9M279 892l9 9M288 892l-9 9M279 897.5h9M283.5 893v9M279 893l9 9M288 893l-9 9M279 898.5h9M283.5 894v9M279 894l9 9M288 894l-9 9M279 899.5h9M283.5 895v9M279 895l9 9M288 895l-9 9M279 900.5h9M283.5 896v9M279 896l9 9M288 896l-9 9M279 901.5h9M283.5 897v9M279 897l9 9M288 897l-9 9M279 927.5h9M283.5 923v9M279 923l9 9M288 923l-9 9M279 931.5h9M283.5 927v9M279 927l9 9M288 927l-9 9M279 935.5h9M283.5 931v9M279 931l9 9M288 931l-9 9M281 929.5h9M285.5 925v9M281 925l9 9M290 925l-9 9M281 933.5h9M285.5 929v9M281 929l9 9M290 929l-9 9M281 935.5h9M285.5 931v9M281 931l9 9M290 931l-9 9M283 927.5h9M287.5 923v9M283 923l9 9M292 923l-9 9M283 931.5h9M287.5 927v9M283 927l9 9M292 927l-9 9M283 935.5h9M287.5 931v9M283 931l9 9M292 931l-9 9M288 921.5h9M292.5 917v9M288 917l9 9M297 917l-9 9M288 922.5h9M292.5 918v9M288 918l9 9M297 918l-9 9M288 923.5h9M292.5 919v9M288 919l9 9M297 919l-9 9M288 924.5h9M292.5 920v9M288 920l9 9M297 920l-9 9M288 925.5h9M292.5 921v9M288 921l9 9M297 921l-9 9M288 926.5h9M292.5 922v9M288 922l9 9M297 922l-9 9M288 927.5h9M292.5 923v9M288 923l9 9M297 923l-9 9M288 928.5h9M292.5 924v9M288 924l9 9M297 924l-9 9M288 929.5h9M292.5 925v9M288 925l9 9M297 925l-9 9M293 937.5h9M297.5 933v9M293 933l9 9M302 933l-9 9M293 938.5h9M297.5 934v9M293 934l9 9M302 934l-9 9M293 939.5h9M297.5 935v9M293 935l9 9M302 935l-9 9M294 923.5h9M298.5 919v9M294 919l9 9M303 919l-9 9M294 924.5h9M298.5 920v9M294 920l9 9M303 920l-9 9M294 925.5h9M298.5 921v9M294 921l9 9M303 921l-9 9M298 939.5h9M302.5 935v9M298 935l9 9M307 935l-9 9M298 941.5h9M302.5 937v9M298 937l9 9M307 937l-9 9M300 940.5h9M304.5 936v9M300 936l9 9M309 936l-9 9M301 938.5h9M305.5 934v9M301 934l9 9M310 934l-9 9M301 942.5h9M305.5 938v9M301 938l9 9M310 938l-9 9M307 942.5h9M311.5 938v9M307 938l9 9M316 938l-9 9M307 943.5h9M311.5 939v9M307 939l9 9M316 939l-9 9M307 944.5h9M311.5 940v9M307 940l9 9M316 940l-9 9M307 945.5h9M311.5 941v9M307 941l9 9M316 941l-9 9M307 946.5h9M311.5 942v9M307 942l9 9M316 942l-9 9M307 947.5h9M311.5 943v9M307 943l9 9M316 943l-9 9M307 948.5h9M311.5 944v9M307 944l9 9M316 944l-9 9M307 949.5h9M311.5 945v9M307 945l9 9M316 945l-9 9M307 950.5h9M311.5 946v9M307 946l9 9M316 946l-9 9M307 951.5h9M311.5 947v9M307 947l9 9M316 947l-9 9M320 948.5h9M324.5 944v9M320 944l9 9M329 944l-9 9M321 946.5h9M325.5 942v9M321 942l9 9M330 942l-9 9M321 947.5h9M325.5 943v9M321 943l9 9M330 943l-9 9M333 949.5h9M337.5 945v9M333 945l9 9M342 945l-9 9M335 950.5h9M339.5 946v9M335 946l9 9M344 946l-9 9M337 949.5h9M341.5 945v9M337 945l9 9M346 945l-9 9M339 951.5h9M343.5 947v9M339 947l9 9M348 947l-9 9M340 948.5h9M344.5 944v9M340 944l9 9M349 944l-9 9M340 950.5h9M344.5 946v9M340 946l9 9M349 946l-9 9M340 951.5h9M344.5 947v9M340 947l9 9M349 947l-9 9M342 950.5h9M346.5 946v9M342 946l9 9M351 946l-9 9M344 948.5h9M348.5 944v9M344 944l9 9M353 944l-9 9M344 951.5h9M348.5 947v9M344 947l9 9M353 947l-9 9M346 950.5h9M350.5 946v9M346 946l9 9M355 946l-9 9M348 942.5h9M352.5 938v9M348 938l9 9M357 938l-9 9M348 945.5h9M352.5 941v9M348 941l9 9M357 941l-9 9M348 948.5h9M352.5 944v9M348 944l9 9M357 944l-9 9M348 949.5h9M352.5 945v9M348 945l9 9M357 945l-9 9M348 951.5h9M352.5 947v9M348 947l9 9M357 947l-9 9M350 943.5h9M354.5 939v9M350 939l9 9M359 939l-9 9M350 947.5h9M354.5 943v9M350 943l9 9M359 943l-9 9M350 951.5h9M354.5 947v9M350 947l9 9M359 947l-9 9M352 942.5h9M356.5 938v9M352 938l9 9M361 938l-9 9M352 945.5h9M356.5 941v9M352 941l9 9M361 941l-9 9M352 949.5h9M356.5 945v9M352 945l9 9M361 945l-9 9M354 943.5h9M358.5 939v9M354 939l9 9M363 939l-9 9M354 947.5h9M358.5 943v9M354 943l9 9M363 943l-9 9M354 951.5h9M358.5 947v9M354 947l9 9M363 947l-9 9M356 941.5h9M360.5 937v9M356 937l9 9M365 937l-9 9M356 945.5h9M360.5 941v9M356 941l9 9M365 941l-9 9M356 949.5h9M360.5 945v9M356 945l9 9M365 945l-9 9M358 943.5h9M362.5 939v9M358 939l9 9M367 939l-9 9M358 947.5h9M362.5 943v9M358 943l9 9M367 943l-9 9M358 951.5h9M362.5 947v9M358 947l9 9M367 947l-9 9M360 941.5h9M364.5 937v9M360 937l9 9M369 937l-9 9M360 945.5h9M364.5 941v9M360 941l9 9M369 941l-9 9M360 949.5h9M364.5 945v9M360 945l9 9M369 945l-9 9M361 939.5h9M365.5 935v9M361 935l9 9M370 935l-9 9M361 943.5h9M365.5 939v9M361 939l9 9M370 939l-9 9M361 947.5h9M365.5 943v9M361 943l9 9M370 943l-9 9M361 951.5h9M365.5 947v9M361 947l9 9M370 947l-9 9M363 941.5h9M367.5 937v9M363 937l9 9M372 937l-9 9M363 945.5h9M367.5 941v9M363 941l9 9M372 941l-9 9M363 949.5h9M367.5 945v9M363 945l9 9M372 945l-9 9M365 939.5h9M369.5 935v9M365 935l9 9M374 935l-9 9M365 943.5h9M369.5 939v9M365 939l9 9M374 939l-9 9M365 947.5h9M369.5 943v9M365 943l9 9M374 943l-9 9M365 951.5h9M369.5 947v9M365 947l9 9M374 947l-9 9M367 941.5h9M371.5 937v9M367 937l9 9M376 937l-9 9M367 945.5h9M371.5 941v9M367 941l9 9M376 941l-9 9M367 949.5h9M371.5 945v9M367 945l9 9M376 945l-9 9M369 934.5h9M373.5 930v9M369 930l9 9M378 930l-9 9M369 937.5h9M373.5 933v9M369 933l9 9M378 933l-9 9M369 939.5h9M373.5 935v9M369 935l9 9M378 935l-9 9M369 941.5h9M373.5 937v9M369 937l9 9M378 937l-9 9M369 943.5h9M373.5 939v9M369 939l9 9M378 939l-9 9M369 945.5h9M373.5 941v9M369 941l9 9M378 941l-9 9M369 947.5h9M373.5 943v9M369 943l9 9M378 943l-9 9M369 949.5h9M373.5 945v9M369 945l9 9M378 945l-9 9M369 951.5h9M373.5 947v9M369 947l9 9M378 947l-9 9M371 935.5h9M375.5 931v9M371 931l9 9M380 931l-9 9M371 939.5h9M375.5 935v9M371 935l9 9M380 935l-9 9M371 943.5h9M375.5 939v9M371 939l9 9M380 939l-9 9M371 947.5h9M375.5 943v9M371 943l9 9M380 943l-9 9M371 951.5h9M375.5 947v9M371 947l9 9M380 947l-9 9M372 933.5h9M376.5 929v9M372 929l9 9M381 929l-9 9M372 937.5h9M376.5 933v9M372 933l9 9M381 933l-9 9M372 941.5h9M376.5 937v9M372 937l9 9M381 937l-9 9M372 945.5h9M376.5 941v9M372 941l9 9M381 941l-9 9M372 949.5h9M376.5 945v9M372 945l9 9M381 945l-9 9M374 939.5h9M378.5 935v9M374 935l9 9M383 935l-9 9M374 943.5h9M378.5 939v9M374 939l9 9M383 939l-9 9M374 947.5h9M378.5 943v9M374 943l9 9M383 943l-9 9M374 951.5h9M378.5 947v9M374 947l9 9M383 947l-9 9M376 937.5h9M380.5 933v9M376 933l9 9M385 933l-9 9M376 941.5h9M380.5 937v9M376 937l9 9M385 937l-9 9M376 942.5h9M380.5 938v9M376 938l9 9M385 938l-9 9M376 945.5h9M380.5 941v9M376 941l9 9M385 941l-9 9M376 946.5h9M380.5 942v9M376 942l9 9M385 942l-9 9M376 949.5h9M380.5 945v9M376 945l9 9M385 945l-9 9M376 950.5h9M380.5 946v9M376 946l9 9M385 946l-9 9M378 944.5h9M382.5 940v9M378 940l9 9M387 940l-9 9M378 948.5h9M382.5 944v9M378 944l9 9M387 944l-9 9M378 951.5h9M382.5 947v9M378 947l9 9M387 947l-9 9M380 942.5h9M384.5 938v9M380 938l9 9M389 938l-9 9M380 946.5h9M384.5 942v9M380 942l9 9M389 942l-9 9M380 950.5h9M384.5 946v9M380 946l9 9M389 946l-9 9M382 944.5h9M386.5 940v9M382 940l9 9M391 940l-9 9M382 948.5h9M386.5 944v9M382 944l9 9M391 944l-9 9M382 951.5h9M386.5 947v9M382 947l9 9M391 947l-9 9M384 942.5h9M388.5 938v9M384 938l9 9M393 938l-9 9M384 946.5h9M388.5 942v9M384 942l9 9M393 942l-9 9M384 950.5h9M388.5 946v9M384 946l9 9M393 946l-9 9M386 944.5h9M390.5 940v9M386 940l9 9M395 940l-9 9M386 948.5h9M390.5 944v9M386 944l9 9M395 944l-9 9M386 951.5h9M390.5 947v9M386 947l9 9M395 947l-9 9M388 942.5h9M392.5 938v9M388 938l9 9M397 938l-9 9M388 946.5h9M392.5 942v9M388 942l9 9M397 942l-9 9M388 950.5h9M392.5 946v9M388 946l9 9M397 946l-9 9M390 942.5h9M394.5 938v9M390 938l9 9M399 938l-9 9M390 944.5h9M394.5 940v9M390 940l9 9M399 940l-9 9M390 946.5h9M394.5 942v9M390 942l9 9M399 942l-9 9M390 948.5h9M394.5 944v9M390 944l9 9M399 944l-9 9M390 950.5h9M394.5 946v9M390 946l9 9M399 946l-9 9M392 948.5h9M396.5 944v9M392 944l9 9M401 944l-9 9M392 951.5h9M396.5 947v9M392 947l9 9M401 947l-9 9M394 946.5h9M398.5 942v9M394 942l9 9M403 942l-9 9M394 950.5h9M398.5 946v9M394 946l9 9M403 946l-9 9M396 948.5h9M400.5 944v9M396 944l9 9M405 944l-9 9M396 951.5h9M400.5 947v9M396 947l9 9M405 947l-9 9M398 946.5h9M402.5 942v9M398 942l9 9M407 942l-9 9M398 950.5h9M402.5 946v9M398 946l9 9M407 946l-9 9M400 946.5h9M404.5 942v9M400 942l9 9M409 942l-9 9M400 948.5h9M404.5 944v9M400 944l9 9M409 944l-9 9M400 950.5h9M404.5 946v9M400 946l9 9M409 946l-9 9M400 951.5h9M404.5 947v9M400 947l9 9M409 947l-9 9M453 951.5h9M457.5 947v9M453 947l9 9M462 947l-9 9M454 951.5h9M458.5 947v9M454 947l9 9M463 947l-9 9M455 951.5h9M459.5 947v9M455 947l9 9M464 947l-9 9M456 951.5h9M460.5 947v9M456 947l9 9M465 947l-9 9M457 951.5h9M461.5 947v9M457 947l9 9M466 947l-9 9M458 951.5h9M462.5 947v9M458 947l9 9M467 947l-9 9M459 951.5h9M463.5 947v9M459 947l9 9M468 947l-9 9M460 951.5h9M464.5 947v9M460 947l9 9M469 947l-9 9M461 951.5h9M465.5 947v9M461 947l9 9M470 947l-9 9M462 951.5h9M466.5 947v9M462 947l9 9M471 947l-9 9M463 951.5h9M467.5 947v9M463 947l9 9M472 947l-9 9M464 951.5h9M468.5 947v9M464 947l9 9M473 947l-9 9M465 951.5h9M469.5 947v9M465 947l9 9M474 947l-9 9M466 951.5h9M470.5 947v9M466 947l9 9M475 947l-9 9M467 951.5h9M471.5 947v9M467 947l9 9M476 947l-9 9M468 951.5h9M472.5 947v9M468 947l9 9M477 947l-9 9M469 951.5h9M473.5 947v9M469 947l9 9M478 947l-9 9M470 951.5h9M474.5 947v9M470 947l9 9M479 947l-9 9M471 951.5h9M475.5 947v9M471 947l9 9M480 947l-9 9M472 951.5h9M476.5 947v9M472 947l9 9M481 947l-9 9"/>
<rect x="80" y="308" width="9" height="1" fill="#000"/>
<rect x="90" y="308" width="1" height="1" fill="#000"/>
<rect x="94" y="308" width="2" height="1" fill="#000"/>
<rect x="98" y="308" width="4" height="1" fill="#000"/>
<rect x="104" y="308" width="5" height="1" fill="#000"/>
<rect x="110" y="308" width="1" height="1" fill="#000"/>
<rect x="112" y="308" width="4" height="1" fill="#000"/>
<rect x="117" y="308" width="4" height="1" fill="#000"/>
<rect x="123" y="308" width="1" height="1" fill="#000"/>
<rect x="128" y="308" width="4" height="1" fill="#000"/>
<rect x="134" y="308" width="2" height="1" fill="#000"/>
<rect x="138" y="308" width="5" height="1" fill="#000"/>
<rect x="145" y="308" width="4" height="1" fill="#000"/>
<rect x="151" y="308" width="9" height="1" fill="#000"/>
<rect x="162" y="308" width="4" height="1" fill="#000"/>
<rect x="169" y="308" width="1" height="1" fill="#000"/>
<rect x="173" y="308" width="7" height="1" fill="#000"/>
<rect x="180" y="308" width="1" height="1" fill="#000"/>
<rect x="183" y="308" width="4" height="1" fill="#000"/>
<rect x="190" y="308" width="2" height="1" fill="#000"/>
<rect x="194" y="308" width="4" height="1" fill="#000"/>
<rect x="200" y="308" width="5" height="1" fill="#000"/>
<rect x="207" y="308" width="1" height="1" fill="#000"/>
<rect x="211" y="308" width="5" height="1" fill="#000"/>
<rect x="218" y="308" width="2" height="1" fill="#000"/>
<rect x="220" y="308" width="7" height="1" fill="#000"/>
<rect x="228" y="308" width="2" height="1" fill="#000"/>
<rect x="232" y="308" width="4" height="1" fill="#000"/>
<rect x="239" y="308" width="2" height="1" fill="#000"/>
<rect x="242" y="308" width="5" height="1" fill="#000"/>
<rect x="249" y="308" width="5" height="1" fill="#000"/>
<rect x="256" y="308" width="1" height="1" fill="#000"/>
<rect x="259" y="308" width="7" height="1" fill="#000"/>
<rect x="269" y="308" width="2" height="1" fill="#000"/>
<rect x="272" y="308" width="1" height="1" fill="#000"/>
<rect x="274" y="308" width="3" height="1" fill="#000"/>
<rect x="279" y="308" width="1" height="1" fill="#000"/>
<rect x="280" y="308" width="1" height="1" fill="#000"/>
<rect x="283" y="308" width="7" height="1" fill="#000"/>
<rect x="291" y="308" width="2" height="1" fill="#000"/>
<rect x="294" y="308" width="9" height="1" fill="#000"/>
<rect x="304" y="308" width="4" height="1" fill="#000"/>
<rect x="311" y="308" width="4" height="1" fill="#000"/>
<rect x="320" y="308" width="11" height="1" fill="#000"/>
<rect x="337" y="308" width="1" height="1" fill="#000"/>
<rect x="340" y="308" width="3" height="1" fill="#000"/>
<rect x="346" y="308" width="4" height="1" fill="#000"/>
<rect x="352" y="308" width="5" height="1" fill="#000"/>
<rect x="359" y="308" width="4" height="1" fill="#000"/>
<rect x="365" y="308" width="4" height="1" fill="#000"/>
<rect x="371" y="308" width="1" height="1" fill="#000"/>
<rect x="373" y="308" width="7" height="1" fill="#000"/>
<rect x="380" y="308" width="3" height="1" fill="#000"/>
<rect x="386" y="308" width="4" height="1" fill="#000"/>
<rect x="392" y="308" width="2" height="1" fill="#000"/>
<rect x="396" y="308" width="6" height="1" fill="#000"/>
<rect x="403" y="308" width="8" height="1" fill="#000"/>
<rect x="418" y="308" width="7" height="1" fill="#000"/>
<rect x="432" y="308" width="7" height="1" fill="#000"/>
<rect x="446" y="308" width="7" height="1" fill="#000"/>
<rect x="458" y="308" width="19" height="1" fill="#000"/>
<rect x="80" y="737" width="5" height="1" fill="#000"/>
<rect x="86" y="737" width="5" height="1" fill="#000"/>
<rect x="94" y="737" width="1" height="1" fill="#000"/>
<rect x="98" y="737" width="4" height="1" fill="#000"/>
<rect x="104" y="737" width="4" height="1" fill="#000"/>
<rect x="110" y="737" width="4" height="1" fill="#000"/>
<rect x="117" y="737" width="9" height="1" fill="#000"/>
<rect x="126" y="737" width="3" height="1" fill="#000"/>
<rect x="131" y="737" width="5" height="1" fill="#000"/>
<rect x="138" y="737" width="1" height="1" fill="#000"/>
<rect x="142" y="737" width="5" height="1" fill="#000"/>
<rect x="148" y="737" width="1" height="1" fill="#000"/>
<rect x="150" y="737" width="2" height="1" fill="#000"/>
<rect x="155" y="737" width="5" height="1" fill="#000"/>
<rect x="162" y="737" width="2" height="1" fill="#000"/>
<rect x="165" y="737" width="5" height="1" fill="#000"/>
<rect x="173" y="737" width="1" height="1" fill="#000"/>
<rect x="176" y="737" width="4" height="1" fill="#000"/>
<rect x="180" y="737" width="1" height="1" fill="#000"/>
<rect x="183" y="737" width="4" height="1" fill="#000"/>
<rect x="188" y="737" width="3" height="1" fill="#000"/>
<rect x="194" y="737" width="4" height="1" fill="#000"/>
<rect x="200" y="737" width="3" height="1" fill="#000"/>
<rect x="204" y="737" width="4" height="1" fill="#000"/>
<rect x="211" y="737" width="2" height="1" fill="#000"/>
<rect x="215" y="737" width="4" height="1" fill="#000"/>
<rect x="221" y="737" width="9" height="1" fill="#000"/>
<rect x="231" y="737" width="3" height="1" fill="#000"/>
<rect x="235" y="737" width="1" height="1" fill="#000"/>
<rect x="238" y="737" width="2" height="1" fill="#000"/>
<rect x="242" y="737" width="8" height="1" fill="#000"/>
<rect x="253" y="737" width="17" height="1" fill="#000"/>
<rect x="272" y="737" width="5" height="1" fill="#000"/>
<rect x="278" y="737" width="2" height="1" fill="#000"/>
<rect x="283" y="737" width="4" height="1" fill="#000"/>
<rect x="289" y="737" width="11" height="1" fill="#000"/>
<rect x="302" y="737" width="6" height="1" fill="#000"/>
<rect x="310" y="737" width="2" height="1" fill="#000"/>
<rect x="314" y="737" width="1" height="1" fill="#000"/>
<rect x="317" y="737" width="11" height="1" fill="#000"/>
<rect x="335" y="737" width="3" height="1" fill="#000"/>
<rect x="339" y="737" width="4" height="1" fill="#000"/>
<rect x="346" y="737" width="8" height="1" fill="#000"/>
<rect x="356" y="737" width="4" height="1" fill="#000"/>
<rect x="362" y="737" width="1" height="1" fill="#000"/>
<rect x="364" y="737" width="5" height="1" fill="#000"/>
<rect x="371" y="737" width="6" height="1" fill="#000"/>
<rect x="379" y="737" width="1" height="1" fill="#000"/>
<rect x="380" y="737" width="3" height="1" fill="#000"/>
<rect x="385" y="737" width="2" height="1" fill="#000"/>
<rect x="389" y="737" width="10" height="1" fill="#000"/>
<rect x="401" y="737" width="7" height="1" fill="#000"/>
<rect x="415" y="737" width="7" height="1" fill="#000"/>
<rect x="429" y="737" width="7" height="1" fill="#000"/>
<rect x="443" y="737" width="7" height="1" fill="#000"/>
<rect x="457" y="737" width="20" height="1" fill="#000"/>
<path stroke="#000" stroke-linecap="square" d="M18.5 8.5L17.5 6.5L16.5 5.5L15.5 5.5L13.5 5.5L12.5 5.5L11.5 6.5L10.5 8.5L10.5 9.5L10.5 12.5L10.5 13.5L11.5 14.5L12.5 15.5L13.5 16.5L15.5 16.5L16.5 15.5L17.5 14.5L18.5 13.5M24.5 5.5L23.5 5.5L22.5 6.5L21.5 8.5L21.5 9.5L21.5 12.5L21.5 13.5L22.5 14.5L23.5 15.5L24.5 16.5L26.5 16.5L27.5 15.5L28.5 14.5L29.5 13.5L29.5 12.5L29.5 9.5L29.5 8.5L28.5 6.5L27.5 5.5L26.5 5.5L24.5 5.5M40.5 6.5L39.5 5.5L37.5 5.5L35.5 5.5L34.5 5.5L33.5 6.5L33.5 8.5L33.5 9.5L34.5 9.5L35.5 10.5L38.5 11.5L39.5 11.5L39.5 12.5L40.5 13.5L40.5 14.5L39.5 15.5L37.5 16.5L35.5 16.5L34.5 15.5L33.5 14.5M46.5 5.5L42.5 16.5M46.5 5.5L51.5 16.5M44.5 12.5L49.5 12.5M53.5 5.5L53.5 16.5M53.5 5.5L57.5 5.5L59.5 5.5L60.5 6.5L60.5 8.5L61.5 9.5L61.5 12.5L60.5 13.5L60.5 14.5L59.5 15.5L57.5 16.5L53.5 16.5M67.5 5.5L63.5 16.5M67.5 5.5L71.5 16.5M64.5 12.5L70.5 12.5M85.5 5.5L81.5 16.5M85.5 5.5L89.5 16.5M82.5 12.5L88.5 12.5M92.5 5.5L92.5 16.5M92.5 5.5L99.5 16.5M99.5 5.5L99.5 16.5M106.5 5.5L102.5 16.5M106.5 5.5L110.5 16.5M104.5 12.5L109.5 12.5M113.5 5.5L113.5 16.5M113.5 16.5L120.5 16.5M121.5 5.5L125.5 10.5L125.5 16.5M129.5 5.5L125.5 10.5M139.5 6.5L138.5 5.5L136.5 5.5L134.5 5.5L132.5 5.5L131.5 6.5L131.5 8.5L132.5 9.5L133.5 10.5L136.5 11.5L138.5 11.5L138.5 12.5L139.5 13.5L139.5 14.5L138.5 15.5L136.5 16.5L134.5 16.5L132.5 15.5L131.5 14.5M142.5 5.5L142.5 16.5M153.5 6.5L152.5 5.5L151.5 5.5L149.5 5.5L147.5 5.5L146.5 6.5L146.5 8.5L147.5 9.5L148.5 10.5L151.5 11.5L152.5 11.5L153.5 12.5L153.5 13.5L153.5 14.5L152.5 15.5L151.5 16.5L149.5 16.5L147.5 15.5L146.5 14.5M166.5 8.5L166.5 7.5L166.5 6.5L167.5 5.5L168.5 5.5L170.5 5.5L171.5 5.5L171.5 6.5L172.5 7.5L172.5 8.5L171.5 9.5L170.5 11.5L165.5 16.5L173.5 16.5M179.5 5.5L177.5 5.5L176.5 7.5L176.5 10.5L176.5 11.5L176.5 14.5L177.5 15.5L179.5 16.5L180.5 16.5L182.5 15.5L183.5 14.5L183.5 11.5L183.5 10.5L183.5 7.5L182.5 5.5L180.5 5.5L179.5 5.5M187.5 8.5L187.5 7.5L187.5 6.5L188.5 5.5L189.5 5.5L191.5 5.5L192.5 5.5L193.5 6.5L193.5 7.5L193.5 8.5L193.5 9.5L192.5 11.5L186.5 16.5L194.5 16.5M204.5 6.5L203.5 5.5L202.5 5.5L201.5 5.5L199.5 5.5L198.5 7.5L197.5 10.5L197.5 12.5L198.5 14.5L199.5 15.5L201.5 16.5L203.5 15.5L204.5 14.5L204.5 13.5L204.5 12.5L204.5 11.5L203.5 10.5L201.5 9.5L199.5 10.5L198.5 11.5L197.5 12.5M211.5 5.5L209.5 5.5L208.5 7.5L207.5 10.5L207.5 11.5L208.5 14.5L209.5 15.5L211.5 16.5L212.5 16.5L213.5 15.5L214.5 14.5L215.5 11.5L215.5 10.5L214.5 7.5L213.5 5.5L212.5 5.5L211.5 5.5M220.5 7.5L221.5 6.5L222.5 5.5L222.5 16.5M232.5 5.5L230.5 5.5L229.5 7.5L229.5 10.5L229.5 11.5L229.5 14.5L230.5 15.5L232.5 16.5L233.5 16.5L235.5 15.5L236.5 14.5L236.5 11.5L236.5 10.5L236.5 7.5L235.5 5.5L233.5 5.5L232.5 5.5M247.5 5.5L241.5 16.5M239.5 5.5L247.5 5.5M247.5 17.5L258.5 17.5M259.5 5.5L259.5 16.5M259.5 5.5L264.5 5.5L265.5 5.5L266.5 6.5L266.5 7.5L266.5 8.5L266.5 9.5L265.5 10.5L264.5 10.5M259.5 10.5L264.5 10.5L265.5 11.5L266.5 11.5L266.5 12.5L266.5 14.5L266.5 15.5L265.5 15.5L264.5 16.5L259.5 16.5M270.5 5.5L270.5 16.5M270.5 16.5L276.5 16.5M282.5 5.5L280.5 5.5L279.5 7.5L279.5 10.5L279.5 11.5L279.5 14.5L280.5 15.5L282.5 16.5L283.5 16.5L284.5 15.5L285.5 14.5L286.5 11.5L286.5 10.5L285.5 7.5L284.5 5.5L283.5 5.5L282.5 5.5M286.5 17.5L297.5 17.5M299.5 5.5L304.5 5.5L301.5 9.5L303.5 9.5L304.5 10.5L305.5 12.5L305.5 13.5L304.5 14.5L303.5 15.5L302.5 16.5L300.5 16.5L299.5 15.5L298.5 15.5L298.5 14.5M315.5 6.5L315.5 5.5L313.5 5.5L312.5 5.5L310.5 5.5L309.5 7.5L309.5 10.5L309.5 12.5L309.5 14.5L310.5 15.5L312.5 16.5L314.5 15.5L315.5 14.5L316.5 13.5L316.5 12.5L315.5 11.5L314.5 10.5L312.5 9.5L310.5 10.5L309.5 11.5L309.5 12.5M325.5 5.5L320.5 5.5L319.5 10.5L320.5 9.5L321.5 9.5L323.5 9.5L325.5 9.5L326.5 10.5L326.5 12.5L326.5 13.5L326.5 14.5L325.5 15.5L323.5 16.5L321.5 16.5L320.5 15.5L319.5 15.5L319.5 14.5M337.5 5.5L332.5 16.5M329.5 5.5L337.5 5.5M341.5 5.5L347.5 5.5L344.5 9.5L345.5 9.5L346.5 10.5L347.5 10.5L347.5 12.5L347.5 13.5L347.5 14.5L346.5 15.5L344.5 16.5L343.5 16.5L341.5 15.5L340.5 14.5M356.5 5.5L351.5 12.5L359.5 12.5M356.5 5.5L356.5 16.5M368.5 6.5L368.5 5.5L366.5 5.5L365.5 5.5L363.5 5.5L362.5 7.5L362.5 10.5L362.5 12.5L362.5 14.5L363.5 15.5L365.5 16.5L367.5 15.5L368.5 14.5L369.5 13.5L369.5 12.5L368.5 11.5L367.5 10.5L365.5 9.5L363.5 10.5L362.5 11.5L362.5 12.5M378.5 5.5L373.5 5.5L372.5 10.5L373.5 9.5L374.5 9.5L376.5 9.5L378.5 9.5L379.5 10.5L379.5 12.5L379.5 13.5L379.5 14.5L378.5 15.5L376.5 16.5L374.5 16.5L373.5 15.5L372.5 15.5L372.5 14.5M383.5 5.5L389.5 5.5L386.5 9.5L388.5 9.5L389.5 10.5L390.5 12.5L390.5 13.5L389.5 14.5L388.5 15.5L387.5 16.5L385.5 16.5L383.5 15.5L382.5 14.5M398.5 5.5L393.5 12.5L401.5 12.5M398.5 5.5L398.5 16.5M405.5 5.5L410.5 5.5L407.5 9.5L409.5 9.5L410.5 10.5L411.5 12.5L411.5 13.5L410.5 14.5L409.5 15.5L408.5 16.5L406.5 16.5L405.5 15.5L404.5 15.5L404.5 14.5M421.5 9.5L421.5 10.5L419.5 11.5L418.5 12.5L417.5 12.5L416.5 11.5L415.5 10.5L414.5 9.5L414.5 8.5L415.5 6.5L416.5 5.5L417.5 5.5L418.5 5.5L419.5 5.5L421.5 6.5L421.5 9.5L421.5 11.5L421.5 14.5L419.5 15.5L418.5 16.5L417.5 16.5L415.5 15.5L415.5 14.5M422.5 17.5L433.5 17.5M434.5 9.5L434.5 16.5M434.5 12.5L434.5 10.5L435.5 9.5L436.5 9.5L438.5 9.5M443.5 9.5L442.5 9.5L441.5 10.5L440.5 12.5L440.5 13.5L441.5 14.5L442.5 15.5L443.5 16.5L444.5 16.5L445.5 15.5L447.5 14.5L447.5 13.5L447.5 12.5L447.5 10.5L445.5 9.5L444.5 9.5L443.5 9.5M451.5 5.5L451.5 16.5M451.5 10.5L452.5 9.5L453.5 9.5L454.5 9.5L456.5 9.5L457.5 10.5L457.5 12.5L457.5 13.5L457.5 14.5L456.5 15.5L454.5 16.5L453.5 16.5L452.5 15.5L451.5 14.5M460.5 12.5L467.5 12.5L467.5 11.5L466.5 10.5L466.5 9.5L465.5 9.5L463.5 9.5L462.5 9.5L461.5 10.5L460.5 12.5L460.5 13.5L461.5 14.5L462.5 15.5L463.5 16.5L465.5 16.5L466.5 15.5L467.5 14.5M470.5 9.5L470.5 16.5M470.5 12.5L471.5 10.5L472.5 9.5L473.5 9.5L475.5 9.5M478.5 5.5L478.5 14.5L478.5 15.5L479.5 16.5L480.5 16.5M476.5 9.5L480.5 9.5M486.5 9.5L485.5 9.5L484.5 10.5L483.5 12.5L483.5 13.5L484.5 14.5L485.5 15.5L486.5 16.5L487.5 16.5L488.5 15.5L489.5 14.5L490.5 13.5L490.5 12.5L489.5 10.5L488.5 9.5L487.5 9.5L486.5 9.5M499.5 10.5L498.5 9.5L497.5 9.5L495.5 9.5L494.5 9.5L493.5 10.5L494.5 11.5L495.5 12.5L497.5 12.5L498.5 13.5L499.5 14.5L498.5 15.5L497.5 16.5L495.5 16.5L494.5 15.5L493.5 14.5M509.5 5.5L509.5 16.5M509.5 10.5L507.5 9.5L506.5 9.5L505.5 9.5L504.5 9.5L503.5 10.5L502.5 12.5L502.5 13.5L503.5 14.5L504.5 15.5L505.5 16.5L506.5 16.5L507.5 15.5L509.5 14.5M512.5 5.5L513.5 5.5L513.5 4.5L512.5 5.5M513.5 9.5L513.5 16.5M517.5 9.5L517.5 16.5M517.5 11.5L519.5 9.5L520.5 9.5L521.5 9.5L522.5 9.5L523.5 11.5L523.5 16.5M523.5 11.5L524.5 9.5L525.5 9.5L527.5 9.5L528.5 9.5L529.5 11.5L529.5 16.5M533.5 9.5L533.5 16.5M533.5 11.5L534.5 9.5L536.5 9.5L537.5 9.5L538.5 9.5L539.5 11.5L539.5 16.5M539.5 11.5L540.5 9.5L541.5 9.5L543.5 9.5L544.5 9.5L545.5 11.5L545.5 16.5M80.5 462.5L81.5 461.5L82.5 460.5L82.5 469.5M93.5 461.5L92.5 461.5L91.5 460.5L90.5 460.5L89.5 461.5L88.5 462.5L88.5 464.5L88.5 466.5L88.5 468.5L89.5 469.5L90.5 469.5L91.5 469.5L92.5 469.5L93.5 468.5L93.5 466.5L93.5 465.5L92.5 464.5L91.5 463.5L90.5 463.5L89.5 464.5L88.5 465.5L88.5 466.5M186.5 462.5L187.5 461.5L189.5 460.5L189.5 469.5M196.5 460.5L195.5 461.5L194.5 461.5L194.5 462.5L195.5 463.5L197.5 464.5L198.5 464.5L199.5 465.5L200.5 466.5L200.5 467.5L199.5 468.5L199.5 469.5L198.5 469.5L196.5 469.5L195.5 469.5L194.5 468.5L194.5 467.5L194.5 466.5L194.5 465.5L195.5 464.5L196.5 464.5L198.5 463.5L199.5 463.5L199.5 462.5L199.5 461.5L198.5 460.5L196.5 460.5M292.5 462.5L293.5 461.5L294.5 460.5L296.5 460.5L296.5 461.5L297.5 461.5L297.5 462.5L297.5 463.5L296.5 465.5L292.5 469.5L298.5 469.5M303.5 460.5L302.5 461.5L301.5 462.5L300.5 464.5L300.5 465.5L301.5 467.5L302.5 469.5L303.5 469.5L304.5 469.5L305.5 469.5L306.5 467.5L306.5 465.5L306.5 464.5L306.5 462.5L305.5 461.5L304.5 460.5L303.5 460.5M399.5 462.5L399.5 461.5L400.5 461.5L400.5 460.5L402.5 460.5L403.5 461.5L404.5 462.5L404.5 463.5L403.5 463.5L403.5 465.5L398.5 469.5L404.5 469.5M407.5 462.5L408.5 461.5L409.5 460.5L411.5 460.5L411.5 461.5L412.5 461.5L412.5 462.5L412.5 463.5L411.5 465.5L407.5 469.5L413.5 469.5M272.5 476.5L272.5 482.5L272.5 484.5L273.5 485.5L274.5 485.5L275.5 485.5L276.5 485.5L277.5 484.5L278.5 482.5L278.5 476.5M283.5 476.5L283.5 485.5M280.5 476.5L286.5 476.5M80.5 962.5L81.5 961.5L82.5 960.5L82.5 969.5M93.5 961.5L92.5 961.5L91.5 960.5L90.5 960.5L89.5 961.5L88.5 962.5L88.5 964.5L88.5 966.5L88.5 968.5L89.5 969.5L90.5 969.5L91.5 969.5L92.5 969.5L93.5 968.5L93.5 966.5L93.5 965.5L92.5 964.5L91.5 963.5L90.5 963.5L89.5 964.5L88.5 965.5L88.5 966.5M186.5 962.5L187.5 961.5L189.5 960.5L189.5 969.5M196.5 960.5L195.5 961.5L194.5 961.5L194.5 962.5L195.5 963.5L197.5 964.5L198.5 964.5L199.5 965.5L200.5 966.5L200.5 967.5L199.5 968.5L199.5 969.5L198.5 969.5L196.5 969.5L195.5 969.5L194.5 968.5L194.5 967.5L194.5 966.5L194.5 965.5L195.5 964.5L196.5 964.5L198.5 963.5L199.5 963.5L199.5 962.5L199.5 961.5L198.5 960.5L196.5 960.5M292.5 962.5L293.5 961.5L294.5 960.5L296.5 960.5L296.5 961.5L297.5 961.5L297.5 962.5L297.5 963.5L296.5 965.5L292.5 969.5L298.5 969.5M303.5 960.5L302.5 961.5L301.5 962.5L300.5 964.5L300.5 965.5L301.5 967.5L302.5 969.5L303.5 969.5L304.5 969.5L305.5 969.5L306.5 967.5L306.5 965.5L306.5 964.5L306.5 962.5L305.5 961.5L304.5 960.5L303.5 960.5M399.5 962.5L399.5 961.5L400.5 961.5L400.5 960.5L402.5 960.5L403.5 961.5L404.5 962.5L404.5 963.5L403.5 963.5L403.5 965.5L398.5 969.5L404.5 969.5M407.5 962.5L408.5 961.5L409.5 960.5L411.5 960.5L411.5 961.5L412.5 961.5L412.5 962.5L412.5 963.5L411.5 965.5L407.5 969.5L413.5 969.5M272.5 976.5L272.5 982.5L272.5 984.5L273.5 985.5L274.5 985.5L275.5 985.5L276.5 985.5L277.5 984.5L278.5 982.5L278.5 976.5M283.5 976.5L283.5 985.5M280.5 976.5L286.5 976.5M580.5 462.5L581.5 461.5L582.5 460.5L582.5 469.5M593.5 461.5L592.5 461.5L591.5 460.5L590.5 460.5L589.5 461.5L588.5 462.5L588.5 464.5L588.5 466.5L588.5 468.5L589.5 469.5L590.5 469.5L591.5 469.5L592.5 469.5L593.5 468.5L593.5 466.5L593.5 465.5L592.5 464.5L591.5 463.5L590.5 463.5L589.5 464.5L588.5 465.5L588.5 466.5M686.5 462.5L687.5 461.5L689.5 460.5L689.5 469.5M696.5 460.5L695.5 461.5L694.5 461.5L694.5 462.5L695.5 463.5L697.5 464.5L698.5 464.5L699.5 465.5L700.5 466.5L700.5 467.5L699.5 468.5L699.5 469.5L698.5 469.5L696.5 469.5L695.5 469.5L694.5 468.5L694.5 467.5L694.5 466.5L694.5 465.5L695.5 464.5L696.5 464.5L698.5 463.5L699.5 463.5L699.5 462.5L699.5 461.5L698.5 460.5L696.5 460.5M792.5 462.5L793.5 461.5L794.5 460.5L796.5 460.5L796.5 461.5L797.5 461.5L797.5 462.5L797.5 463.5L796.5 465.5L792.5 469.5L798.5 469.5M803.5 460.5L802.5 461.5L801.5 462.5L800.5 464.5L800.5 465.5L801.5 467.5L802.5 469.5L803.5 469.5L804.5 469.5L805.5 469.5L806.5 467.5L806.5 465.5L806.5 464.5L806.5 462.5L805.5 461.5L804.5 460.5L803.5 460.5M899.5 462.5L899.5 461.5L900.5 461.5L900.5 460.5L902.5 460.5L903.5 461.5L904.5 462.5L904.5 463.5L903.5 463.5L903.5 465.5L898.5 469.5L904.5 469.5M907.5 462.5L908.5 461.5L909.5 460.5L911.5 460.5L911.5 461.5L912.5 461.5L912.5 462.5L912.5 463.5L911.5 465.5L907.5 469.5L913.5 469.5M772.5 476.5L772.5 482.5L772.5 484.5L773.5 485.5L774.5 485.5L775.5 485.5L776.5 485.5L777.5 484.5L778.5 482.5L778.5 476.5M783.5 476.5L783.5 485.5M780.5 476.5L786.5 476.5M580.5 962.5L581.5 961.5L582.5 960.5L582.5 969.5M593.5 961.5L592.5 961.5L591.5 960.5L590.5 960.5L589.5 961.5L588.5 962.5L588.5 964.5L588.5 966.5L588.5 968.5L589.5 969.5L590.5 969.5L591.5 969.5L592.5 969.5L593.5 968.5L593.5 966.5L593.5 965.5L592.5 964.5L591.5 963.5L590.5 963.5L589.5 964.5L588.5 965.5L588.5 966.5M686.5 962.5L687.5 961.5L689.5 960.5L689.5 969.5M696.5 960.5L695.5 961.5L694.5 961.5L694.5 962.5L695.5 963.5L697.5 964.5L698.5 964.5L699.5 965.5L700.5 966.5L700.5 967.5L699.5 968.5L699.5 969.5L698.5 969.5L696.5 969.5L695.5 969.5L694.5 968.5L694.5 967.5L694.5 966.5L694.5 965.5L695.5 964.5L696.5 964.5L698.5 963.5L699.5 963.5L699.5 962.5L699.5 961.5L698.5 960.5L696.5 960.5M792.5 962.5L793.5 961.5L794.5 960.5L796.5 960.5L796.5 961.5L797.5 961.5L797.5 962.5L797.5 963.5L796.5 965.5L792.5 969.5L798.5 969.5M803.5 960.5L802.5 961.5L801.5 962.5L800.5 964.5L800.5 965.5L801.5 967.5L802.5 969.5L803.5 969.5L804.5 969.5L805.5 969.5L806.5 967.5L806.5 965.5L806.5 964.5L806.5 962.5L805.5 961.5L804.5 960.5L803.5 960.5M899.5 962.5L899.5 961.5L900.5 961.5L900.5 960.5L902.5 960.5L903.5 961.5L904.5 962.5L904.5 963.5L903.5 963.5L903.5 965.5L898.5 969.5L904.5 969.5M907.5 962.5L908.5 961.5L909.5 960.5L911.5 960.5L911.5 961.5L912.5 961.5L912.5 962.5L912.5 963.5L911.5 965.5L907.5 969.5L913.5 969.5M772.5 976.5L772.5 982.5L772.5 984.5L773.5 985.5L774.5 985.5L775.5 985.5L776.5 985.5L777.5 984.5L778.5 982.5L778.5 976.5M783.5 976.5L783.5 985.5M780.5 976.5L786.5 976.5M71.5 442.5L70.5 443.5L69.5 444.5L68.5 446.5L68.5 447.5L69.5 449.5L70.5 451.5L71.5 451.5L72.5 451.5L73.5 451.5L74.5 449.5L74.5 447.5L74.5 446.5L74.5 444.5L73.5 443.5L72.5 442.5L71.5 442.5M74.5 304.5L69.5 304.5L69.5 308.5L69.5 307.5L71.5 307.5L72.5 307.5L73.5 307.5L74.5 308.5L74.5 310.5L74.5 312.5L73.5 313.5L72.5 313.5L71.5 313.5L69.5 313.5L69.5 312.5L68.5 311.5M61.5 164.5L62.5 163.5L63.5 162.5L63.5 171.5M71.5 162.5L70.5 163.5L69.5 164.5L68.5 166.5L68.5 167.5L69.5 169.5L70.5 171.5L71.5 171.5L72.5 171.5L73.5 171.5L74.5 169.5L74.5 167.5L74.5 166.5L74.5 164.5L73.5 163.5L72.5 162.5L71.5 162.5M61.5 25.5L62.5 24.5L63.5 23.5L63.5 32.5M74.5 23.5L69.5 23.5L69.5 27.5L69.5 26.5L71.5 26.5L72.5 26.5L73.5 26.5L74.5 27.5L74.5 29.5L74.5 31.5L73.5 32.5L72.5 32.5L71.5 32.5L69.5 32.5L69.5 31.5L68.5 30.5M558.5 409.5L566.5 409.5M573.5 404.5L568.5 410.5L575.5 410.5M573.5 404.5L573.5 413.5M558.5 324.5L566.5 324.5M569.5 321.5L569.5 320.5L570.5 320.5L571.5 319.5L572.5 319.5L573.5 320.5L574.5 320.5L574.5 321.5L574.5 322.5L573.5 324.5L568.5 328.5L574.5 328.5M571.5 233.5L570.5 234.5L569.5 235.5L568.5 237.5L568.5 238.5L569.5 240.5L570.5 242.5L571.5 242.5L572.5 242.5L573.5 242.5L574.5 240.5L574.5 238.5L574.5 237.5L574.5 235.5L573.5 234.5L572.5 233.5L571.5 233.5M569.5 149.5L569.5 148.5L570.5 148.5L571.5 147.5L572.5 147.5L573.5 148.5L574.5 148.5L574.5 149.5L574.5 150.5L573.5 152.5L568.5 156.5L574.5 156.5M573.5 62.5L568.5 68.5L575.5 68.5M573.5 62.5L573.5 71.5M71.5 942.5L70.5 943.5L69.5 944.5L68.5 946.5L68.5 947.5L69.5 949.5L70.5 951.5L71.5 951.5L72.5 951.5L73.5 951.5L74.5 949.5L74.5 947.5L74.5 946.5L74.5 944.5L73.5 943.5L72.5 942.5L71.5 942.5M69.5 863.5L69.5 862.5L70.5 862.5L71.5 861.5L72.5 861.5L73.5 862.5L74.5 862.5L74.5 863.5L74.5 864.5L73.5 866.5L68.5 870.5L74.5 870.5M73.5 776.5L68.5 782.5L75.5 782.5M73.5 776.5L73.5 785.5M74.5 691.5L72.5 690.5L71.5 690.5L70.5 691.5L69.5 692.5L69.5 694.5L69.5 696.5L69.5 698.5L70.5 699.5L71.5 699.5L72.5 699.5L73.5 699.5L74.5 698.5L74.5 696.5L74.5 695.5L73.5 694.5L72.5 693.5L71.5 693.5L70.5 694.5L69.5 695.5L69.5 696.5M71.5 605.5L69.5 606.5L69.5 607.5L69.5 608.5L70.5 608.5L72.5 609.5L73.5 609.5L74.5 610.5L74.5 611.5L74.5 612.5L74.5 613.5L74.5 614.5L72.5 614.5L71.5 614.5L69.5 614.5L69.5 613.5L68.5 612.5L68.5 611.5L69.5 610.5L70.5 609.5L71.5 609.5L73.5 608.5L74.5 608.5L74.5 607.5L74.5 606.5L72.5 605.5L71.5 605.5M61.5 525.5L62.5 524.5L63.5 523.5L63.5 532.5M71.5 523.5L70.5 524.5L69.5 525.5L68.5 527.5L68.5 528.5L69.5 530.5L70.5 532.5L71.5 532.5L72.5 532.5L73.5 532.5L74.5 530.5L74.5 528.5L74.5 527.5L74.5 525.5L73.5 524.5L72.5 523.5L71.5 523.5M571.5 942.5L570.5 943.5L569.5 944.5L568.5 946.5L568.5 947.5L569.5 949.5L570.5 951.5L571.5 951.5L572.5 951.5L573.5 951.5L574.5 949.5L574.5 947.5L574.5 946.5L574.5 944.5L573.5 943.5L572.5 942.5L571.5 942.5M569.5 863.5L569.5 862.5L570.5 862.5L571.5 861.5L572.5 861.5L573.5 862.5L574.5 862.5L574.5 863.5L574.5 864.5L573.5 866.5L568.5 870.5L574.5 870.5M573.5 776.5L568.5 782.5L575.5 782.5M573.5 776.5L573.5 785.5M574.5 691.5L572.5 690.5L571.5 690.5L570.5 691.5L569.5 692.5L569.5 694.5L569.5 696.5L569.5 698.5L570.5 699.5L571.5 699.5L572.5 699.5L573.5 699.5L574.5 698.5L574.5 696.5L574.5 695.5L573.5 694.5L572.5 693.5L571.5 693.5L570.5 694.5L569.5 695.5L569.5 696.5M571.5 605.5L569.5 606.5L569.5 607.5L569.5 608.5L570.5 608.5L572.5 609.5L573.5 609.5L574.5 610.5L574.5 611.5L574.5 612.5L574.5 613.5L574.5 614.5L572.5 614.5L571.5 614.5L569.5 614.5L569.5 613.5L568.5 612.5L568.5 611.5L569.5 610.5L570.5 609.5L571.5 609.5L573.5 608.5L574.5 608.5L574.5 607.5L574.5 606.5L572.5 605.5L571.5 605.5M561.5 525.5L562.5 524.5L563.5 523.5L563.5 532.5M571.5 523.5L570.5 524.5L569.5 525.5L568.5 527.5L568.5 528.5L569.5 530.5L570.5 532.5L571.5 532.5L572.5 532.5L573.5 532.5L574.5 530.5L574.5 528.5L574.5 527.5L574.5 525.5L573.5 524.5L572.5 523.5L571.5 523.5M41.5 374.5L47.5 374.5M44.5 374.5L42.5 373.5L41.5 373.5L41.5 372.5L41.5 370.5M47.5 368.5L48.5 368.5L48.5 369.5L49.5 369.5L50.5 369.5L51.5 368.5L51.5 367.5L50.5 366.5L49.5 366.5L48.5 366.5L48.5 367.5L47.5 367.5L47.5 368.5M36.5 360.5L35.5 361.5L35.5 362.5L35.5 363.5L36.5 364.5L37.5 364.5L38.5 364.5L39.5 364.5L40.5 364.5L40.5 363.5L41.5 363.5L41.5 362.5L40.5 361.5L40.5 360.5L39.5 360.5M35.5 357.5L41.5 359.5M35.5 357.5L41.5 355.5M39.5 358.5L39.5 356.5M35.5 354.5L41.5 354.5M41.5 354.5L41.5 350.5M36.5 345.5L36.5 346.5L35.5 346.5L35.5 347.5L35.5 348.5L36.5 349.5L37.5 349.5L38.5 349.5L39.5 349.5L40.5 349.5L40.5 348.5L41.5 348.5L41.5 347.5L40.5 346.5L39.5 345.5M40.5 343.5L41.5 343.5L40.5 344.5L40.5 343.5L41.5 343.5L42.5 344.5M36.5 338.5L35.5 338.5L35.5 339.5L35.5 340.5L35.5 341.5L36.5 341.5L37.5 341.5L37.5 340.5L38.5 339.5L38.5 338.5L39.5 338.5L40.5 338.5L41.5 339.5L41.5 340.5L40.5 341.5M35.5 336.5L41.5 336.5M35.5 336.5L35.5 334.5L35.5 333.5L36.5 333.5L36.5 332.5L37.5 332.5L38.5 332.5L39.5 332.5L40.5 333.5L41.5 334.5L41.5 336.5M35.5 330.5L41.5 330.5M35.5 328.5L41.5 328.5M35.5 328.5L41.5 326.5M35.5 324.5L41.5 326.5M35.5 324.5L41.5 324.5M35.5 322.5L41.5 322.5M35.5 322.5L41.5 320.5M35.5 318.5L41.5 320.5M35.5 318.5L41.5 318.5M36.5 306.5L37.5 306.5L39.5 307.5L40.5 308.5L42.5 309.5L44.5 309.5L46.5 308.5L48.5 307.5L49.5 306.5L50.5 306.5M42.5 298.5L41.5 299.5L41.5 300.5L41.5 301.5L41.5 302.5L42.5 303.5L44.5 303.5L46.5 303.5L47.5 302.5L47.5 301.5L47.5 300.5L47.5 299.5L46.5 298.5M41.5 295.5L47.5 295.5M43.5 295.5L41.5 294.5L41.5 293.5L41.5 292.5L41.5 291.5L43.5 290.5L47.5 290.5M43.5 290.5L41.5 289.5L41.5 288.5L41.5 287.5L41.5 286.5L43.5 286.5L47.5 286.5M36.5 283.5L37.5 282.5L39.5 281.5L40.5 280.5L42.5 280.5L44.5 280.5L46.5 280.5L48.5 281.5L49.5 282.5L50.5 283.5M41.5 265.5L47.5 265.5M42.5 265.5L41.5 266.5L41.5 268.5L41.5 269.5L42.5 269.5L44.5 270.5L46.5 269.5L47.5 269.5L47.5 268.5L47.5 266.5L46.5 265.5M38.5 261.5L45.5 261.5L47.5 260.5L47.5 259.5M41.5 262.5L41.5 259.5M41.5 238.5L47.5 238.5M42.5 238.5L41.5 239.5L41.5 240.5L41.5 241.5L41.5 242.5L42.5 243.5L44.5 243.5L46.5 243.5L47.5 242.5L47.5 241.5L47.5 240.5L47.5 239.5L46.5 238.5M38.5 234.5L45.5 234.5L47.5 234.5L47.5 233.5L47.5 232.5M41.5 235.5L41.5 232.5M40.5 223.5L39.5 222.5L38.5 221.5L38.5 219.5L39.5 218.5L40.5 218.5L41.5 218.5L43.5 219.5L47.5 223.5L47.5 217.5M46.5 214.5L47.5 214.5L47.5 213.5L46.5 214.5M38.5 205.5L38.5 209.5L42.5 210.5L41.5 209.5L41.5 208.5L41.5 207.5L41.5 206.5L42.5 205.5L44.5 204.5L46.5 205.5L47.5 206.5L47.5 207.5L47.5 208.5L47.5 209.5L46.5 210.5L45.5 210.5M38.5 199.5L39.5 201.5L40.5 201.5L42.5 202.5L43.5 202.5L45.5 201.5L47.5 201.5L47.5 199.5L47.5 198.5L47.5 197.5L45.5 196.5L43.5 196.5L42.5 196.5L40.5 196.5L39.5 197.5L38.5 198.5L38.5 199.5M38.5 191.5L39.5 192.5L40.5 193.5L42.5 193.5L43.5 193.5L45.5 193.5L47.5 192.5L47.5 191.5L47.5 190.5L47.5 189.5L45.5 188.5L43.5 187.5L42.5 187.5L40.5 188.5L39.5 189.5L38.5 190.5L38.5 191.5M38.5 182.5L39.5 184.5L40.5 184.5L42.5 185.5L43.5 185.5L45.5 184.5L47.5 184.5L47.5 182.5L47.5 181.5L47.5 180.5L45.5 179.5L43.5 179.5L42.5 179.5L40.5 179.5L39.5 180.5L38.5 181.5L38.5 182.5M38.5 174.5L39.5 175.5L40.5 176.5L42.5 176.5L43.5 176.5L45.5 176.5L47.5 175.5L47.5 174.5L47.5 173.5L47.5 172.5L45.5 171.5L43.5 170.5L42.5 170.5L40.5 171.5L39.5 172.5L38.5 173.5L38.5 174.5M38.5 165.5L39.5 167.5L40.5 167.5L42.5 168.5L43.5 168.5L45.5 167.5L47.5 167.5L47.5 165.5L47.5 164.5L47.5 163.5L45.5 162.5L43.5 162.5L42.5 162.5L40.5 162.5L39.5 163.5L38.5 164.5L38.5 165.5M38.5 157.5L39.5 158.5L40.5 159.5L42.5 159.5L43.5 159.5L45.5 159.5L47.5 158.5L47.5 157.5L47.5 156.5L47.5 155.5L45.5 154.5L43.5 153.5L42.5 153.5L40.5 154.5L39.5 155.5L38.5 156.5L38.5 157.5M41.5 144.5L47.5 144.5M43.5 144.5L41.5 142.5L41.5 141.5L41.5 140.5L41.5 139.5L43.5 139.5L47.5 139.5M43.5 139.5L41.5 138.5L41.5 137.5L41.5 136.5L41.5 135.5L43.5 134.5L47.5 134.5M44.5 131.5L44.5 126.5L43.5 126.5L42.5 127.5L41.5 127.5L41.5 128.5L41.5 129.5L41.5 130.5L42.5 131.5L44.5 131.5L46.5 131.5L47.5 130.5L47.5 129.5L47.5 128.5L47.5 127.5L46.5 126.5M38.5 123.5L45.5 123.5L47.5 122.5L47.5 121.5M41.5 124.5L41.5 121.5M44.5 119.5L44.5 113.5L43.5 113.5L42.5 114.5L41.5 114.5L41.5 115.5L41.5 116.5L41.5 117.5L42.5 118.5L44.5 119.5L46.5 118.5L47.5 117.5L47.5 116.5L47.5 115.5L47.5 114.5L46.5 113.5M41.5 110.5L47.5 110.5M44.5 110.5L42.5 110.5L41.5 109.5L41.5 108.5L41.5 107.5M42.5 101.5L41.5 101.5L41.5 102.5L41.5 104.5L41.5 105.5L42.5 105.5L43.5 105.5L44.5 104.5L44.5 102.5L44.5 101.5L45.5 101.5L46.5 101.5L47.5 101.5L47.5 102.5L47.5 104.5L47.5 105.5L46.5 105.5M539.5 376.5L545.5 376.5M542.5 376.5L540.5 375.5L539.5 374.5L539.5 372.5M545.5 370.5L546.5 370.5L546.5 371.5L547.5 371.5L548.5 371.5L549.5 370.5L549.5 369.5L549.5 368.5L548.5 368.5L547.5 368.5L546.5 368.5L545.5 369.5L545.5 370.5M534.5 362.5L533.5 363.5L533.5 364.5L533.5 365.5L534.5 366.5L535.5 366.5L536.5 366.5L537.5 366.5L538.5 366.5L538.5 365.5L539.5 364.5L539.5 363.5L538.5 363.5L538.5 362.5L537.5 362.5M533.5 359.5L539.5 361.5M533.5 359.5L539.5 357.5M537.5 360.5L537.5 358.5M533.5 356.5L539.5 356.5M539.5 356.5L539.5 352.5M534.5 347.5L534.5 348.5L533.5 348.5L533.5 349.5L533.5 350.5L534.5 351.5L535.5 351.5L536.5 351.5L537.5 351.5L538.5 351.5L538.5 350.5L539.5 350.5L539.5 349.5L538.5 348.5L537.5 347.5M541.5 335.5L541.5 328.5M539.5 317.5L545.5 317.5M542.5 317.5L540.5 317.5L539.5 316.5L539.5 315.5L539.5 314.5M545.5 312.5L546.5 312.5L546.5 313.5L547.5 313.5L548.5 313.5L549.5 312.5L549.5 311.5L549.5 310.5L548.5 310.5L547.5 309.5L546.5 310.5L545.5 311.5L545.5 312.5M534.5 304.5L533.5 305.5L533.5 307.5L534.5 308.5L535.5 308.5L535.5 307.5L536.5 305.5L536.5 304.5L537.5 304.5L538.5 304.5L538.5 305.5L539.5 305.5L539.5 307.5L538.5 307.5L538.5 308.5M533.5 302.5L539.5 302.5M533.5 302.5L533.5 300.5L534.5 299.5L535.5 299.5L536.5 299.5L537.5 299.5L538.5 299.5L538.5 300.5L539.5 300.5L539.5 302.5M533.5 297.5L539.5 297.5M533.5 295.5L539.5 295.5M533.5 295.5L539.5 293.5M533.5 290.5L539.5 293.5M533.5 290.5L539.5 290.5M533.5 288.5L539.5 288.5M533.5 288.5L539.5 286.5M533.5 284.5L539.5 286.5M533.5 284.5L539.5 284.5M534.5 275.5L535.5 276.5L537.5 277.5L538.5 278.5L540.5 278.5L542.5 278.5L544.5 278.5L546.5 277.5L547.5 276.5L548.5 275.5M540.5 268.5L539.5 269.5L539.5 271.5L539.5 272.5L540.5 272.5L542.5 273.5L544.5 272.5L545.5 272.5L545.5 271.5L545.5 269.5L544.5 268.5M539.5 265.5L545.5 265.5M541.5 265.5L539.5 264.5L539.5 263.5L539.5 261.5L541.5 260.5L545.5 260.5M541.5 260.5L539.5 259.5L539.5 258.5L539.5 257.5L539.5 256.5L541.5 255.5L545.5 255.5M534.5 252.5L535.5 252.5L537.5 251.5L538.5 250.5L540.5 250.5L542.5 250.5L544.5 250.5L546.5 251.5L547.5 252.5L548.5 252.5M539.5 235.5L545.5 235.5M540.5 235.5L539.5 235.5L539.5 236.5L539.5 238.5L540.5 239.5L542.5 240.5L544.5 239.5L545.5 238.5L545.5 236.5L545.5 235.5L544.5 235.5M536.5 231.5L543.5 231.5L545.5 230.5L545.5 229.5M539.5 232.5L539.5 229.5M538.5 219.5L537.5 219.5L537.5 218.5L536.5 218.5L536.5 216.5L537.5 215.5L538.5 214.5L539.5 214.5L539.5 215.5L541.5 216.5L545.5 220.5L545.5 214.5M544.5 210.5L545.5 211.5L545.5 210.5L544.5 210.5M536.5 202.5L536.5 206.5L540.5 207.5L539.5 206.5L539.5 205.5L539.5 204.5L539.5 202.5L540.5 201.5L542.5 201.5L544.5 201.5L545.5 202.5L545.5 204.5L545.5 205.5L545.5 206.5L544.5 207.5L543.5 207.5M536.5 196.5L537.5 197.5L538.5 198.5L540.5 199.5L541.5 199.5L543.5 198.5L545.5 197.5L545.5 196.5L545.5 195.5L545.5 194.5L543.5 193.5L541.5 193.5L540.5 193.5L538.5 193.5L537.5 194.5L536.5 195.5L536.5 196.5M536.5 187.5L537.5 189.5L538.5 190.5L540.5 190.5L541.5 190.5L543.5 190.5L545.5 189.5L545.5 187.5L545.5 185.5L543.5 184.5L541.5 184.5L540.5 184.5L538.5 184.5L537.5 185.5L536.5 187.5M536.5 179.5L537.5 180.5L538.5 181.5L540.5 182.5L541.5 182.5L543.5 181.5L545.5 180.5L545.5 179.5L545.5 178.5L545.5 177.5L543.5 176.5L541.5 176.5L540.5 176.5L538.5 176.5L537.5 177.5L536.5 178.5L536.5 179.5M536.5 170.5L537.5 172.5L538.5 173.5L540.5 173.5L541.5 173.5L543.5 173.5L545.5 172.5L545.5 170.5L545.5 168.5L543.5 167.5L541.5 167.5L540.5 167.5L538.5 167.5L537.5 168.5L536.5 170.5M536.5 162.5L537.5 163.5L538.5 164.5L540.5 165.5L541.5 165.5L543.5 164.5L545.5 163.5L545.5 162.5L545.5 161.5L545.5 160.5L543.5 159.5L541.5 159.5L540.5 159.5L538.5 159.5L537.5 160.5L536.5 161.5L536.5 162.5M536.5 153.5L537.5 155.5L538.5 156.5L540.5 156.5L541.5 156.5L543.5 156.5L545.5 155.5L545.5 153.5L545.5 151.5L543.5 150.5L541.5 150.5L540.5 150.5L538.5 150.5L537.5 151.5L536.5 153.5M539.5 140.5L545.5 140.5M541.5 140.5L539.5 139.5L539.5 138.5L539.5 137.5L539.5 136.5L541.5 136.5L545.5 136.5M541.5 136.5L539.5 134.5L539.5 133.5L539.5 132.5L539.5 131.5L541.5 131.5L545.5 131.5M542.5 128.5L542.5 123.5L541.5 123.5L540.5 123.5L539.5 124.5L539.5 125.5L539.5 126.5L539.5 127.5L540.5 128.5L542.5 128.5L544.5 128.5L545.5 127.5L545.5 126.5L545.5 125.5L545.5 124.5L544.5 123.5M536.5 119.5L543.5 119.5L545.5 119.5L545.5 118.5L545.5 117.5M539.5 121.5L539.5 118.5M542.5 115.5L542.5 110.5L541.5 110.5L540.5 111.5L539.5 111.5L539.5 112.5L539.5 113.5L539.5 114.5L540.5 115.5L542.5 115.5L544.5 115.5L545.5 114.5L545.5 113.5L545.5 112.5L545.5 111.5L544.5 110.5M539.5 107.5L545.5 107.5M542.5 107.5L540.5 107.5L539.5 106.5L539.5 105.5L539.5 104.5M540.5 97.5L539.5 98.5L539.5 99.5L539.5 100.5L539.5 102.5L540.5 102.5L541.5 102.5L542.5 101.5L542.5 99.5L542.5 98.5L543.5 97.5L544.5 97.5L545.5 98.5L545.5 99.5L545.5 100.5L545.5 102.5L544.5 102.5M42.5 817.5L48.5 817.5M45.5 817.5L43.5 817.5L42.5 816.5L42.5 815.5L42.5 814.5M48.5 811.5L49.5 812.5L50.5 812.5L51.5 812.5L52.5 812.5L52.5 811.5L52.5 810.5L51.5 809.5L50.5 809.5L49.5 809.5L49.5 810.5L48.5 810.5L48.5 811.5M37.5 804.5L36.5 804.5L36.5 805.5L36.5 806.5L37.5 807.5L38.5 807.5L39.5 807.5L40.5 807.5L41.5 807.5L41.5 806.5L42.5 806.5L42.5 805.5L41.5 804.5L40.5 804.5M36.5 800.5L42.5 802.5M36.5 800.5L42.5 798.5M40.5 802.5L40.5 799.5M36.5 797.5L42.5 797.5M42.5 797.5L42.5 794.5M37.5 789.5L36.5 790.5L36.5 791.5L36.5 792.5L37.5 792.5L38.5 793.5L39.5 793.5L40.5 792.5L41.5 792.5L42.5 791.5L42.5 790.5L41.5 790.5L41.5 789.5L40.5 789.5M37.5 780.5L38.5 780.5L40.5 781.5L41.5 782.5L43.5 783.5L45.5 783.5L47.5 782.5L49.5 781.5L50.5 780.5L51.5 780.5M43.5 772.5L42.5 773.5L42.5 774.5L42.5 775.5L42.5 776.5L43.5 777.5L45.5 777.5L47.5 777.5L48.5 776.5L48.5 775.5L48.5 774.5L48.5 773.5L47.5 772.5M42.5 769.5L48.5 769.5M44.5 769.5L42.5 768.5L42.5 767.5L42.5 766.5L42.5 765.5L44.5 764.5L48.5 764.5M44.5 764.5L42.5 763.5L42.5 762.5L42.5 761.5L42.5 760.5L44.5 760.5L48.5 760.5M37.5 757.5L38.5 756.5L40.5 755.5L41.5 754.5L43.5 754.5L45.5 754.5L47.5 754.5L49.5 755.5L50.5 756.5L51.5 757.5M42.5 739.5L48.5 739.5M43.5 739.5L42.5 740.5L42.5 742.5L42.5 743.5L43.5 743.5L45.5 744.5L47.5 743.5L48.5 743.5L48.5 742.5L48.5 740.5L47.5 739.5M39.5 735.5L46.5 735.5L48.5 734.5L48.5 733.5M42.5 736.5L42.5 733.5M41.5 723.5L40.5 722.5L39.5 720.5L48.5 720.5M39.5 710.5L39.5 715.5L43.5 715.5L42.5 715.5L42.5 713.5L42.5 712.5L42.5 711.5L43.5 710.5L45.5 709.5L47.5 710.5L48.5 711.5L48.5 712.5L48.5 713.5L48.5 715.5L47.5 715.5L46.5 715.5M42.5 700.5L48.5 700.5M44.5 700.5L42.5 698.5L42.5 696.5L42.5 695.5L44.5 695.5L48.5 695.5M44.5 695.5L42.5 694.5L42.5 693.5L42.5 692.5L42.5 691.5L44.5 690.5L48.5 690.5M45.5 687.5L45.5 682.5L44.5 682.5L43.5 683.5L42.5 683.5L42.5 684.5L42.5 685.5L42.5 686.5L43.5 687.5L45.5 687.5L47.5 687.5L48.5 686.5L48.5 685.5L48.5 684.5L48.5 683.5L47.5 682.5M39.5 679.5L46.5 679.5L48.5 678.5L48.5 677.5M42.5 680.5L42.5 677.5M45.5 675.5L45.5 669.5L44.5 669.5L43.5 670.5L42.5 670.5L42.5 671.5L42.5 672.5L42.5 673.5L43.5 674.5L45.5 675.5L47.5 674.5L48.5 673.5L48.5 672.5L48.5 671.5L48.5 670.5L47.5 669.5M42.5 666.5L48.5 666.5M45.5 666.5L43.5 666.5L42.5 665.5L42.5 664.5L42.5 663.5M43.5 657.5L42.5 657.5L42.5 658.5L42.5 660.5L42.5 661.5L43.5 661.5L44.5 661.5L45.5 660.5L45.5 658.5L45.5 657.5L46.5 657.5L47.5 657.5L48.5 657.5L48.5 658.5L48.5 660.5L48.5 661.5L47.5 661.5M538.5 801.5L547.5 799.5M538.5 797.5L547.5 799.5M538.5 797.5L547.5 795.5M538.5 793.5L547.5 795.5M538.5 790.5L547.5 790.5M538.5 787.5L547.5 787.5M538.5 787.5L547.5 781.5M538.5 781.5L547.5 781.5M538.5 777.5L547.5 777.5M538.5 777.5L538.5 774.5L539.5 773.5L539.5 772.5L540.5 772.5L541.5 771.5L544.5 771.5L545.5 772.5L546.5 772.5L547.5 773.5L547.5 774.5L547.5 777.5M539.5 756.5L539.5 757.5L538.5 758.5L538.5 760.5L539.5 761.5L539.5 762.5L540.5 762.5L541.5 762.5L541.5 761.5L542.5 760.5L543.5 758.5L543.5 757.5L544.5 756.5L546.5 756.5L547.5 757.5L547.5 758.5L547.5 760.5L547.5 761.5L546.5 762.5M538.5 753.5L547.5 753.5M538.5 753.5L538.5 749.5L539.5 748.5L540.5 747.5L541.5 747.5L542.5 748.5L543.5 749.5L543.5 753.5M538.5 744.5L547.5 744.5M538.5 744.5L538.5 739.5M542.5 744.5L542.5 741.5M547.5 744.5L547.5 739.5M538.5 736.5L547.5 736.5M538.5 736.5L538.5 731.5M542.5 736.5L542.5 733.5M547.5 736.5L547.5 731.5M538.5 728.5L547.5 728.5M538.5 728.5L538.5 725.5L539.5 724.5L539.5 723.5L540.5 722.5L541.5 722.5L544.5 722.5L545.5 722.5L546.5 723.5L547.5 724.5L547.5 725.5L547.5 728.5M536.5 709.5L537.5 710.5L539.5 711.5L540.5 712.5L542.5 712.5L544.5 712.5L546.5 712.5L548.5 711.5L549.5 710.5L550.5 709.5M541.5 706.5L547.5 706.5M543.5 706.5L541.5 705.5L541.5 704.5L541.5 703.5L541.5 702.5L543.5 702.5L547.5 702.5M543.5 702.5L541.5 700.5L541.5 698.5L541.5 697.5L543.5 697.5L547.5 697.5M536.5 687.5L550.5 694.5M542.5 680.5L541.5 680.5L541.5 682.5L541.5 683.5L541.5 684.5L542.5 685.5L543.5 684.5L544.5 683.5L544.5 681.5L544.5 680.5L545.5 680.5L546.5 680.5L547.5 680.5L547.5 682.5L547.5 683.5L547.5 684.5L546.5 685.5M536.5 677.5L537.5 677.5L539.5 676.5L540.5 675.5L542.5 674.5L544.5 674.5L546.5 675.5L548.5 676.5L549.5 677.5L550.5 677.5"/>
<g text-rendering="geometricPrecision">
<text x="10" y="17" font-size="16" fill="none">COSADA ANALYSIS 20260107_BL0_365734653439_robertosdimm</text>
<text x="79" y="470" font-size="13" fill="none">16</text>
<text x="185" y="470" font-size="13" fill="none">18</text>
<text x="292" y="470" font-size="13" fill="none">20</text>
<text x="398" y="470" font-size="13" fill="none">22</text>
<text x="271" y="486" font-size="13" fill="none">UT</text>
<text x="79" y="970" font-size="13" fill="none">16</text>
<text x="185" y="970" font-size="13" fill="none">18</text>
<text x="292" y="970" font-size="13" fill="none">20</text>
<text x="398" y="970" font-size="13" fill="none">22</text>
<text x="271" y="986" font-size="13" fill="none">UT</text>
<text x="579" y="470" font-size="13" fill="none">16</text>
<text x="685" y="470" font-size="13" fill="none">18</text>
<text x="792" y="470" font-size="13" fill="none">20</text>
<text x="898" y="470" font-size="13" fill="none">22</text>
<text x="771" y="486" font-size="13" fill="none">UT</text>
<text x="579" y="970" font-size="13" fill="none">16</text>
<text x="685" y="970" font-size="13" fill="none">18</text>
<text x="792" y="970" font-size="13" fill="none">20</text>
<text x="898" y="970" font-size="13" fill="none">22</text>
<text x="771" y="986" font-size="13" fill="none">UT</text>
<text x="62" y="451" font-size="13" fill="none">0</text>
<text x="62" y="313" font-size="13" fill="none">5</text>
<text x="62" y="171" font-size="13" fill="none">10</text>
<text x="62" y="33" font-size="13" fill="none">15</text>
<text x="560" y="413.2" font-size="13" fill="none">−4</text>
<text x="560" y="327.6" font-size="13" fill="none">−2</text>
<text x="560" y="242.0" font-size="13" fill="none">0</text>
<text x="560" y="156.4" font-size="13" fill="none">2</text>
<text x="560" y="70.80000000000001" font-size="13" fill="none">4</text>
<text x="62" y="951" font-size="13" fill="none">0</text>
<text x="62" y="870.4" font-size="13" fill="none">2</text>
<text x="62" y="784.8" font-size="13" fill="none">4</text>
<text x="62" y="699.2" font-size="13" fill="none">6</text>
<text x="62" y="613.6" font-size="13" fill="none">8</text>
<text x="62" y="528.0" font-size="13" fill="none">10</text>
<text x="562" y="951" font-size="13" fill="none">0</text>
<text x="562" y="870.4" font-size="13" fill="none">2</text>
<text x="562" y="784.8" font-size="13" fill="none">4</text>
<text x="562" y="699.2" font-size="13" fill="none">6</text>
<text x="562" y="613.6" font-size="13" fill="none">8</text>
<text x="562" y="528.0" font-size="13" fill="none">10</text>
<text transform="translate(48 376) rotate(-90)" font-size="13" fill="none">r<tspan baseline-shift="sub" font-size="8">o</tspan><tspan baseline-shift="super" font-size="8">CALC,SDIMM</tspan> (cm) at  at 2.5000000 meters</text>
<text transform="translate(546 378) rotate(-90)" font-size="13" fill="none">r<tspan baseline-shift="sub" font-size="8">o</tspan><tspan baseline-shift="super" font-size="8">CALC</tspan> − r<tspan baseline-shift="sub" font-size="8">o</tspan><tspan baseline-shift="super" font-size="8">SDIMM</tspan> (cm) at 2.5000000 meters</text>
<text transform="translate(49 819) rotate(-90)" font-size="13" fill="none">r<tspan baseline-shift="sub" font-size="8">o</tspan><tspan baseline-shift="super" font-size="8">CALC</tspan> (cm) at 15 meters</text>
<text transform="translate(548 802) rotate(-90)" font-size="13" fill="none">WIND SPEED (m/s)</text>
</g>
</svg>
</body></html>
